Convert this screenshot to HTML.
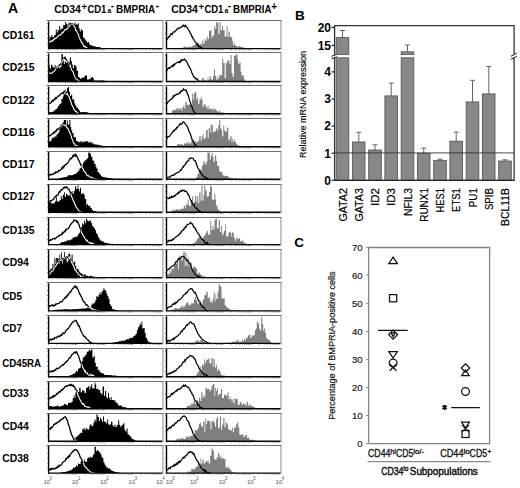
<!DOCTYPE html>
<html><head><meta charset="utf-8"><style>
html,body{margin:0;padding:0;background:#fff;}
body{width:520px;height:488px;overflow:hidden;}
svg{display:block;font-family:"Liberation Sans", sans-serif;}
</style></head><body>
<svg width="520" height="488" viewBox="0 0 520 488">
<rect width="520" height="488" fill="#fff"/>
<text x="8" y="13.4" font-size="14" font-weight="bold">A</text>
<g font-weight="bold"><text x="54.2" y="13.4" font-size="10.8" textLength="26.7" lengthAdjust="spacingAndGlyphs">CD34</text><text x="81.6" y="9.7" font-size="9.6">+</text><text x="87.4" y="13.4" font-size="10.8" textLength="19.0" lengthAdjust="spacingAndGlyphs">CD1</text><text x="107.5" y="13.3" font-size="6.8">a</text><text x="110.8" y="9.0" font-size="10.2">-</text><text x="116.1" y="13.4" font-size="10.8" textLength="39.2" lengthAdjust="spacingAndGlyphs">BMPRIA</text><text x="155.5" y="9.3" font-size="11">-</text></g>
<g font-weight="bold"><text x="171.2" y="13.4" font-size="10.8" textLength="26.7" lengthAdjust="spacingAndGlyphs">CD34</text><text x="198.6" y="9.7" font-size="9.6">+</text><text x="204.4" y="13.4" font-size="10.8" textLength="19.0" lengthAdjust="spacingAndGlyphs">CD1</text><text x="224.5" y="13.3" font-size="6.8">a</text><text x="227.8" y="9.0" font-size="10.2">-</text><text x="233.1" y="13.4" font-size="10.8" textLength="38.5" lengthAdjust="spacingAndGlyphs">BMPRIA</text><text x="271.3" y="9.75" font-size="10">+</text></g>
<text x="2.2" y="38.5" font-size="10.6" font-weight="bold" textLength="32.4" lengthAdjust="spacingAndGlyphs">CD161</text>
<path d="M162.9 20.9V49.6" fill="none" stroke="#bdbdbd" stroke-width="1.8"/>
<path d="M46.6 20.5H163.4" fill="none" stroke="#6e6e6e" stroke-width="1.0"/>
<path d="M48.6 41.9L49.2 42.6L49.9 41.8L50.5 41.1L51.1 41.0L51.7 41.4L52.4 40.4L53.0 40.9L53.6 39.3L54.2 39.3L54.9 38.2L55.5 38.6L56.1 38.4L56.7 37.4L57.4 36.9L58.0 36.2L58.6 35.8L59.2 35.1L59.9 34.7L60.5 35.1L61.1 34.4L61.7 33.6L62.3 32.4L62.9 32.8L63.6 31.7L64.2 30.8L64.8 29.8L65.4 29.6L66.0 29.5L66.6 29.4L67.2 28.3L67.9 28.2L68.5 27.0L69.1 26.7L69.8 25.8L70.5 23.4L71.2 24.0L71.9 24.0L72.5 24.0L73.2 25.0L73.9 25.8L74.5 26.3L75.2 28.2L75.8 30.6L76.5 30.4L77.2 32.4L77.9 33.7L78.6 35.1L79.3 37.9L79.9 39.0L80.6 40.0L81.3 42.2L82.0 42.4L82.7 44.3L83.4 45.0L84.1 46.8L84.9 46.3L85.6 47.2L86.4 47.9L87.2 48.1L88.0 48.6L88.7 48.6" fill="none" stroke="#000" stroke-width="1.3"/>
<clipPath id="k1"><path d="M48.6 48.6L48.6 39.7L49.6 39.7L49.6 36.5L50.4 36.5L50.4 37.4L51.4 37.4L51.4 35.1L52.4 35.1L52.4 36.9L53.2 36.9L53.2 37.2L54.0 37.2L54.0 35.2L55.0 35.2L55.0 34.8L55.8 34.8L55.8 29.4L56.8 29.4L56.8 32.6L57.8 32.6L57.8 30.3L59.2 30.3L59.2 25.9L60.2 25.9L60.2 29.7L61.2 29.7L61.2 28.4L62.0 28.4L62.0 28.6L63.2 28.6L63.2 25.0L64.2 25.0L64.2 25.2L65.2 25.2L65.2 22.1L66.2 22.1L66.2 23.9L67.4 23.9L67.4 27.4L68.4 27.4L68.4 22.9L69.8 22.9L69.8 24.5L70.8 24.5L70.8 22.9L71.6 22.9L71.6 24.2L72.6 24.2L72.6 23.8L73.8 23.8L73.8 24.5L74.6 24.5L74.6 22.1L75.4 22.1L75.4 24.4L76.8 24.4L76.8 24.6L77.8 24.6L77.8 23.2L78.8 23.2L78.8 28.5L79.8 28.5L79.8 31.5L80.8 31.5L80.8 29.3L81.8 29.3L81.8 30.5L83.0 30.5L83.0 37.5L84.4 37.5L84.4 39.3L85.6 39.3L85.6 40.7L86.8 40.7L86.8 42.6L88.0 42.6L88.0 41.9L89.0 41.9L89.0 43.8L89.8 43.8L89.8 45.2L90.8 45.2L90.8 45.3L92.2 45.3L92.2 46.0L93.2 46.0L93.2 46.2L94.6 46.2L94.6 46.5L95.8 46.5L95.8 46.9L97.2 46.9L97.2 47.1L98.0 47.1L98.0 47.1L99.0 47.1L99.0 47.1L100.0 47.1L100.0 47.5L100.8 47.5L100.8 47.7L101.6 47.7L101.6 47.9L102.4 47.9L102.4 48.0L103.4 48.0L103.4 48.2L104.8 48.2L104.8 48.3L106.0 48.3L106.0 48.6L107.2 48.6L107.2 48.6L108.2 48.6L108.2 48.6L108.4 48.6L108.4 48.6Z"/></clipPath>
<path d="M48.6 48.6L48.6 39.7L49.6 39.7L49.6 36.5L50.4 36.5L50.4 37.4L51.4 37.4L51.4 35.1L52.4 35.1L52.4 36.9L53.2 36.9L53.2 37.2L54.0 37.2L54.0 35.2L55.0 35.2L55.0 34.8L55.8 34.8L55.8 29.4L56.8 29.4L56.8 32.6L57.8 32.6L57.8 30.3L59.2 30.3L59.2 25.9L60.2 25.9L60.2 29.7L61.2 29.7L61.2 28.4L62.0 28.4L62.0 28.6L63.2 28.6L63.2 25.0L64.2 25.0L64.2 25.2L65.2 25.2L65.2 22.1L66.2 22.1L66.2 23.9L67.4 23.9L67.4 27.4L68.4 27.4L68.4 22.9L69.8 22.9L69.8 24.5L70.8 24.5L70.8 22.9L71.6 22.9L71.6 24.2L72.6 24.2L72.6 23.8L73.8 23.8L73.8 24.5L74.6 24.5L74.6 22.1L75.4 22.1L75.4 24.4L76.8 24.4L76.8 24.6L77.8 24.6L77.8 23.2L78.8 23.2L78.8 28.5L79.8 28.5L79.8 31.5L80.8 31.5L80.8 29.3L81.8 29.3L81.8 30.5L83.0 30.5L83.0 37.5L84.4 37.5L84.4 39.3L85.6 39.3L85.6 40.7L86.8 40.7L86.8 42.6L88.0 42.6L88.0 41.9L89.0 41.9L89.0 43.8L89.8 43.8L89.8 45.2L90.8 45.2L90.8 45.3L92.2 45.3L92.2 46.0L93.2 46.0L93.2 46.2L94.6 46.2L94.6 46.5L95.8 46.5L95.8 46.9L97.2 46.9L97.2 47.1L98.0 47.1L98.0 47.1L99.0 47.1L99.0 47.1L100.0 47.1L100.0 47.5L100.8 47.5L100.8 47.7L101.6 47.7L101.6 47.9L102.4 47.9L102.4 48.0L103.4 48.0L103.4 48.2L104.8 48.2L104.8 48.3L106.0 48.3L106.0 48.6L107.2 48.6L107.2 48.6L108.2 48.6L108.2 48.6L108.4 48.6L108.4 48.6Z" fill="#000"/>
<path d="M48.6 41.9L49.2 42.6L49.9 41.8L50.5 41.1L51.1 41.0L51.7 41.4L52.4 40.4L53.0 40.9L53.6 39.3L54.2 39.3L54.9 38.2L55.5 38.6L56.1 38.4L56.7 37.4L57.4 36.9L58.0 36.2L58.6 35.8L59.2 35.1L59.9 34.7L60.5 35.1L61.1 34.4L61.7 33.6L62.3 32.4L62.9 32.8L63.6 31.7L64.2 30.8L64.8 29.8L65.4 29.6L66.0 29.5L66.6 29.4L67.2 28.3L67.9 28.2L68.5 27.0L69.1 26.7L69.8 25.8L70.5 23.4L71.2 24.0L71.9 24.0L72.5 24.0L73.2 25.0L73.9 25.8L74.5 26.3L75.2 28.2L75.8 30.6L76.5 30.4L77.2 32.4L77.9 33.7L78.6 35.1L79.3 37.9L79.9 39.0L80.6 40.0L81.3 42.2L82.0 42.4L82.7 44.3L83.4 45.0L84.1 46.8L84.9 46.3L85.6 47.2L86.4 47.9L87.2 48.1L88.0 48.6L88.7 48.6" fill="none" stroke="#fff" stroke-width="1.1" clip-path="url(#k1)"/>
<path d="M48.6 21.5V48.6H162.3" fill="none" stroke="#000" stroke-width="1.4"/>
<path d="M48.6 48.6v1.6M57.1 48.6v1.6M62.0 48.6v1.6M65.5 48.6v1.6M68.2 48.6v1.6M70.4 48.6v1.6M72.3 48.6v1.6M74.0 48.6v1.6M75.4 48.6v1.6M76.7 48.6v1.6M85.1 48.6v1.6M90.1 48.6v1.6M93.6 48.6v1.6M96.3 48.6v1.6M98.5 48.6v1.6M100.4 48.6v1.6M102.0 48.6v1.6M103.5 48.6v1.6M104.8 48.6v1.6M113.2 48.6v1.6M118.1 48.6v1.6M121.7 48.6v1.6M124.4 48.6v1.6M126.6 48.6v1.6M128.5 48.6v1.6M130.1 48.6v1.6M131.5 48.6v1.6M132.8 48.6v1.6M141.3 48.6v1.6M146.2 48.6v1.6M149.7 48.6v1.6M152.4 48.6v1.6M154.7 48.6v1.6M156.6 48.6v1.6M158.2 48.6v1.6M159.6 48.6v1.6M160.9 48.6v1.6M48.6 43.6h-1.6M48.6 38.5h-1.6M48.6 33.5h-1.6M48.6 28.5h-1.6M48.6 23.4h-1.6" stroke="#444" stroke-width="0.6" fill="none"/>
<path d="M281.0 20.9V49.6" fill="none" stroke="#bdbdbd" stroke-width="1.8"/>
<path d="M164.5 20.5H281.5" fill="none" stroke="#6e6e6e" stroke-width="1.0"/>
<path d="M180.2 48.6L180.2 48.2L181.2 48.2L181.2 47.9L182.4 47.9L182.4 47.4L183.8 47.4L183.8 46.8L184.8 46.8L184.8 46.6L185.6 46.6L185.6 46.9L186.4 46.9L186.4 47.6L187.6 47.6L187.6 46.5L188.6 46.5L188.6 46.9L190.0 46.9L190.0 46.5L191.0 46.5L191.0 47.0L191.8 47.0L191.8 46.0L193.0 46.0L193.0 45.4L194.4 45.4L194.4 44.7L195.8 44.7L195.8 43.9L197.2 43.9L197.2 44.3L198.2 44.3L198.2 42.6L199.2 42.6L199.2 45.0L200.0 45.0L200.0 44.1L201.4 44.1L201.4 44.7L202.2 44.7L202.2 40.5L203.2 40.5L203.2 43.5L204.6 43.5L204.6 39.0L205.4 39.0L205.4 40.8L206.8 40.8L206.8 36.7L207.8 36.7L207.8 38.9L209.0 38.9L209.0 30.9L210.4 30.9L210.4 30.0L211.4 30.0L211.4 37.7L212.4 37.7L212.4 35.1L213.2 35.1L213.2 35.9L214.2 35.9L214.2 26.0L215.2 26.0L215.2 28.9L216.2 28.9L216.2 22.1L217.2 22.1L217.2 22.8L218.4 22.8L218.4 34.1L219.6 34.1L219.6 22.1L220.6 22.1L220.6 30.3L222.0 30.3L222.0 26.1L223.0 26.1L223.0 30.2L223.8 30.2L223.8 29.9L224.6 29.9L224.6 36.6L225.6 36.6L225.6 36.5L226.6 36.5L226.6 26.2L227.6 26.2L227.6 37.1L228.6 37.1L228.6 31.8L229.8 31.8L229.8 36.7L230.8 36.7L230.8 37.3L232.2 37.3L232.2 41.0L233.0 41.0L233.0 45.0L234.0 45.0L234.0 43.0L234.8 43.0L234.8 45.5L235.6 45.5L235.6 45.9L236.6 45.9L236.6 46.2L237.6 46.2L237.6 47.2L238.6 47.2L238.6 45.9L239.6 45.9L239.6 46.1L240.6 46.1L240.6 47.0L241.6 47.0L241.6 47.3L242.6 47.3L242.6 47.2L243.6 47.2L243.6 47.5L244.6 47.5L244.6 48.2L246.0 48.2L246.0 48.4L247.2 48.4L247.2 48.5L248.4 48.5L248.4 48.6L249.5 48.6L249.5 48.6Z" fill="#7f7f7f"/>
<path d="M166.5 39.7L167.1 39.2L167.8 38.7L168.4 37.0L169.0 36.5L169.7 36.7L170.3 34.6L170.9 33.8L171.6 33.6L172.2 34.4L172.8 32.8L173.4 31.9L174.1 32.0L174.7 32.1L175.3 30.5L176.0 30.5L176.6 29.8L177.2 28.6L177.9 28.7L178.5 28.0L179.2 28.5L179.8 27.9L180.5 27.3L181.2 27.4L181.8 26.5L182.5 26.4L183.2 25.1L183.9 26.0L184.6 26.5L185.2 25.3L185.9 26.6L186.7 27.2L187.5 27.8L188.2 29.6L188.9 30.4L189.6 31.2L190.3 33.3L191.0 34.0L191.7 36.5L192.4 36.5L193.1 38.8L193.8 39.3L194.5 40.7L195.2 41.9L195.9 42.4L196.6 44.3L197.3 43.9L197.9 44.9L198.6 46.8L199.3 46.1L200.0 46.8L200.7 47.4L201.4 47.7L202.1 48.0L202.9 48.4L203.6 48.6L204.4 48.5" fill="none" stroke="#000" stroke-width="1.25"/>
<path d="M166.5 21.5V48.6H280.4" fill="none" stroke="#000" stroke-width="1.4"/>
<path d="M166.5 48.6v1.6M175.0 48.6v1.6M179.9 48.6v1.6M183.4 48.6v1.6M186.2 48.6v1.6M188.4 48.6v1.6M190.3 48.6v1.6M191.9 48.6v1.6M193.3 48.6v1.6M194.6 48.6v1.6M203.1 48.6v1.6M208.0 48.6v1.6M211.6 48.6v1.6M214.3 48.6v1.6M216.5 48.6v1.6M218.4 48.6v1.6M220.0 48.6v1.6M221.5 48.6v1.6M222.8 48.6v1.6M231.2 48.6v1.6M236.2 48.6v1.6M239.7 48.6v1.6M242.4 48.6v1.6M244.6 48.6v1.6M246.5 48.6v1.6M248.1 48.6v1.6M249.6 48.6v1.6M250.9 48.6v1.6M259.3 48.6v1.6M264.3 48.6v1.6M267.8 48.6v1.6M270.5 48.6v1.6M272.8 48.6v1.6M274.6 48.6v1.6M276.3 48.6v1.6M277.7 48.6v1.6M279.0 48.6v1.6M166.5 43.6h-1.6M166.5 38.5h-1.6M166.5 33.5h-1.6M166.5 28.5h-1.6M166.5 23.4h-1.6" stroke="#444" stroke-width="0.6" fill="none"/>
<text x="2.2" y="71.2" font-size="10.6" font-weight="bold" textLength="32.4" lengthAdjust="spacingAndGlyphs">CD215</text>
<path d="M162.9 52.9V82.5" fill="none" stroke="#bdbdbd" stroke-width="1.8"/>
<path d="M46.6 52.5H163.4" fill="none" stroke="#6e6e6e" stroke-width="1.0"/>
<path d="M48.6 74.4L49.2 73.1L49.9 72.7L50.5 73.3L51.2 73.5L51.8 73.0L52.4 72.7L53.1 71.9L53.7 71.8L54.4 71.0L55.0 70.4L55.7 69.3L56.3 68.1L56.9 67.6L57.6 67.4L58.2 66.5L58.9 65.6L59.5 65.0L60.2 64.3L60.8 64.0L61.5 62.9L62.1 61.3L62.8 61.1L63.5 59.1L64.2 58.0L64.9 57.4L65.6 58.8L66.3 59.5L67.0 60.5L67.7 61.5L68.4 62.6L69.1 63.0L69.8 64.5L70.5 66.0L71.1 68.9L71.8 70.4L72.5 70.9L73.2 72.2L73.9 74.5L74.6 75.9L75.3 78.3L76.0 78.9L76.8 79.2L77.5 79.9L78.3 80.6L79.2 81.1L80.0 81.5" fill="none" stroke="#000" stroke-width="1.3"/>
<clipPath id="k2"><path d="M48.6 81.5L48.6 65.2L49.6 65.2L49.6 68.6L51.0 68.6L51.0 64.8L52.4 64.8L52.4 67.1L53.8 67.1L53.8 68.1L54.6 68.1L54.6 64.9L55.6 64.9L55.6 68.8L56.6 68.8L56.6 66.0L57.8 66.0L57.8 65.7L59.2 65.7L59.2 68.6L60.0 68.6L60.0 67.2L61.4 67.2L61.4 54.1L62.8 54.1L62.8 57.3L63.8 57.3L63.8 63.9L64.8 63.9L64.8 61.6L66.0 61.6L66.0 62.7L67.2 62.7L67.2 60.0L68.0 60.0L68.0 63.9L68.8 63.9L68.8 66.4L69.8 66.4L69.8 57.4L71.0 57.4L71.0 60.9L71.8 60.9L71.8 64.6L72.8 64.6L72.8 68.3L74.0 68.3L74.0 65.0L75.4 65.0L75.4 66.4L76.6 66.4L76.6 70.8L78.0 70.8L78.0 76.9L79.0 76.9L79.0 77.4L80.0 77.4L80.0 78.8L81.4 78.8L81.4 77.8L82.8 77.8L82.8 78.0L83.6 78.0L83.6 77.1L84.8 77.1L84.8 75.6L86.0 75.6L86.0 75.6L87.0 75.6L87.0 79.6L87.8 79.6L87.8 79.8L88.8 79.8L88.8 78.8L89.8 78.8L89.8 79.3L90.8 79.3L90.8 77.6L92.0 77.6L92.0 76.9L93.0 76.9L93.0 78.3L93.8 78.3L93.8 80.5L94.8 80.5L94.8 80.4L95.8 80.4L95.8 80.5L96.8 80.5L96.8 80.4L97.6 80.4L97.6 80.5L99.0 80.5L99.0 80.6L99.8 80.6L99.8 80.5L101.2 80.5L101.2 80.4L102.2 80.4L102.2 80.2L103.6 80.2L103.6 80.7L104.6 80.7L104.6 80.8L105.6 80.8L105.6 81.0L106.8 81.0L106.8 81.3L107.8 81.3L107.8 81.5L108.0 81.5L108.0 81.5Z"/></clipPath>
<path d="M48.6 81.5L48.6 65.2L49.6 65.2L49.6 68.6L51.0 68.6L51.0 64.8L52.4 64.8L52.4 67.1L53.8 67.1L53.8 68.1L54.6 68.1L54.6 64.9L55.6 64.9L55.6 68.8L56.6 68.8L56.6 66.0L57.8 66.0L57.8 65.7L59.2 65.7L59.2 68.6L60.0 68.6L60.0 67.2L61.4 67.2L61.4 54.1L62.8 54.1L62.8 57.3L63.8 57.3L63.8 63.9L64.8 63.9L64.8 61.6L66.0 61.6L66.0 62.7L67.2 62.7L67.2 60.0L68.0 60.0L68.0 63.9L68.8 63.9L68.8 66.4L69.8 66.4L69.8 57.4L71.0 57.4L71.0 60.9L71.8 60.9L71.8 64.6L72.8 64.6L72.8 68.3L74.0 68.3L74.0 65.0L75.4 65.0L75.4 66.4L76.6 66.4L76.6 70.8L78.0 70.8L78.0 76.9L79.0 76.9L79.0 77.4L80.0 77.4L80.0 78.8L81.4 78.8L81.4 77.8L82.8 77.8L82.8 78.0L83.6 78.0L83.6 77.1L84.8 77.1L84.8 75.6L86.0 75.6L86.0 75.6L87.0 75.6L87.0 79.6L87.8 79.6L87.8 79.8L88.8 79.8L88.8 78.8L89.8 78.8L89.8 79.3L90.8 79.3L90.8 77.6L92.0 77.6L92.0 76.9L93.0 76.9L93.0 78.3L93.8 78.3L93.8 80.5L94.8 80.5L94.8 80.4L95.8 80.4L95.8 80.5L96.8 80.5L96.8 80.4L97.6 80.4L97.6 80.5L99.0 80.5L99.0 80.6L99.8 80.6L99.8 80.5L101.2 80.5L101.2 80.4L102.2 80.4L102.2 80.2L103.6 80.2L103.6 80.7L104.6 80.7L104.6 80.8L105.6 80.8L105.6 81.0L106.8 81.0L106.8 81.3L107.8 81.3L107.8 81.5L108.0 81.5L108.0 81.5Z" fill="#000"/>
<path d="M48.6 74.4L49.2 73.1L49.9 72.7L50.5 73.3L51.2 73.5L51.8 73.0L52.4 72.7L53.1 71.9L53.7 71.8L54.4 71.0L55.0 70.4L55.7 69.3L56.3 68.1L56.9 67.6L57.6 67.4L58.2 66.5L58.9 65.6L59.5 65.0L60.2 64.3L60.8 64.0L61.5 62.9L62.1 61.3L62.8 61.1L63.5 59.1L64.2 58.0L64.9 57.4L65.6 58.8L66.3 59.5L67.0 60.5L67.7 61.5L68.4 62.6L69.1 63.0L69.8 64.5L70.5 66.0L71.1 68.9L71.8 70.4L72.5 70.9L73.2 72.2L73.9 74.5L74.6 75.9L75.3 78.3L76.0 78.9L76.8 79.2L77.5 79.9L78.3 80.6L79.2 81.1L80.0 81.5" fill="none" stroke="#fff" stroke-width="1.1" clip-path="url(#k2)"/>
<path d="M48.6 53.5V81.5H162.3" fill="none" stroke="#000" stroke-width="1.4"/>
<path d="M48.6 81.5v1.6M57.1 81.5v1.6M62.0 81.5v1.6M65.5 81.5v1.6M68.2 81.5v1.6M70.4 81.5v1.6M72.3 81.5v1.6M74.0 81.5v1.6M75.4 81.5v1.6M76.7 81.5v1.6M85.1 81.5v1.6M90.1 81.5v1.6M93.6 81.5v1.6M96.3 81.5v1.6M98.5 81.5v1.6M100.4 81.5v1.6M102.0 81.5v1.6M103.5 81.5v1.6M104.8 81.5v1.6M113.2 81.5v1.6M118.1 81.5v1.6M121.7 81.5v1.6M124.4 81.5v1.6M126.6 81.5v1.6M128.5 81.5v1.6M130.1 81.5v1.6M131.5 81.5v1.6M132.8 81.5v1.6M141.3 81.5v1.6M146.2 81.5v1.6M149.7 81.5v1.6M152.4 81.5v1.6M154.7 81.5v1.6M156.6 81.5v1.6M158.2 81.5v1.6M159.6 81.5v1.6M160.9 81.5v1.6M48.6 76.3h-1.6M48.6 71.1h-1.6M48.6 65.9h-1.6M48.6 60.7h-1.6M48.6 55.5h-1.6" stroke="#444" stroke-width="0.6" fill="none"/>
<path d="M281.0 52.9V82.5" fill="none" stroke="#bdbdbd" stroke-width="1.8"/>
<path d="M164.5 52.5H281.5" fill="none" stroke="#6e6e6e" stroke-width="1.0"/>
<path d="M201.0 81.5L201.0 80.7L201.8 80.7L201.8 79.1L202.6 79.1L202.6 77.7L203.8 77.7L203.8 80.3L204.6 80.3L204.6 80.1L205.4 80.1L205.4 79.4L206.4 79.4L206.4 80.6L207.6 80.6L207.6 77.7L208.4 77.7L208.4 80.1L209.4 80.1L209.4 76.3L210.8 76.3L210.8 79.3L212.0 79.3L212.0 79.6L213.0 79.6L213.0 75.7L214.0 75.7L214.0 69.4L215.0 69.4L215.0 75.9L216.2 75.9L216.2 79.7L217.4 79.7L217.4 76.6L218.2 76.6L218.2 78.7L219.2 78.7L219.2 74.4L220.2 74.4L220.2 75.9L221.2 75.9L221.2 75.0L222.2 75.0L222.2 58.8L223.2 58.8L223.2 63.0L224.6 63.0L224.6 78.3L225.8 78.3L225.8 63.2L227.2 63.2L227.2 61.1L228.2 61.1L228.2 60.3L229.4 60.3L229.4 64.0L230.6 64.0L230.6 55.1L231.6 55.1L231.6 73.1L232.6 73.1L232.6 76.7L234.0 76.7L234.0 56.0L235.2 56.0L235.2 55.3L236.4 55.3L236.4 54.1L237.4 54.1L237.4 59.5L238.2 59.5L238.2 64.0L239.4 64.0L239.4 62.6L240.6 62.6L240.6 71.7L241.6 71.7L241.6 75.4L242.6 75.4L242.6 75.4L243.8 75.4L243.8 79.3L245.0 79.3L245.0 81.3L245.8 81.3L245.8 81.1L246.8 81.1L246.8 81.5L247.1 81.5L247.1 81.5Z" fill="#7f7f7f"/>
<path d="M166.5 68.8L167.1 70.0L167.8 68.7L168.4 68.4L169.0 67.7L169.7 68.3L170.3 67.3L170.9 67.0L171.6 66.3L172.2 65.5L172.9 66.4L173.6 64.7L174.2 65.3L174.9 63.8L175.5 63.8L176.2 62.9L176.9 62.5L177.5 62.0L178.2 61.9L178.8 62.7L179.5 61.8L180.2 62.3L180.9 60.3L181.6 60.8L182.2 59.6L182.9 60.1L183.6 59.9L184.3 59.1L185.0 60.2L185.7 60.3L186.4 61.4L187.1 62.5L187.8 63.8L188.5 65.6L189.2 66.7L189.9 67.8L190.6 69.5L191.3 70.9L191.9 73.0L192.6 74.1L193.3 76.0L194.0 77.2L194.7 77.2L195.4 78.7L196.1 79.0L196.8 78.6L197.5 79.1L198.3 81.1L199.0 81.2L199.8 81.3L201.0 81.3" fill="none" stroke="#000" stroke-width="1.25"/>
<path d="M166.5 53.5V81.5H280.4" fill="none" stroke="#000" stroke-width="1.4"/>
<path d="M166.5 81.5v1.6M175.0 81.5v1.6M179.9 81.5v1.6M183.4 81.5v1.6M186.2 81.5v1.6M188.4 81.5v1.6M190.3 81.5v1.6M191.9 81.5v1.6M193.3 81.5v1.6M194.6 81.5v1.6M203.1 81.5v1.6M208.0 81.5v1.6M211.6 81.5v1.6M214.3 81.5v1.6M216.5 81.5v1.6M218.4 81.5v1.6M220.0 81.5v1.6M221.5 81.5v1.6M222.8 81.5v1.6M231.2 81.5v1.6M236.2 81.5v1.6M239.7 81.5v1.6M242.4 81.5v1.6M244.6 81.5v1.6M246.5 81.5v1.6M248.1 81.5v1.6M249.6 81.5v1.6M250.9 81.5v1.6M259.3 81.5v1.6M264.3 81.5v1.6M267.8 81.5v1.6M270.5 81.5v1.6M272.8 81.5v1.6M274.6 81.5v1.6M276.3 81.5v1.6M277.7 81.5v1.6M279.0 81.5v1.6M166.5 76.3h-1.6M166.5 71.1h-1.6M166.5 65.9h-1.6M166.5 60.7h-1.6M166.5 55.5h-1.6" stroke="#444" stroke-width="0.6" fill="none"/>
<text x="2.2" y="103.7" font-size="10.6" font-weight="bold" textLength="32.4" lengthAdjust="spacingAndGlyphs">CD122</text>
<path d="M162.9 85.8V114.8" fill="none" stroke="#bdbdbd" stroke-width="1.8"/>
<path d="M46.6 85.5H163.4" fill="none" stroke="#6e6e6e" stroke-width="1.0"/>
<path d="M48.6 103.8L49.2 103.3L49.9 103.1L50.5 103.1L51.2 102.5L51.8 101.2L52.5 100.4L53.1 101.2L53.8 99.8L54.4 98.9L55.1 99.5L55.7 97.7L56.4 98.4L57.0 97.1L57.7 96.7L58.3 96.0L58.9 96.0L59.5 95.2L60.2 94.5L60.8 94.2L61.4 93.4L62.1 93.3L62.7 92.9L63.3 93.3L64.2 91.2L65.0 91.5L65.7 92.4L66.4 92.2L67.1 93.0L67.7 94.5L68.4 96.0L69.1 96.7L69.8 99.0L70.5 100.8L71.1 102.4L71.8 104.9L72.5 106.0L73.2 107.3L73.9 109.4L74.6 109.6L75.3 111.6L76.0 111.3L76.8 112.0L77.5 112.8L78.3 113.2L79.2 113.5L80.0 113.8" fill="none" stroke="#000" stroke-width="1.3"/>
<clipPath id="k3"><path d="M48.6 113.8L48.6 112.0L49.6 112.0L49.6 112.2L50.4 112.2L50.4 112.2L51.4 112.2L51.4 111.7L52.4 111.7L52.4 112.0L53.4 112.0L53.4 110.8L54.8 110.8L54.8 109.7L55.8 109.7L55.8 109.2L56.8 109.2L56.8 108.1L58.0 108.1L58.0 106.0L59.2 106.0L59.2 104.3L60.4 104.3L60.4 103.4L61.4 103.4L61.4 98.9L62.8 98.9L62.8 96.4L63.6 96.4L63.6 94.2L64.8 94.2L64.8 89.5L65.6 89.5L65.6 94.9L67.0 94.9L67.0 88.3L68.0 88.3L68.0 87.0L69.0 87.0L69.0 91.8L70.0 91.8L70.0 96.0L71.2 96.0L71.2 94.4L72.2 94.4L72.2 99.5L73.4 99.5L73.4 99.3L74.2 99.3L74.2 103.2L75.2 103.2L75.2 105.6L76.2 105.6L76.2 107.4L77.2 107.4L77.2 107.7L78.0 107.7L78.0 109.2L79.0 109.2L79.0 110.4L80.0 110.4L80.0 112.2L81.2 112.2L81.2 112.0L82.2 112.0L82.2 112.3L83.4 112.3L83.4 112.1L84.4 112.1L84.4 112.1L85.4 112.1L85.4 112.2L86.2 112.2L86.2 112.2L87.6 112.2L87.6 112.6L88.6 112.6L88.6 112.9L89.4 112.9L89.4 113.1L90.4 113.1L90.4 113.2L91.2 113.2L91.2 113.4L92.0 113.4L92.0 113.5L92.8 113.5L92.8 113.6L93.8 113.6L93.8 113.7L95.2 113.7L95.2 113.8L96.0 113.8L96.0 113.8Z"/></clipPath>
<path d="M48.6 113.8L48.6 112.0L49.6 112.0L49.6 112.2L50.4 112.2L50.4 112.2L51.4 112.2L51.4 111.7L52.4 111.7L52.4 112.0L53.4 112.0L53.4 110.8L54.8 110.8L54.8 109.7L55.8 109.7L55.8 109.2L56.8 109.2L56.8 108.1L58.0 108.1L58.0 106.0L59.2 106.0L59.2 104.3L60.4 104.3L60.4 103.4L61.4 103.4L61.4 98.9L62.8 98.9L62.8 96.4L63.6 96.4L63.6 94.2L64.8 94.2L64.8 89.5L65.6 89.5L65.6 94.9L67.0 94.9L67.0 88.3L68.0 88.3L68.0 87.0L69.0 87.0L69.0 91.8L70.0 91.8L70.0 96.0L71.2 96.0L71.2 94.4L72.2 94.4L72.2 99.5L73.4 99.5L73.4 99.3L74.2 99.3L74.2 103.2L75.2 103.2L75.2 105.6L76.2 105.6L76.2 107.4L77.2 107.4L77.2 107.7L78.0 107.7L78.0 109.2L79.0 109.2L79.0 110.4L80.0 110.4L80.0 112.2L81.2 112.2L81.2 112.0L82.2 112.0L82.2 112.3L83.4 112.3L83.4 112.1L84.4 112.1L84.4 112.1L85.4 112.1L85.4 112.2L86.2 112.2L86.2 112.2L87.6 112.2L87.6 112.6L88.6 112.6L88.6 112.9L89.4 112.9L89.4 113.1L90.4 113.1L90.4 113.2L91.2 113.2L91.2 113.4L92.0 113.4L92.0 113.5L92.8 113.5L92.8 113.6L93.8 113.6L93.8 113.7L95.2 113.7L95.2 113.8L96.0 113.8L96.0 113.8Z" fill="#000"/>
<path d="M48.6 103.8L49.2 103.3L49.9 103.1L50.5 103.1L51.2 102.5L51.8 101.2L52.5 100.4L53.1 101.2L53.8 99.8L54.4 98.9L55.1 99.5L55.7 97.7L56.4 98.4L57.0 97.1L57.7 96.7L58.3 96.0L58.9 96.0L59.5 95.2L60.2 94.5L60.8 94.2L61.4 93.4L62.1 93.3L62.7 92.9L63.3 93.3L64.2 91.2L65.0 91.5L65.7 92.4L66.4 92.2L67.1 93.0L67.7 94.5L68.4 96.0L69.1 96.7L69.8 99.0L70.5 100.8L71.1 102.4L71.8 104.9L72.5 106.0L73.2 107.3L73.9 109.4L74.6 109.6L75.3 111.6L76.0 111.3L76.8 112.0L77.5 112.8L78.3 113.2L79.2 113.5L80.0 113.8" fill="none" stroke="#fff" stroke-width="1.1" clip-path="url(#k3)"/>
<path d="M48.6 86.4V113.8H162.3" fill="none" stroke="#000" stroke-width="1.4"/>
<path d="M48.6 113.8v1.6M57.1 113.8v1.6M62.0 113.8v1.6M65.5 113.8v1.6M68.2 113.8v1.6M70.4 113.8v1.6M72.3 113.8v1.6M74.0 113.8v1.6M75.4 113.8v1.6M76.7 113.8v1.6M85.1 113.8v1.6M90.1 113.8v1.6M93.6 113.8v1.6M96.3 113.8v1.6M98.5 113.8v1.6M100.4 113.8v1.6M102.0 113.8v1.6M103.5 113.8v1.6M104.8 113.8v1.6M113.2 113.8v1.6M118.1 113.8v1.6M121.7 113.8v1.6M124.4 113.8v1.6M126.6 113.8v1.6M128.5 113.8v1.6M130.1 113.8v1.6M131.5 113.8v1.6M132.8 113.8v1.6M141.3 113.8v1.6M146.2 113.8v1.6M149.7 113.8v1.6M152.4 113.8v1.6M154.7 113.8v1.6M156.6 113.8v1.6M158.2 113.8v1.6M159.6 113.8v1.6M160.9 113.8v1.6M48.6 108.7h-1.6M48.6 103.6h-1.6M48.6 98.5h-1.6M48.6 93.4h-1.6M48.6 88.3h-1.6" stroke="#444" stroke-width="0.6" fill="none"/>
<path d="M281.0 85.8V114.8" fill="none" stroke="#bdbdbd" stroke-width="1.8"/>
<path d="M164.5 85.5H281.5" fill="none" stroke="#6e6e6e" stroke-width="1.0"/>
<path d="M170.9 113.8L170.9 112.9L171.9 112.9L171.9 110.7L173.3 110.7L173.3 109.5L174.3 109.5L174.3 109.9L175.3 109.9L175.3 110.0L176.3 110.0L176.3 108.7L177.3 108.7L177.3 107.7L178.3 107.7L178.3 110.1L179.3 110.1L179.3 108.2L180.3 108.2L180.3 108.6L181.3 108.6L181.3 110.6L182.3 110.6L182.3 107.6L183.3 107.6L183.3 106.0L184.3 106.0L184.3 108.4L185.3 108.4L185.3 101.8L186.7 101.8L186.7 104.9L187.9 104.9L187.9 104.6L188.7 104.6L188.7 104.8L189.9 104.8L189.9 102.7L191.1 102.7L191.1 105.8L192.1 105.8L192.1 93.7L193.1 93.7L193.1 99.6L193.9 99.6L193.9 93.3L194.9 93.3L194.9 91.9L196.3 91.9L196.3 100.1L197.1 100.1L197.1 97.7L198.1 97.7L198.1 103.7L199.5 103.7L199.5 99.7L200.7 99.7L200.7 96.8L201.5 96.8L201.5 99.5L202.5 99.5L202.5 106.7L203.5 106.7L203.5 105.2L204.5 105.2L204.5 104.1L205.7 104.1L205.7 107.5L206.7 107.5L206.7 106.3L207.5 106.3L207.5 109.3L208.5 109.3L208.5 105.5L209.3 105.5L209.3 108.9L210.3 108.9L210.3 109.0L211.7 109.0L211.7 108.5L212.7 108.5L212.7 110.7L213.5 110.7L213.5 108.5L214.5 108.5L214.5 109.0L215.3 109.0L215.3 109.5L216.3 109.5L216.3 110.7L217.7 110.7L217.7 111.9L218.9 111.9L218.9 110.3L219.9 110.3L219.9 112.6L221.1 112.6L221.1 112.4L222.3 112.4L222.3 112.2L223.5 112.2L223.5 113.3L224.5 113.3L224.5 113.0L225.5 113.0L225.5 113.4L226.5 113.4L226.5 113.2L227.9 113.2L227.9 113.4L229.3 113.4L229.3 113.2L230.3 113.2L230.3 113.5L231.3 113.5L231.3 113.7L232.3 113.7L232.3 113.8L233.3 113.8L233.3 113.8Z" fill="#7f7f7f"/>
<path d="M166.5 103.6L167.1 103.6L167.7 102.4L168.3 101.7L169.0 100.9L169.6 100.4L170.2 100.1L170.8 99.5L171.4 98.7L172.0 98.8L172.6 98.1L173.2 96.1L173.9 96.7L174.5 95.2L175.1 94.9L175.8 95.1L176.4 94.4L177.0 94.0L177.6 94.3L178.3 94.1L178.9 93.6L179.5 92.5L180.2 92.8L180.8 90.9L181.5 90.7L182.1 91.1L182.8 90.3L183.5 89.0L184.1 89.8L184.8 89.8L185.5 90.5L186.2 90.3L186.9 92.0L187.6 94.5L188.2 94.9L189.0 98.2L189.8 100.9L190.6 103.2L191.3 105.5L192.1 107.4L192.9 109.6L193.6 111.2L194.4 112.5L195.2 113.6L195.9 113.2L196.7 113.5L197.5 113.7" fill="none" stroke="#000" stroke-width="1.25"/>
<path d="M166.5 86.4V113.8H280.4" fill="none" stroke="#000" stroke-width="1.4"/>
<path d="M166.5 113.8v1.6M175.0 113.8v1.6M179.9 113.8v1.6M183.4 113.8v1.6M186.2 113.8v1.6M188.4 113.8v1.6M190.3 113.8v1.6M191.9 113.8v1.6M193.3 113.8v1.6M194.6 113.8v1.6M203.1 113.8v1.6M208.0 113.8v1.6M211.6 113.8v1.6M214.3 113.8v1.6M216.5 113.8v1.6M218.4 113.8v1.6M220.0 113.8v1.6M221.5 113.8v1.6M222.8 113.8v1.6M231.2 113.8v1.6M236.2 113.8v1.6M239.7 113.8v1.6M242.4 113.8v1.6M244.6 113.8v1.6M246.5 113.8v1.6M248.1 113.8v1.6M249.6 113.8v1.6M250.9 113.8v1.6M259.3 113.8v1.6M264.3 113.8v1.6M267.8 113.8v1.6M270.5 113.8v1.6M272.8 113.8v1.6M274.6 113.8v1.6M276.3 113.8v1.6M277.7 113.8v1.6M279.0 113.8v1.6M166.5 108.7h-1.6M166.5 103.6h-1.6M166.5 98.5h-1.6M166.5 93.4h-1.6M166.5 88.3h-1.6" stroke="#444" stroke-width="0.6" fill="none"/>
<text x="2.2" y="136.1" font-size="10.6" font-weight="bold" textLength="32.4" lengthAdjust="spacingAndGlyphs">CD116</text>
<path d="M162.9 118.7V147.8" fill="none" stroke="#bdbdbd" stroke-width="1.8"/>
<path d="M46.6 118.5H163.4" fill="none" stroke="#6e6e6e" stroke-width="1.0"/>
<path d="M48.6 136.5L49.2 136.3L49.8 135.7L50.4 135.6L51.0 135.0L51.6 134.2L52.2 134.2L52.8 133.9L53.4 132.5L54.0 133.2L54.6 131.9L55.2 132.0L55.9 130.7L56.6 131.0L57.2 129.0L57.9 129.3L58.5 129.2L59.2 128.2L59.9 127.5L60.5 127.3L61.2 126.0L61.9 125.3L62.6 124.4L63.3 124.7L63.9 124.9L64.6 125.4L65.2 125.2L65.9 125.6L66.5 126.9L67.2 128.1L67.8 128.0L68.4 129.7L69.1 131.3L69.8 133.0L70.5 133.9L71.1 135.9L71.8 138.2L72.5 140.1L73.2 141.7L73.9 143.7L74.7 143.7L75.4 145.5L76.3 145.8L77.1 145.9L77.7 146.2L78.4 146.6L79.0 146.8" fill="none" stroke="#000" stroke-width="1.3"/>
<clipPath id="k4"><path d="M48.6 146.8L48.6 141.2L49.4 141.2L49.4 141.5L50.4 141.5L50.4 140.9L51.4 140.9L51.4 138.7L52.4 138.7L52.4 137.3L53.4 137.3L53.4 137.9L54.4 137.9L54.4 136.2L55.6 136.2L55.6 136.9L56.4 136.9L56.4 134.4L57.8 134.4L57.8 133.3L58.6 133.3L58.6 132.2L59.4 132.2L59.4 127.9L60.6 127.9L60.6 124.8L61.4 124.8L61.4 126.6L62.6 126.6L62.6 122.5L63.8 122.5L63.8 120.0L65.2 120.0L65.2 119.9L66.2 119.9L66.2 125.0L67.2 125.0L67.2 120.4L68.0 120.4L68.0 124.5L69.4 124.5L69.4 119.9L70.4 119.9L70.4 127.1L71.2 127.1L71.2 130.2L72.2 130.2L72.2 133.0L73.6 133.0L73.6 137.2L74.6 137.2L74.6 137.3L76.0 137.3L76.0 140.8L76.8 140.8L76.8 141.1L77.8 141.1L77.8 141.9L79.2 141.9L79.2 142.2L80.4 142.2L80.4 141.1L81.4 141.1L81.4 142.4L82.4 142.4L82.4 141.4L83.8 141.4L83.8 142.0L84.8 142.0L84.8 141.2L85.8 141.2L85.8 141.6L86.8 141.6L86.8 141.1L87.6 141.1L87.6 141.9L88.6 141.9L88.6 142.7L89.6 142.7L89.6 141.5L90.6 141.5L90.6 143.2L91.6 143.2L91.6 142.1L92.4 142.1L92.4 143.6L93.6 143.6L93.6 144.2L94.6 144.2L94.6 144.5L96.0 144.5L96.0 144.5L97.0 144.5L97.0 144.8L98.4 144.8L98.4 145.0L99.4 145.0L99.4 145.3L100.8 145.3L100.8 145.6L101.6 145.6L101.6 145.7L102.4 145.7L102.4 145.7L103.6 145.7L103.6 146.0L104.6 146.0L104.6 146.2L105.4 146.2L105.4 146.3L106.4 146.3L106.4 146.4L107.2 146.4L107.2 146.5L108.0 146.5L108.0 146.7L109.0 146.7L109.0 146.8L110.0 146.8L110.0 146.8Z"/></clipPath>
<path d="M48.6 146.8L48.6 141.2L49.4 141.2L49.4 141.5L50.4 141.5L50.4 140.9L51.4 140.9L51.4 138.7L52.4 138.7L52.4 137.3L53.4 137.3L53.4 137.9L54.4 137.9L54.4 136.2L55.6 136.2L55.6 136.9L56.4 136.9L56.4 134.4L57.8 134.4L57.8 133.3L58.6 133.3L58.6 132.2L59.4 132.2L59.4 127.9L60.6 127.9L60.6 124.8L61.4 124.8L61.4 126.6L62.6 126.6L62.6 122.5L63.8 122.5L63.8 120.0L65.2 120.0L65.2 119.9L66.2 119.9L66.2 125.0L67.2 125.0L67.2 120.4L68.0 120.4L68.0 124.5L69.4 124.5L69.4 119.9L70.4 119.9L70.4 127.1L71.2 127.1L71.2 130.2L72.2 130.2L72.2 133.0L73.6 133.0L73.6 137.2L74.6 137.2L74.6 137.3L76.0 137.3L76.0 140.8L76.8 140.8L76.8 141.1L77.8 141.1L77.8 141.9L79.2 141.9L79.2 142.2L80.4 142.2L80.4 141.1L81.4 141.1L81.4 142.4L82.4 142.4L82.4 141.4L83.8 141.4L83.8 142.0L84.8 142.0L84.8 141.2L85.8 141.2L85.8 141.6L86.8 141.6L86.8 141.1L87.6 141.1L87.6 141.9L88.6 141.9L88.6 142.7L89.6 142.7L89.6 141.5L90.6 141.5L90.6 143.2L91.6 143.2L91.6 142.1L92.4 142.1L92.4 143.6L93.6 143.6L93.6 144.2L94.6 144.2L94.6 144.5L96.0 144.5L96.0 144.5L97.0 144.5L97.0 144.8L98.4 144.8L98.4 145.0L99.4 145.0L99.4 145.3L100.8 145.3L100.8 145.6L101.6 145.6L101.6 145.7L102.4 145.7L102.4 145.7L103.6 145.7L103.6 146.0L104.6 146.0L104.6 146.2L105.4 146.2L105.4 146.3L106.4 146.3L106.4 146.4L107.2 146.4L107.2 146.5L108.0 146.5L108.0 146.7L109.0 146.7L109.0 146.8L110.0 146.8L110.0 146.8Z" fill="#000"/>
<path d="M48.6 136.5L49.2 136.3L49.8 135.7L50.4 135.6L51.0 135.0L51.6 134.2L52.2 134.2L52.8 133.9L53.4 132.5L54.0 133.2L54.6 131.9L55.2 132.0L55.9 130.7L56.6 131.0L57.2 129.0L57.9 129.3L58.5 129.2L59.2 128.2L59.9 127.5L60.5 127.3L61.2 126.0L61.9 125.3L62.6 124.4L63.3 124.7L63.9 124.9L64.6 125.4L65.2 125.2L65.9 125.6L66.5 126.9L67.2 128.1L67.8 128.0L68.4 129.7L69.1 131.3L69.8 133.0L70.5 133.9L71.1 135.9L71.8 138.2L72.5 140.1L73.2 141.7L73.9 143.7L74.7 143.7L75.4 145.5L76.3 145.8L77.1 145.9L77.7 146.2L78.4 146.6L79.0 146.8" fill="none" stroke="#fff" stroke-width="1.1" clip-path="url(#k4)"/>
<path d="M48.6 119.3V146.8H162.3" fill="none" stroke="#000" stroke-width="1.4"/>
<path d="M48.6 146.8v1.6M57.1 146.8v1.6M62.0 146.8v1.6M65.5 146.8v1.6M68.2 146.8v1.6M70.4 146.8v1.6M72.3 146.8v1.6M74.0 146.8v1.6M75.4 146.8v1.6M76.7 146.8v1.6M85.1 146.8v1.6M90.1 146.8v1.6M93.6 146.8v1.6M96.3 146.8v1.6M98.5 146.8v1.6M100.4 146.8v1.6M102.0 146.8v1.6M103.5 146.8v1.6M104.8 146.8v1.6M113.2 146.8v1.6M118.1 146.8v1.6M121.7 146.8v1.6M124.4 146.8v1.6M126.6 146.8v1.6M128.5 146.8v1.6M130.1 146.8v1.6M131.5 146.8v1.6M132.8 146.8v1.6M141.3 146.8v1.6M146.2 146.8v1.6M149.7 146.8v1.6M152.4 146.8v1.6M154.7 146.8v1.6M156.6 146.8v1.6M158.2 146.8v1.6M159.6 146.8v1.6M160.9 146.8v1.6M48.6 141.7h-1.6M48.6 136.6h-1.6M48.6 131.5h-1.6M48.6 126.4h-1.6M48.6 121.3h-1.6" stroke="#444" stroke-width="0.6" fill="none"/>
<path d="M281.0 118.7V147.8" fill="none" stroke="#bdbdbd" stroke-width="1.8"/>
<path d="M164.5 118.5H281.5" fill="none" stroke="#6e6e6e" stroke-width="1.0"/>
<path d="M175.5 146.8L175.5 146.1L176.9 146.1L176.9 144.3L178.1 144.3L178.1 144.3L179.1 144.3L179.1 144.5L180.3 144.5L180.3 144.1L181.3 144.1L181.3 144.4L182.3 144.4L182.3 144.4L183.1 144.4L183.1 145.0L184.1 145.0L184.1 143.2L185.5 143.2L185.5 144.1L186.5 144.1L186.5 142.2L187.9 142.2L187.9 143.9L188.7 143.9L188.7 142.1L189.5 142.1L189.5 143.4L190.5 143.4L190.5 143.2L191.5 143.2L191.5 140.1L192.9 140.1L192.9 143.9L194.3 143.9L194.3 141.0L195.7 141.0L195.7 142.8L196.7 142.8L196.7 141.4L197.5 141.4L197.5 141.9L198.3 141.9L198.3 140.6L199.3 140.6L199.3 136.2L200.7 136.2L200.7 140.6L201.7 140.6L201.7 136.5L202.7 136.5L202.7 133.9L203.5 133.9L203.5 139.1L204.9 139.1L204.9 137.5L206.1 137.5L206.1 130.0L206.9 130.0L206.9 130.0L207.7 130.0L207.7 138.0L208.7 138.0L208.7 127.9L209.9 127.9L209.9 132.4L210.7 132.4L210.7 124.6L211.7 124.6L211.7 124.9L212.7 124.9L212.7 132.2L214.1 132.2L214.1 131.5L215.3 131.5L215.3 130.9L216.1 130.9L216.1 128.2L217.3 128.2L217.3 130.7L218.3 130.7L218.3 125.1L219.3 125.1L219.3 119.9L220.3 119.9L220.3 128.4L221.3 128.4L221.3 130.1L222.1 130.1L222.1 136.6L223.3 136.6L223.3 125.8L224.3 125.8L224.3 130.4L225.5 130.4L225.5 132.0L226.9 132.0L226.9 127.7L228.3 127.7L228.3 140.3L229.7 140.3L229.7 138.2L230.5 138.2L230.5 135.9L231.5 135.9L231.5 142.0L232.3 142.0L232.3 138.7L233.1 138.7L233.1 142.3L234.1 142.3L234.1 139.7L235.1 139.7L235.1 141.7L235.9 141.7L235.9 143.5L236.7 143.5L236.7 144.4L237.5 144.4L237.5 145.6L238.7 145.6L238.7 145.6L239.9 145.6L239.9 146.2L240.9 146.2L240.9 146.2L241.7 146.2L241.7 146.8L242.5 146.8L242.5 146.8Z" fill="#7f7f7f"/>
<path d="M166.5 139.3L167.1 137.8L167.8 136.8L168.4 136.4L169.0 136.7L169.7 136.1L170.3 134.8L170.9 134.3L171.6 133.2L172.2 132.8L172.8 131.7L173.4 130.8L174.1 131.0L174.7 129.7L175.3 129.1L176.0 129.3L176.6 127.6L177.2 127.8L177.9 126.8L178.5 126.2L179.1 125.3L179.8 124.2L180.4 123.5L181.1 124.3L181.7 123.8L182.3 123.4L183.0 121.8L183.6 122.0L184.3 122.4L185.0 123.5L185.7 124.7L186.4 125.4L187.1 126.2L187.8 127.8L188.5 129.8L189.2 132.1L189.9 132.8L190.6 134.6L191.3 137.2L192.1 139.6L192.9 140.1L193.6 143.0L194.4 143.1L195.2 145.5L195.9 145.4L196.7 146.4L197.5 146.7" fill="none" stroke="#000" stroke-width="1.25"/>
<path d="M166.5 119.3V146.8H280.4" fill="none" stroke="#000" stroke-width="1.4"/>
<path d="M166.5 146.8v1.6M175.0 146.8v1.6M179.9 146.8v1.6M183.4 146.8v1.6M186.2 146.8v1.6M188.4 146.8v1.6M190.3 146.8v1.6M191.9 146.8v1.6M193.3 146.8v1.6M194.6 146.8v1.6M203.1 146.8v1.6M208.0 146.8v1.6M211.6 146.8v1.6M214.3 146.8v1.6M216.5 146.8v1.6M218.4 146.8v1.6M220.0 146.8v1.6M221.5 146.8v1.6M222.8 146.8v1.6M231.2 146.8v1.6M236.2 146.8v1.6M239.7 146.8v1.6M242.4 146.8v1.6M244.6 146.8v1.6M246.5 146.8v1.6M248.1 146.8v1.6M249.6 146.8v1.6M250.9 146.8v1.6M259.3 146.8v1.6M264.3 146.8v1.6M267.8 146.8v1.6M270.5 146.8v1.6M272.8 146.8v1.6M274.6 146.8v1.6M276.3 146.8v1.6M277.7 146.8v1.6M279.0 146.8v1.6M166.5 141.7h-1.6M166.5 136.6h-1.6M166.5 131.5h-1.6M166.5 126.4h-1.6M166.5 121.3h-1.6" stroke="#444" stroke-width="0.6" fill="none"/>
<text x="2.2" y="168.4" font-size="10.6" font-weight="bold" textLength="32.4" lengthAdjust="spacingAndGlyphs">CD117</text>
<path d="M162.9 151.4V180.3" fill="none" stroke="#bdbdbd" stroke-width="1.8"/>
<path d="M46.6 151.5H163.4" fill="none" stroke="#6e6e6e" stroke-width="1.0"/>
<path d="M48.6 175.3L49.3 175.3L49.9 174.4L50.6 174.7L51.2 174.3L51.9 174.8L52.6 174.4L53.2 174.4L53.9 173.1L54.5 173.0L55.2 173.4L55.8 171.9L56.4 172.5L57.1 172.0L57.7 172.0L58.3 171.5L58.9 170.2L59.5 170.6L60.2 170.5L60.8 169.5L61.4 169.3L62.0 167.8L62.6 168.5L63.2 166.5L63.8 167.3L64.5 165.3L65.1 165.0L65.7 165.1L66.3 164.0L66.9 163.7L67.5 163.2L68.2 162.4L68.8 161.3L69.5 159.5L70.1 158.8L70.8 158.2L71.4 158.8L72.0 157.8L72.6 156.0L73.3 156.7L73.9 155.1L74.5 155.5L75.1 154.4L75.7 156.1L76.3 155.2L76.9 156.4L77.5 157.3L78.3 159.6L79.1 160.8L79.9 162.8L80.6 164.8L81.4 166.0L82.0 166.3L82.6 168.5L83.3 169.1L83.9 170.9L84.5 171.8L85.1 171.8L85.7 172.7L86.3 174.3L86.9 175.2L87.5 175.9L88.2 175.5L88.8 176.2L89.5 176.9L90.1 177.4L90.8 177.0L91.4 177.2L92.2 177.3L92.9 177.9L93.7 178.7L94.4 179.1L95.0 178.6L95.7 179.0L96.4 179.0L97.0 179.3" fill="none" stroke="#000" stroke-width="1.3"/>
<clipPath id="k5"><path d="M55.2 179.3L55.2 179.2L56.4 179.2L56.4 178.9L57.8 178.9L57.8 178.6L59.2 178.6L59.2 178.3L60.6 178.3L60.6 178.0L61.4 178.0L61.4 177.7L62.4 177.7L62.4 177.4L63.4 177.4L63.4 177.3L64.8 177.3L64.8 177.0L66.0 177.0L66.0 176.8L67.0 176.8L67.0 176.5L67.8 176.5L67.8 175.2L69.2 175.2L69.2 175.3L70.6 175.3L70.6 175.2L71.6 175.2L71.6 175.2L72.8 175.2L72.8 175.0L73.8 175.0L73.8 174.1L75.0 174.1L75.0 174.0L76.0 174.0L76.0 173.1L77.2 173.1L77.2 172.0L78.2 172.0L78.2 170.4L79.6 170.4L79.6 168.2L81.0 168.2L81.0 164.3L82.0 164.3L82.0 165.3L83.0 165.3L83.0 162.6L84.4 162.6L84.4 160.4L85.8 160.4L85.8 159.6L87.0 159.6L87.0 158.4L88.2 158.4L88.2 152.6L89.6 152.6L89.6 153.4L91.0 153.4L91.0 156.8L92.4 156.8L92.4 160.6L93.4 160.6L93.4 160.7L94.2 160.7L94.2 164.1L95.6 164.1L95.6 166.4L96.4 166.4L96.4 168.4L97.6 168.4L97.6 172.2L99.0 172.2L99.0 173.4L100.2 173.4L100.2 175.1L101.0 175.1L101.0 176.1L101.8 176.1L101.8 176.7L102.8 176.7L102.8 177.1L104.2 177.1L104.2 177.5L105.2 177.5L105.2 177.2L106.2 177.2L106.2 177.5L107.2 177.5L107.2 178.1L108.0 178.1L108.0 178.1L109.4 178.1L109.4 178.3L110.6 178.3L110.6 178.4L111.4 178.4L111.4 178.6L112.4 178.6L112.4 178.7L113.2 178.7L113.2 178.7L114.4 178.7L114.4 178.9L115.4 178.9L115.4 179.0L116.2 179.0L116.2 179.0L117.0 179.0L117.0 179.2L117.8 179.2L117.8 179.2L118.8 179.2L118.8 179.3L119.9 179.3L119.9 179.3Z"/></clipPath>
<path d="M55.2 179.3L55.2 179.2L56.4 179.2L56.4 178.9L57.8 178.9L57.8 178.6L59.2 178.6L59.2 178.3L60.6 178.3L60.6 178.0L61.4 178.0L61.4 177.7L62.4 177.7L62.4 177.4L63.4 177.4L63.4 177.3L64.8 177.3L64.8 177.0L66.0 177.0L66.0 176.8L67.0 176.8L67.0 176.5L67.8 176.5L67.8 175.2L69.2 175.2L69.2 175.3L70.6 175.3L70.6 175.2L71.6 175.2L71.6 175.2L72.8 175.2L72.8 175.0L73.8 175.0L73.8 174.1L75.0 174.1L75.0 174.0L76.0 174.0L76.0 173.1L77.2 173.1L77.2 172.0L78.2 172.0L78.2 170.4L79.6 170.4L79.6 168.2L81.0 168.2L81.0 164.3L82.0 164.3L82.0 165.3L83.0 165.3L83.0 162.6L84.4 162.6L84.4 160.4L85.8 160.4L85.8 159.6L87.0 159.6L87.0 158.4L88.2 158.4L88.2 152.6L89.6 152.6L89.6 153.4L91.0 153.4L91.0 156.8L92.4 156.8L92.4 160.6L93.4 160.6L93.4 160.7L94.2 160.7L94.2 164.1L95.6 164.1L95.6 166.4L96.4 166.4L96.4 168.4L97.6 168.4L97.6 172.2L99.0 172.2L99.0 173.4L100.2 173.4L100.2 175.1L101.0 175.1L101.0 176.1L101.8 176.1L101.8 176.7L102.8 176.7L102.8 177.1L104.2 177.1L104.2 177.5L105.2 177.5L105.2 177.2L106.2 177.2L106.2 177.5L107.2 177.5L107.2 178.1L108.0 178.1L108.0 178.1L109.4 178.1L109.4 178.3L110.6 178.3L110.6 178.4L111.4 178.4L111.4 178.6L112.4 178.6L112.4 178.7L113.2 178.7L113.2 178.7L114.4 178.7L114.4 178.9L115.4 178.9L115.4 179.0L116.2 179.0L116.2 179.0L117.0 179.0L117.0 179.2L117.8 179.2L117.8 179.2L118.8 179.2L118.8 179.3L119.9 179.3L119.9 179.3Z" fill="#000"/>
<path d="M48.6 175.3L49.3 175.3L49.9 174.4L50.6 174.7L51.2 174.3L51.9 174.8L52.6 174.4L53.2 174.4L53.9 173.1L54.5 173.0L55.2 173.4L55.8 171.9L56.4 172.5L57.1 172.0L57.7 172.0L58.3 171.5L58.9 170.2L59.5 170.6L60.2 170.5L60.8 169.5L61.4 169.3L62.0 167.8L62.6 168.5L63.2 166.5L63.8 167.3L64.5 165.3L65.1 165.0L65.7 165.1L66.3 164.0L66.9 163.7L67.5 163.2L68.2 162.4L68.8 161.3L69.5 159.5L70.1 158.8L70.8 158.2L71.4 158.8L72.0 157.8L72.6 156.0L73.3 156.7L73.9 155.1L74.5 155.5L75.1 154.4L75.7 156.1L76.3 155.2L76.9 156.4L77.5 157.3L78.3 159.6L79.1 160.8L79.9 162.8L80.6 164.8L81.4 166.0L82.0 166.3L82.6 168.5L83.3 169.1L83.9 170.9L84.5 171.8L85.1 171.8L85.7 172.7L86.3 174.3L86.9 175.2L87.5 175.9L88.2 175.5L88.8 176.2L89.5 176.9L90.1 177.4L90.8 177.0L91.4 177.2L92.2 177.3L92.9 177.9L93.7 178.7L94.4 179.1L95.0 178.6L95.7 179.0L96.4 179.0L97.0 179.3" fill="none" stroke="#fff" stroke-width="1.1" clip-path="url(#k5)"/>
<path d="M48.6 152.0V179.3H162.3" fill="none" stroke="#000" stroke-width="1.4"/>
<path d="M48.6 179.3v1.6M57.1 179.3v1.6M62.0 179.3v1.6M65.5 179.3v1.6M68.2 179.3v1.6M70.4 179.3v1.6M72.3 179.3v1.6M74.0 179.3v1.6M75.4 179.3v1.6M76.7 179.3v1.6M85.1 179.3v1.6M90.1 179.3v1.6M93.6 179.3v1.6M96.3 179.3v1.6M98.5 179.3v1.6M100.4 179.3v1.6M102.0 179.3v1.6M103.5 179.3v1.6M104.8 179.3v1.6M113.2 179.3v1.6M118.1 179.3v1.6M121.7 179.3v1.6M124.4 179.3v1.6M126.6 179.3v1.6M128.5 179.3v1.6M130.1 179.3v1.6M131.5 179.3v1.6M132.8 179.3v1.6M141.3 179.3v1.6M146.2 179.3v1.6M149.7 179.3v1.6M152.4 179.3v1.6M154.7 179.3v1.6M156.6 179.3v1.6M158.2 179.3v1.6M159.6 179.3v1.6M160.9 179.3v1.6M48.6 174.2h-1.6M48.6 169.2h-1.6M48.6 164.1h-1.6M48.6 159.0h-1.6M48.6 153.9h-1.6" stroke="#444" stroke-width="0.6" fill="none"/>
<path d="M281.0 151.4V180.3" fill="none" stroke="#bdbdbd" stroke-width="1.8"/>
<path d="M164.5 151.5H281.5" fill="none" stroke="#6e6e6e" stroke-width="1.0"/>
<path d="M195.2 179.3L195.2 178.9L196.2 178.9L196.2 177.1L197.4 177.1L197.4 174.2L198.6 174.2L198.6 170.1L199.6 170.1L199.6 168.4L200.6 168.4L200.6 170.3L202.0 170.3L202.0 165.3L203.4 165.3L203.4 161.1L204.2 161.1L204.2 162.0L205.2 162.0L205.2 164.3L206.6 164.3L206.6 161.2L207.4 161.2L207.4 152.8L208.8 152.8L208.8 152.6L209.8 152.6L209.8 159.7L210.8 159.7L210.8 155.6L211.8 155.6L211.8 152.6L212.6 152.6L212.6 157.0L213.6 157.0L213.6 161.7L215.0 161.7L215.0 155.4L216.2 155.4L216.2 161.0L217.2 161.0L217.2 165.9L218.4 165.9L218.4 165.7L219.2 165.7L219.2 171.6L220.2 171.6L220.2 171.4L221.2 171.4L221.2 172.2L222.4 172.2L222.4 175.0L223.6 175.0L223.6 175.7L225.0 175.7L225.0 176.0L225.8 176.0L225.8 175.7L226.8 175.7L226.8 176.1L228.2 176.1L228.2 177.6L229.4 177.6L229.4 177.7L230.8 177.7L230.8 178.5L231.8 178.5L231.8 178.6L232.6 178.6L232.6 178.7L233.4 178.7L233.4 178.7L234.2 178.7L234.2 178.7L235.4 178.7L235.4 178.7L236.2 178.7L236.2 178.7L237.0 178.7L237.0 178.8L238.0 178.8L238.0 178.9L239.4 178.9L239.4 178.9L240.2 178.9L240.2 179.1L241.4 179.1L241.4 179.1L242.2 179.1L242.2 179.2L243.0 179.2L243.0 179.3L244.4 179.3L244.4 179.3L244.8 179.3L244.8 179.3Z" fill="#7f7f7f"/>
<path d="M166.5 178.1L167.1 178.0L167.7 177.6L168.3 177.2L169.0 177.2L169.6 177.1L170.2 177.1L170.8 176.2L171.4 175.4L172.0 175.5L172.6 175.3L173.2 174.9L173.9 175.3L174.5 174.1L175.1 174.1L175.8 173.6L176.4 173.1L177.0 172.9L177.6 172.7L178.3 172.4L178.9 172.0L179.5 171.0L180.2 170.7L180.8 169.7L181.4 169.9L182.1 168.5L182.7 166.9L183.4 167.1L184.0 165.7L184.7 165.0L185.3 164.6L185.9 162.8L186.6 162.8L187.3 161.0L188.0 161.0L188.7 160.4L189.4 158.4L190.2 158.3L190.9 158.4L191.7 158.0L192.4 158.2L193.1 158.3L193.8 160.0L194.5 160.7L195.2 160.6L195.9 162.3L196.6 164.8L197.3 166.3L197.9 168.0L198.6 169.0L199.3 170.5L200.0 171.4L200.7 172.6L201.4 174.1L202.1 174.7L202.8 175.5L203.5 176.1L204.2 177.1L204.9 177.0L205.6 177.6L206.3 177.6L207.0 178.8L207.6 178.7L208.3 179.3L209.0 179.2" fill="none" stroke="#000" stroke-width="1.25"/>
<path d="M166.5 152.0V179.3H280.4" fill="none" stroke="#000" stroke-width="1.4"/>
<path d="M166.5 179.3v1.6M175.0 179.3v1.6M179.9 179.3v1.6M183.4 179.3v1.6M186.2 179.3v1.6M188.4 179.3v1.6M190.3 179.3v1.6M191.9 179.3v1.6M193.3 179.3v1.6M194.6 179.3v1.6M203.1 179.3v1.6M208.0 179.3v1.6M211.6 179.3v1.6M214.3 179.3v1.6M216.5 179.3v1.6M218.4 179.3v1.6M220.0 179.3v1.6M221.5 179.3v1.6M222.8 179.3v1.6M231.2 179.3v1.6M236.2 179.3v1.6M239.7 179.3v1.6M242.4 179.3v1.6M244.6 179.3v1.6M246.5 179.3v1.6M248.1 179.3v1.6M249.6 179.3v1.6M250.9 179.3v1.6M259.3 179.3v1.6M264.3 179.3v1.6M267.8 179.3v1.6M270.5 179.3v1.6M272.8 179.3v1.6M274.6 179.3v1.6M276.3 179.3v1.6M277.7 179.3v1.6M279.0 179.3v1.6M166.5 174.2h-1.6M166.5 169.2h-1.6M166.5 164.1h-1.6M166.5 159.0h-1.6M166.5 153.9h-1.6" stroke="#444" stroke-width="0.6" fill="none"/>
<text x="2.2" y="200.4" font-size="10.6" font-weight="bold" textLength="32.4" lengthAdjust="spacingAndGlyphs">CD127</text>
<path d="M162.9 184.0V213.3" fill="none" stroke="#bdbdbd" stroke-width="1.8"/>
<path d="M46.6 184.5H163.4" fill="none" stroke="#6e6e6e" stroke-width="1.0"/>
<path d="M48.6 202.7L49.2 202.3L49.8 202.3L50.4 200.6L51.1 200.7L51.7 200.6L52.3 199.9L52.9 199.5L53.6 199.4L54.2 197.5L54.9 197.3L55.5 196.1L56.2 196.2L56.8 195.2L57.5 195.1L58.2 194.7L58.8 192.5L59.5 191.8L60.1 191.9L60.8 190.2L61.4 189.6L62.1 189.8L62.8 188.8L63.4 187.7L64.1 188.0L64.8 187.0L65.5 187.8L66.1 187.4L66.8 186.9L67.6 188.1L68.3 188.9L69.1 189.5L69.8 191.6L70.5 192.8L71.3 195.6L72.0 197.5L72.7 199.0L73.4 201.1L74.1 201.5L74.8 204.2L75.5 205.3L76.3 207.4L77.0 208.0L77.7 209.3L78.6 210.3L79.4 211.5L80.0 211.8L80.7 211.5L81.4 212.1L82.0 212.3" fill="none" stroke="#000" stroke-width="1.3"/>
<clipPath id="k6"><path d="M48.6 212.3L48.6 203.1L50.0 203.1L50.0 201.8L51.4 201.8L51.4 203.9L52.4 203.9L52.4 202.9L53.6 202.9L53.6 203.8L54.6 203.8L54.6 201.8L55.8 201.8L55.8 197.3L56.8 197.3L56.8 201.6L58.0 201.6L58.0 201.5L59.4 201.5L59.4 200.3L60.8 200.3L60.8 196.3L61.8 196.3L61.8 199.1L62.8 199.1L62.8 194.8L64.0 194.8L64.0 192.3L64.8 192.3L64.8 196.8L66.0 196.8L66.0 193.8L67.0 193.8L67.0 194.7L68.4 194.7L68.4 196.1L69.6 196.1L69.6 193.7L71.0 193.7L71.0 192.2L71.8 192.2L71.8 191.1L72.6 191.1L72.6 193.7L74.0 193.7L74.0 190.7L75.0 190.7L75.0 186.6L76.2 186.6L76.2 189.0L77.6 189.0L77.6 185.2L78.4 185.2L78.4 188.9L79.2 188.9L79.2 191.6L80.0 191.6L80.0 187.8L81.0 187.8L81.0 194.0L82.2 194.0L82.2 193.2L83.6 193.2L83.6 194.8L84.8 194.8L84.8 198.9L86.2 198.9L86.2 204.9L87.0 204.9L87.0 203.8L87.8 203.8L87.8 205.5L88.6 205.5L88.6 205.7L89.4 205.7L89.4 205.9L90.4 205.9L90.4 208.1L91.8 208.1L91.8 210.0L93.2 210.0L93.2 211.2L94.2 211.2L94.2 211.2L95.2 211.2L95.2 211.1L96.0 211.1L96.0 211.7L97.4 211.7L97.4 211.9L98.6 211.9L98.6 212.2L99.4 212.2L99.4 212.3L100.0 212.3L100.0 212.3Z"/></clipPath>
<path d="M48.6 212.3L48.6 203.1L50.0 203.1L50.0 201.8L51.4 201.8L51.4 203.9L52.4 203.9L52.4 202.9L53.6 202.9L53.6 203.8L54.6 203.8L54.6 201.8L55.8 201.8L55.8 197.3L56.8 197.3L56.8 201.6L58.0 201.6L58.0 201.5L59.4 201.5L59.4 200.3L60.8 200.3L60.8 196.3L61.8 196.3L61.8 199.1L62.8 199.1L62.8 194.8L64.0 194.8L64.0 192.3L64.8 192.3L64.8 196.8L66.0 196.8L66.0 193.8L67.0 193.8L67.0 194.7L68.4 194.7L68.4 196.1L69.6 196.1L69.6 193.7L71.0 193.7L71.0 192.2L71.8 192.2L71.8 191.1L72.6 191.1L72.6 193.7L74.0 193.7L74.0 190.7L75.0 190.7L75.0 186.6L76.2 186.6L76.2 189.0L77.6 189.0L77.6 185.2L78.4 185.2L78.4 188.9L79.2 188.9L79.2 191.6L80.0 191.6L80.0 187.8L81.0 187.8L81.0 194.0L82.2 194.0L82.2 193.2L83.6 193.2L83.6 194.8L84.8 194.8L84.8 198.9L86.2 198.9L86.2 204.9L87.0 204.9L87.0 203.8L87.8 203.8L87.8 205.5L88.6 205.5L88.6 205.7L89.4 205.7L89.4 205.9L90.4 205.9L90.4 208.1L91.8 208.1L91.8 210.0L93.2 210.0L93.2 211.2L94.2 211.2L94.2 211.2L95.2 211.2L95.2 211.1L96.0 211.1L96.0 211.7L97.4 211.7L97.4 211.9L98.6 211.9L98.6 212.2L99.4 212.2L99.4 212.3L100.0 212.3L100.0 212.3Z" fill="#000"/>
<path d="M48.6 202.7L49.2 202.3L49.8 202.3L50.4 200.6L51.1 200.7L51.7 200.6L52.3 199.9L52.9 199.5L53.6 199.4L54.2 197.5L54.9 197.3L55.5 196.1L56.2 196.2L56.8 195.2L57.5 195.1L58.2 194.7L58.8 192.5L59.5 191.8L60.1 191.9L60.8 190.2L61.4 189.6L62.1 189.8L62.8 188.8L63.4 187.7L64.1 188.0L64.8 187.0L65.5 187.8L66.1 187.4L66.8 186.9L67.6 188.1L68.3 188.9L69.1 189.5L69.8 191.6L70.5 192.8L71.3 195.6L72.0 197.5L72.7 199.0L73.4 201.1L74.1 201.5L74.8 204.2L75.5 205.3L76.3 207.4L77.0 208.0L77.7 209.3L78.6 210.3L79.4 211.5L80.0 211.8L80.7 211.5L81.4 212.1L82.0 212.3" fill="none" stroke="#fff" stroke-width="1.1" clip-path="url(#k6)"/>
<path d="M48.6 184.6V212.3H162.3" fill="none" stroke="#000" stroke-width="1.4"/>
<path d="M48.6 212.3v1.6M57.1 212.3v1.6M62.0 212.3v1.6M65.5 212.3v1.6M68.2 212.3v1.6M70.4 212.3v1.6M72.3 212.3v1.6M74.0 212.3v1.6M75.4 212.3v1.6M76.7 212.3v1.6M85.1 212.3v1.6M90.1 212.3v1.6M93.6 212.3v1.6M96.3 212.3v1.6M98.5 212.3v1.6M100.4 212.3v1.6M102.0 212.3v1.6M103.5 212.3v1.6M104.8 212.3v1.6M113.2 212.3v1.6M118.1 212.3v1.6M121.7 212.3v1.6M124.4 212.3v1.6M126.6 212.3v1.6M128.5 212.3v1.6M130.1 212.3v1.6M131.5 212.3v1.6M132.8 212.3v1.6M141.3 212.3v1.6M146.2 212.3v1.6M149.7 212.3v1.6M152.4 212.3v1.6M154.7 212.3v1.6M156.6 212.3v1.6M158.2 212.3v1.6M159.6 212.3v1.6M160.9 212.3v1.6M48.6 207.2h-1.6M48.6 202.0h-1.6M48.6 196.9h-1.6M48.6 191.7h-1.6M48.6 186.6h-1.6" stroke="#444" stroke-width="0.6" fill="none"/>
<path d="M281.0 184.0V213.3" fill="none" stroke="#bdbdbd" stroke-width="1.8"/>
<path d="M164.5 184.5H281.5" fill="none" stroke="#6e6e6e" stroke-width="1.0"/>
<path d="M170.9 212.3L170.9 211.9L171.9 211.9L171.9 209.9L173.1 209.9L173.1 210.9L174.1 210.9L174.1 209.6L175.1 209.6L175.1 210.5L176.1 210.5L176.1 209.2L177.1 209.2L177.1 209.2L178.3 209.2L178.3 209.9L179.3 209.9L179.3 209.8L180.3 209.8L180.3 208.4L181.3 208.4L181.3 208.9L182.7 208.9L182.7 208.6L183.7 208.6L183.7 205.8L185.1 205.8L185.1 208.2L185.9 208.2L185.9 204.4L186.9 204.4L186.9 204.8L187.7 204.8L187.7 199.7L188.7 199.7L188.7 205.6L189.7 205.6L189.7 206.3L190.7 206.3L190.7 201.0L192.1 201.0L192.1 196.5L193.1 196.5L193.1 204.9L193.9 204.9L193.9 201.7L195.1 201.7L195.1 196.1L196.3 196.1L196.3 202.3L197.3 202.3L197.3 196.1L198.3 196.1L198.3 202.9L199.3 202.9L199.3 192.2L200.5 192.2L200.5 200.8L201.5 200.8L201.5 185.2L202.5 185.2L202.5 200.6L203.5 200.6L203.5 194.7L204.3 194.7L204.3 185.2L205.3 185.2L205.3 190.5L206.7 190.5L206.7 196.7L207.7 196.7L207.7 196.4L208.9 196.4L208.9 191.9L210.1 191.9L210.1 185.2L210.9 185.2L210.9 186.5L211.9 186.5L211.9 199.4L213.3 199.4L213.3 200.5L214.3 200.5L214.3 193.9L215.3 193.9L215.3 199.4L216.1 199.4L216.1 205.7L217.5 205.7L217.5 208.8L218.3 208.8L218.3 210.3L219.5 210.3L219.5 211.3L220.7 211.3L220.7 211.9L221.7 211.9L221.7 212.3L222.0 212.3L222.0 212.3Z" fill="#7f7f7f"/>
<path d="M166.5 197.7L167.1 197.8L167.8 198.1L168.4 198.6L169.0 198.5L169.7 197.3L170.3 198.0L170.9 197.7L171.6 196.3L172.2 197.3L172.9 196.7L173.6 196.8L174.2 195.6L174.9 196.0L175.5 194.7L176.2 194.6L176.9 194.0L177.5 193.1L178.2 193.7L178.8 192.1L179.5 192.5L180.2 191.3L180.9 190.8L181.6 191.3L182.2 190.1L182.9 190.2L183.6 190.8L184.3 190.4L185.0 191.5L185.7 191.4L186.4 191.2L187.1 192.4L187.8 194.4L188.5 194.4L189.2 196.2L189.9 198.4L190.6 200.1L191.3 200.6L191.9 202.9L192.6 203.3L193.3 205.1L194.0 204.8L194.7 206.7L195.4 207.9L196.1 208.4L196.8 208.1L197.5 210.0L198.2 210.2L198.9 210.5L199.6 211.4L200.3 211.4L201.0 212.0L202.1 212.3" fill="none" stroke="#000" stroke-width="1.25"/>
<path d="M166.5 184.6V212.3H280.4" fill="none" stroke="#000" stroke-width="1.4"/>
<path d="M166.5 212.3v1.6M175.0 212.3v1.6M179.9 212.3v1.6M183.4 212.3v1.6M186.2 212.3v1.6M188.4 212.3v1.6M190.3 212.3v1.6M191.9 212.3v1.6M193.3 212.3v1.6M194.6 212.3v1.6M203.1 212.3v1.6M208.0 212.3v1.6M211.6 212.3v1.6M214.3 212.3v1.6M216.5 212.3v1.6M218.4 212.3v1.6M220.0 212.3v1.6M221.5 212.3v1.6M222.8 212.3v1.6M231.2 212.3v1.6M236.2 212.3v1.6M239.7 212.3v1.6M242.4 212.3v1.6M244.6 212.3v1.6M246.5 212.3v1.6M248.1 212.3v1.6M249.6 212.3v1.6M250.9 212.3v1.6M259.3 212.3v1.6M264.3 212.3v1.6M267.8 212.3v1.6M270.5 212.3v1.6M272.8 212.3v1.6M274.6 212.3v1.6M276.3 212.3v1.6M277.7 212.3v1.6M279.0 212.3v1.6M166.5 207.2h-1.6M166.5 202.0h-1.6M166.5 196.9h-1.6M166.5 191.7h-1.6M166.5 186.6h-1.6" stroke="#444" stroke-width="0.6" fill="none"/>
<text x="2.2" y="233.6" font-size="10.6" font-weight="bold" textLength="32.4" lengthAdjust="spacingAndGlyphs">CD135</text>
<path d="M162.9 217.2V245.6" fill="none" stroke="#bdbdbd" stroke-width="1.8"/>
<path d="M46.6 217.5H163.4" fill="none" stroke="#6e6e6e" stroke-width="1.0"/>
<path d="M48.6 239.6L49.3 240.7L49.9 240.7L50.6 239.6L51.2 240.0L51.9 239.7L52.6 238.7L53.2 238.5L53.9 238.3L54.5 239.2L55.2 238.5L55.8 238.2L56.4 237.4L57.1 237.1L57.7 237.0L58.3 236.4L58.9 235.4L59.5 235.8L60.2 235.3L60.8 234.9L61.4 234.0L62.0 234.5L62.6 232.5L63.2 233.1L63.8 232.3L64.5 231.2L65.1 231.7L65.7 229.6L66.3 229.9L66.9 228.8L67.5 228.8L68.2 228.7L68.8 227.6L69.5 227.0L70.1 225.0L70.8 224.3L71.4 223.9L72.0 222.8L72.6 222.3L73.3 221.9L73.9 220.1L74.5 220.0L75.3 220.6L76.0 220.6L76.8 222.0L77.6 221.3L78.3 223.4L79.1 225.0L79.9 227.8L80.6 229.0L81.4 232.6L82.0 233.0L82.6 234.3L83.3 235.7L83.9 236.5L84.5 237.4L85.1 238.6L85.8 239.7L86.4 240.7L87.0 240.2L87.7 241.4L88.3 242.1L89.0 242.3L89.6 242.9L90.2 243.5L90.9 242.9L91.5 243.7L92.2 243.0L92.8 243.4L93.5 244.0L94.1 244.2L94.7 244.1L95.4 244.6L96.0 244.6" fill="none" stroke="#000" stroke-width="1.3"/>
<clipPath id="k7"><path d="M57.5 244.6L57.5 244.4L58.7 244.4L58.7 243.8L60.1 243.8L60.1 243.0L61.3 243.0L61.3 242.0L62.3 242.0L62.3 242.1L63.3 242.1L63.3 242.3L64.3 242.3L64.3 241.2L65.1 241.2L65.1 241.7L66.1 241.7L66.1 240.8L67.5 240.8L67.5 239.8L68.5 239.8L68.5 240.7L69.5 240.7L69.5 240.1L70.5 240.1L70.5 239.6L71.5 239.6L71.5 239.3L72.5 239.3L72.5 237.4L73.3 237.4L73.3 237.4L74.5 237.4L74.5 237.0L75.7 237.0L75.7 236.7L76.7 236.7L76.7 236.5L77.7 236.5L77.7 234.5L78.9 234.5L78.9 233.2L79.7 233.2L79.7 231.9L80.7 231.9L80.7 227.3L82.1 227.3L82.1 223.6L83.3 223.6L83.3 224.8L84.1 224.8L84.1 220.6L85.1 220.6L85.1 223.3L86.1 223.3L86.1 218.4L87.1 218.4L87.1 220.6L88.1 220.6L88.1 221.2L89.5 221.2L89.5 220.6L90.9 220.6L90.9 223.1L92.1 223.1L92.1 226.1L92.9 226.1L92.9 226.8L93.9 226.8L93.9 228.3L94.9 228.3L94.9 229.9L95.9 229.9L95.9 233.0L96.7 233.0L96.7 234.3L97.9 234.3L97.9 237.2L99.3 237.2L99.3 239.4L100.5 239.4L100.5 240.7L101.7 240.7L101.7 241.2L102.7 241.2L102.7 241.8L103.5 241.8L103.5 241.7L104.3 241.7L104.3 242.7L105.5 242.7L105.5 243.1L106.9 243.1L106.9 243.3L108.3 243.3L108.3 243.5L109.5 243.5L109.5 243.7L110.5 243.7L110.5 243.9L111.3 243.9L111.3 243.8L112.7 243.8L112.7 244.1L113.9 244.1L113.9 244.2L114.9 244.2L114.9 244.4L115.9 244.4L115.9 244.5L117.1 244.5L117.1 244.5L117.9 244.5L117.9 244.6L119.1 244.6L119.1 244.6L119.9 244.6L119.9 244.6Z"/></clipPath>
<path d="M57.5 244.6L57.5 244.4L58.7 244.4L58.7 243.8L60.1 243.8L60.1 243.0L61.3 243.0L61.3 242.0L62.3 242.0L62.3 242.1L63.3 242.1L63.3 242.3L64.3 242.3L64.3 241.2L65.1 241.2L65.1 241.7L66.1 241.7L66.1 240.8L67.5 240.8L67.5 239.8L68.5 239.8L68.5 240.7L69.5 240.7L69.5 240.1L70.5 240.1L70.5 239.6L71.5 239.6L71.5 239.3L72.5 239.3L72.5 237.4L73.3 237.4L73.3 237.4L74.5 237.4L74.5 237.0L75.7 237.0L75.7 236.7L76.7 236.7L76.7 236.5L77.7 236.5L77.7 234.5L78.9 234.5L78.9 233.2L79.7 233.2L79.7 231.9L80.7 231.9L80.7 227.3L82.1 227.3L82.1 223.6L83.3 223.6L83.3 224.8L84.1 224.8L84.1 220.6L85.1 220.6L85.1 223.3L86.1 223.3L86.1 218.4L87.1 218.4L87.1 220.6L88.1 220.6L88.1 221.2L89.5 221.2L89.5 220.6L90.9 220.6L90.9 223.1L92.1 223.1L92.1 226.1L92.9 226.1L92.9 226.8L93.9 226.8L93.9 228.3L94.9 228.3L94.9 229.9L95.9 229.9L95.9 233.0L96.7 233.0L96.7 234.3L97.9 234.3L97.9 237.2L99.3 237.2L99.3 239.4L100.5 239.4L100.5 240.7L101.7 240.7L101.7 241.2L102.7 241.2L102.7 241.8L103.5 241.8L103.5 241.7L104.3 241.7L104.3 242.7L105.5 242.7L105.5 243.1L106.9 243.1L106.9 243.3L108.3 243.3L108.3 243.5L109.5 243.5L109.5 243.7L110.5 243.7L110.5 243.9L111.3 243.9L111.3 243.8L112.7 243.8L112.7 244.1L113.9 244.1L113.9 244.2L114.9 244.2L114.9 244.4L115.9 244.4L115.9 244.5L117.1 244.5L117.1 244.5L117.9 244.5L117.9 244.6L119.1 244.6L119.1 244.6L119.9 244.6L119.9 244.6Z" fill="#000"/>
<path d="M48.6 239.6L49.3 240.7L49.9 240.7L50.6 239.6L51.2 240.0L51.9 239.7L52.6 238.7L53.2 238.5L53.9 238.3L54.5 239.2L55.2 238.5L55.8 238.2L56.4 237.4L57.1 237.1L57.7 237.0L58.3 236.4L58.9 235.4L59.5 235.8L60.2 235.3L60.8 234.9L61.4 234.0L62.0 234.5L62.6 232.5L63.2 233.1L63.8 232.3L64.5 231.2L65.1 231.7L65.7 229.6L66.3 229.9L66.9 228.8L67.5 228.8L68.2 228.7L68.8 227.6L69.5 227.0L70.1 225.0L70.8 224.3L71.4 223.9L72.0 222.8L72.6 222.3L73.3 221.9L73.9 220.1L74.5 220.0L75.3 220.6L76.0 220.6L76.8 222.0L77.6 221.3L78.3 223.4L79.1 225.0L79.9 227.8L80.6 229.0L81.4 232.6L82.0 233.0L82.6 234.3L83.3 235.7L83.9 236.5L84.5 237.4L85.1 238.6L85.8 239.7L86.4 240.7L87.0 240.2L87.7 241.4L88.3 242.1L89.0 242.3L89.6 242.9L90.2 243.5L90.9 242.9L91.5 243.7L92.2 243.0L92.8 243.4L93.5 244.0L94.1 244.2L94.7 244.1L95.4 244.6L96.0 244.6" fill="none" stroke="#fff" stroke-width="1.1" clip-path="url(#k7)"/>
<path d="M48.6 217.8V244.6H162.3" fill="none" stroke="#000" stroke-width="1.4"/>
<path d="M48.6 244.6v1.6M57.1 244.6v1.6M62.0 244.6v1.6M65.5 244.6v1.6M68.2 244.6v1.6M70.4 244.6v1.6M72.3 244.6v1.6M74.0 244.6v1.6M75.4 244.6v1.6M76.7 244.6v1.6M85.1 244.6v1.6M90.1 244.6v1.6M93.6 244.6v1.6M96.3 244.6v1.6M98.5 244.6v1.6M100.4 244.6v1.6M102.0 244.6v1.6M103.5 244.6v1.6M104.8 244.6v1.6M113.2 244.6v1.6M118.1 244.6v1.6M121.7 244.6v1.6M124.4 244.6v1.6M126.6 244.6v1.6M128.5 244.6v1.6M130.1 244.6v1.6M131.5 244.6v1.6M132.8 244.6v1.6M141.3 244.6v1.6M146.2 244.6v1.6M149.7 244.6v1.6M152.4 244.6v1.6M154.7 244.6v1.6M156.6 244.6v1.6M158.2 244.6v1.6M159.6 244.6v1.6M160.9 244.6v1.6M48.6 239.6h-1.6M48.6 234.6h-1.6M48.6 229.7h-1.6M48.6 224.7h-1.6M48.6 219.7h-1.6" stroke="#444" stroke-width="0.6" fill="none"/>
<path d="M281.0 217.2V245.6" fill="none" stroke="#bdbdbd" stroke-width="1.8"/>
<path d="M164.5 217.5H281.5" fill="none" stroke="#6e6e6e" stroke-width="1.0"/>
<path d="M191.7 244.6L191.7 244.4L192.9 244.4L192.9 243.1L194.1 243.1L194.1 243.3L195.1 243.3L195.1 241.6L196.3 241.6L196.3 240.3L197.3 240.3L197.3 238.2L198.7 238.2L198.7 237.2L199.5 237.2L199.5 237.1L200.3 237.1L200.3 238.3L201.7 238.3L201.7 238.7L202.7 238.7L202.7 237.7L203.7 237.7L203.7 236.0L204.7 236.0L204.7 234.8L205.7 234.8L205.7 232.4L206.9 232.4L206.9 230.9L207.9 230.9L207.9 234.5L209.3 234.5L209.3 234.5L210.3 234.5L210.3 220.9L211.3 220.9L211.3 229.9L212.5 229.9L212.5 226.1L213.5 226.1L213.5 229.4L214.5 229.4L214.5 219.7L215.9 219.7L215.9 218.4L216.9 218.4L216.9 228.6L217.7 228.6L217.7 228.0L218.7 228.0L218.7 220.0L219.9 220.0L219.9 232.1L221.1 232.1L221.1 225.8L222.1 225.8L222.1 235.2L223.1 235.2L223.1 233.4L223.9 233.4L223.9 230.8L225.3 230.8L225.3 223.9L226.1 223.9L226.1 236.2L227.1 236.2L227.1 236.4L228.5 236.4L228.5 232.6L229.5 232.6L229.5 231.7L230.3 231.7L230.3 232.8L231.3 232.8L231.3 236.5L232.1 236.5L232.1 232.2L233.1 232.2L233.1 233.3L233.9 233.3L233.9 238.3L235.1 238.3L235.1 240.8L236.3 240.8L236.3 237.3L237.3 237.3L237.3 238.9L238.1 238.9L238.1 238.7L239.1 238.7L239.1 238.3L240.1 238.3L240.1 241.3L240.9 241.3L240.9 241.3L241.9 241.3L241.9 240.5L243.3 240.5L243.3 242.3L244.7 242.3L244.7 243.2L245.7 243.2L245.7 243.6L246.5 243.6L246.5 243.9L247.9 243.9L247.9 244.1L248.9 244.1L248.9 244.4L249.9 244.4L249.9 244.6L250.6 244.6L250.6 244.6Z" fill="#7f7f7f"/>
<path d="M166.5 240.8L167.1 242.0L167.7 241.2L168.3 241.4L169.0 240.3L169.6 240.2L170.2 240.5L170.8 241.1L171.4 240.2L172.0 240.4L172.6 239.2L173.2 239.7L173.9 238.7L174.5 238.1L175.1 237.4L175.8 236.9L176.4 236.4L177.0 236.0L177.6 235.9L178.3 235.6L178.9 234.4L179.5 234.3L180.2 233.0L180.8 233.3L181.4 231.4L182.1 230.6L182.7 230.6L183.4 230.0L184.0 228.3L184.7 228.7L185.3 227.0L185.9 227.4L186.6 225.4L187.3 224.5L187.9 224.3L188.6 224.2L189.2 224.0L189.9 223.5L190.6 222.5L191.3 223.6L191.9 223.7L192.6 224.2L193.3 226.4L194.0 227.4L194.7 227.3L195.4 229.2L196.1 230.2L196.8 231.5L197.5 232.5L198.2 234.0L198.9 234.2L199.6 236.1L200.3 236.4L201.0 237.7L201.6 239.1L202.3 239.1L203.0 240.0L203.7 240.3L204.4 242.2L205.1 242.4L205.8 243.2L206.5 243.7L207.2 242.7L207.9 244.0L208.6 244.1L209.4 244.3L210.2 244.4" fill="none" stroke="#000" stroke-width="1.25"/>
<path d="M166.5 217.8V244.6H280.4" fill="none" stroke="#000" stroke-width="1.4"/>
<path d="M166.5 244.6v1.6M175.0 244.6v1.6M179.9 244.6v1.6M183.4 244.6v1.6M186.2 244.6v1.6M188.4 244.6v1.6M190.3 244.6v1.6M191.9 244.6v1.6M193.3 244.6v1.6M194.6 244.6v1.6M203.1 244.6v1.6M208.0 244.6v1.6M211.6 244.6v1.6M214.3 244.6v1.6M216.5 244.6v1.6M218.4 244.6v1.6M220.0 244.6v1.6M221.5 244.6v1.6M222.8 244.6v1.6M231.2 244.6v1.6M236.2 244.6v1.6M239.7 244.6v1.6M242.4 244.6v1.6M244.6 244.6v1.6M246.5 244.6v1.6M248.1 244.6v1.6M249.6 244.6v1.6M250.9 244.6v1.6M259.3 244.6v1.6M264.3 244.6v1.6M267.8 244.6v1.6M270.5 244.6v1.6M272.8 244.6v1.6M274.6 244.6v1.6M276.3 244.6v1.6M277.7 244.6v1.6M279.0 244.6v1.6M166.5 239.6h-1.6M166.5 234.6h-1.6M166.5 229.7h-1.6M166.5 224.7h-1.6M166.5 219.7h-1.6" stroke="#444" stroke-width="0.6" fill="none"/>
<text x="2.2" y="266.0" font-size="10.6" font-weight="bold" textLength="26.6" lengthAdjust="spacingAndGlyphs">CD94</text>
<path d="M162.9 249.3V278.6" fill="none" stroke="#bdbdbd" stroke-width="1.8"/>
<path d="M46.6 249.5H163.4" fill="none" stroke="#6e6e6e" stroke-width="1.0"/>
<path d="M48.6 275.0L49.7 274.1L50.3 273.2L51.0 271.9L51.7 271.6L52.3 270.9L53.0 270.7L53.6 269.4L54.3 267.5L54.9 267.0L55.6 266.4L56.2 265.3L56.9 263.8L57.5 263.0L58.2 263.2L58.8 261.6L59.5 261.4L60.1 260.5L60.8 260.4L61.4 259.7L62.0 259.3L62.7 258.9L63.3 259.1L63.9 258.5L64.6 257.7L65.2 258.3L65.9 257.9L66.6 256.8L67.2 257.3L67.9 257.2L68.6 257.5L69.2 257.1L69.8 259.0L70.4 259.1L71.0 259.9L71.7 262.5L72.5 263.9L73.2 265.1L73.9 267.0L74.6 268.8L75.3 270.5L76.1 271.0L76.8 272.2L77.5 272.6L78.2 274.2L79.0 274.8L79.7 275.2L80.3 275.4L81.0 276.5L81.6 276.8L82.3 276.8L83.0 276.9L83.7 277.5L84.5 277.3L85.3 277.5" fill="none" stroke="#000" stroke-width="1.3"/>
<clipPath id="k8"><path d="M48.6 277.6L48.6 271.1L49.6 271.1L49.6 270.3L50.6 270.3L50.6 268.2L51.4 268.2L51.4 268.9L52.4 268.9L52.4 263.9L53.4 263.9L53.4 267.8L54.4 267.8L54.4 258.2L55.4 258.2L55.4 264.0L56.2 264.0L56.2 257.9L57.4 257.9L57.4 258.2L58.6 258.2L58.6 264.1L59.4 264.1L59.4 254.5L60.2 254.5L60.2 258.9L61.2 258.9L61.2 252.2L62.0 252.2L62.0 263.5L62.8 263.5L62.8 259.6L64.0 259.6L64.0 252.0L64.8 252.0L64.8 259.2L65.8 259.2L65.8 256.3L66.6 256.3L66.6 262.2L67.4 262.2L67.4 261.5L68.4 261.5L68.4 253.4L69.4 253.4L69.4 254.1L70.2 254.1L70.2 260.7L71.6 260.7L71.6 254.8L72.6 254.8L72.6 263.1L74.0 263.1L74.0 261.5L75.2 261.5L75.2 266.1L76.2 266.1L76.2 269.4L77.4 269.4L77.4 268.8L78.6 268.8L78.6 271.1L79.4 271.1L79.4 272.4L80.4 272.4L80.4 273.2L81.4 273.2L81.4 273.4L82.2 273.4L82.2 274.2L83.0 274.2L83.0 275.2L84.2 275.2L84.2 274.2L85.6 274.2L85.6 275.7L86.8 275.7L86.8 275.8L88.0 275.8L88.0 276.4L89.2 276.4L89.2 276.1L90.6 276.1L90.6 275.8L91.6 275.8L91.6 276.2L92.6 276.2L92.6 276.6L93.6 276.6L93.6 276.7L94.6 276.7L94.6 277.0L95.6 277.0L95.6 277.1L97.0 277.1L97.0 277.2L98.0 277.2L98.0 277.1L99.0 277.1L99.0 277.4L100.0 277.4L100.0 277.5L100.8 277.5L100.8 277.6L101.4 277.6L101.4 277.6Z"/></clipPath>
<path d="M48.6 277.6L48.6 271.1L49.6 271.1L49.6 270.3L50.6 270.3L50.6 268.2L51.4 268.2L51.4 268.9L52.4 268.9L52.4 263.9L53.4 263.9L53.4 267.8L54.4 267.8L54.4 258.2L55.4 258.2L55.4 264.0L56.2 264.0L56.2 257.9L57.4 257.9L57.4 258.2L58.6 258.2L58.6 264.1L59.4 264.1L59.4 254.5L60.2 254.5L60.2 258.9L61.2 258.9L61.2 252.2L62.0 252.2L62.0 263.5L62.8 263.5L62.8 259.6L64.0 259.6L64.0 252.0L64.8 252.0L64.8 259.2L65.8 259.2L65.8 256.3L66.6 256.3L66.6 262.2L67.4 262.2L67.4 261.5L68.4 261.5L68.4 253.4L69.4 253.4L69.4 254.1L70.2 254.1L70.2 260.7L71.6 260.7L71.6 254.8L72.6 254.8L72.6 263.1L74.0 263.1L74.0 261.5L75.2 261.5L75.2 266.1L76.2 266.1L76.2 269.4L77.4 269.4L77.4 268.8L78.6 268.8L78.6 271.1L79.4 271.1L79.4 272.4L80.4 272.4L80.4 273.2L81.4 273.2L81.4 273.4L82.2 273.4L82.2 274.2L83.0 274.2L83.0 275.2L84.2 275.2L84.2 274.2L85.6 274.2L85.6 275.7L86.8 275.7L86.8 275.8L88.0 275.8L88.0 276.4L89.2 276.4L89.2 276.1L90.6 276.1L90.6 275.8L91.6 275.8L91.6 276.2L92.6 276.2L92.6 276.6L93.6 276.6L93.6 276.7L94.6 276.7L94.6 277.0L95.6 277.0L95.6 277.1L97.0 277.1L97.0 277.2L98.0 277.2L98.0 277.1L99.0 277.1L99.0 277.4L100.0 277.4L100.0 277.5L100.8 277.5L100.8 277.6L101.4 277.6L101.4 277.6Z" fill="#000"/>
<path d="M48.6 275.0L49.7 274.1L50.3 273.2L51.0 271.9L51.7 271.6L52.3 270.9L53.0 270.7L53.6 269.4L54.3 267.5L54.9 267.0L55.6 266.4L56.2 265.3L56.9 263.8L57.5 263.0L58.2 263.2L58.8 261.6L59.5 261.4L60.1 260.5L60.8 260.4L61.4 259.7L62.0 259.3L62.7 258.9L63.3 259.1L63.9 258.5L64.6 257.7L65.2 258.3L65.9 257.9L66.6 256.8L67.2 257.3L67.9 257.2L68.6 257.5L69.2 257.1L69.8 259.0L70.4 259.1L71.0 259.9L71.7 262.5L72.5 263.9L73.2 265.1L73.9 267.0L74.6 268.8L75.3 270.5L76.1 271.0L76.8 272.2L77.5 272.6L78.2 274.2L79.0 274.8L79.7 275.2L80.3 275.4L81.0 276.5L81.6 276.8L82.3 276.8L83.0 276.9L83.7 277.5L84.5 277.3L85.3 277.5" fill="none" stroke="#fff" stroke-width="1.1" clip-path="url(#k8)"/>
<path d="M48.6 249.9V277.6H162.3" fill="none" stroke="#000" stroke-width="1.4"/>
<path d="M48.6 277.6v1.6M57.1 277.6v1.6M62.0 277.6v1.6M65.5 277.6v1.6M68.2 277.6v1.6M70.4 277.6v1.6M72.3 277.6v1.6M74.0 277.6v1.6M75.4 277.6v1.6M76.7 277.6v1.6M85.1 277.6v1.6M90.1 277.6v1.6M93.6 277.6v1.6M96.3 277.6v1.6M98.5 277.6v1.6M100.4 277.6v1.6M102.0 277.6v1.6M103.5 277.6v1.6M104.8 277.6v1.6M113.2 277.6v1.6M118.1 277.6v1.6M121.7 277.6v1.6M124.4 277.6v1.6M126.6 277.6v1.6M128.5 277.6v1.6M130.1 277.6v1.6M131.5 277.6v1.6M132.8 277.6v1.6M141.3 277.6v1.6M146.2 277.6v1.6M149.7 277.6v1.6M152.4 277.6v1.6M154.7 277.6v1.6M156.6 277.6v1.6M158.2 277.6v1.6M159.6 277.6v1.6M160.9 277.6v1.6M48.6 272.5h-1.6M48.6 267.3h-1.6M48.6 262.2h-1.6M48.6 257.0h-1.6M48.6 251.9h-1.6" stroke="#444" stroke-width="0.6" fill="none"/>
<path d="M281.0 249.3V278.6" fill="none" stroke="#bdbdbd" stroke-width="1.8"/>
<path d="M164.5 249.5H281.5" fill="none" stroke="#6e6e6e" stroke-width="1.0"/>
<path d="M166.5 277.6L166.5 274.7L167.5 274.7L167.5 273.3L168.3 273.3L168.3 274.2L169.5 274.2L169.5 270.5L170.3 270.5L170.3 272.6L171.5 272.6L171.5 268.2L172.7 268.2L172.7 269.2L173.9 269.2L173.9 265.9L174.7 265.9L174.7 263.5L175.9 263.5L175.9 263.4L176.9 263.4L176.9 259.9L178.1 259.9L178.1 269.3L178.9 269.3L178.9 255.8L180.1 255.8L180.1 258.8L181.5 258.8L181.5 261.0L182.5 261.0L182.5 256.7L183.3 256.7L183.3 251.4L184.7 251.4L184.7 266.1L185.5 266.1L185.5 252.9L186.5 252.9L186.5 265.9L187.5 265.9L187.5 257.6L188.5 257.6L188.5 264.4L189.5 264.4L189.5 267.0L190.7 267.0L190.7 262.9L191.7 262.9L191.7 269.3L193.1 269.3L193.1 266.7L193.9 266.7L193.9 266.9L195.1 266.9L195.1 267.5L196.1 267.5L196.1 268.8L197.1 268.8L197.1 274.0L197.9 274.0L197.9 272.8L198.7 272.8L198.7 272.6L199.7 272.6L199.7 274.1L200.9 274.1L200.9 275.5L202.3 275.5L202.3 276.3L203.5 276.3L203.5 276.2L204.5 276.2L204.5 276.6L205.3 276.6L205.3 277.4L206.7 277.4L206.7 277.6L207.9 277.6L207.9 277.6Z" fill="#7f7f7f"/>
<path d="M166.5 271.2L167.1 270.1L167.8 269.7L168.4 269.1L169.0 269.0L169.7 269.0L170.3 267.4L170.9 267.0L171.6 266.7L172.2 266.1L172.9 265.9L173.6 265.4L174.2 264.8L174.9 263.8L175.5 262.2L176.2 261.7L176.9 261.4L177.5 260.7L178.2 259.2L178.8 258.5L179.5 259.2L180.2 258.6L180.9 257.7L181.6 256.7L182.2 256.3L182.9 256.3L183.6 256.6L184.3 256.9L185.0 258.2L185.7 259.1L186.4 259.5L187.1 260.9L187.8 260.5L188.5 261.8L189.2 263.5L189.9 263.2L190.6 265.3L191.3 267.5L192.1 269.3L192.9 270.6L193.6 271.5L194.3 273.2L194.9 274.1L195.6 274.8L196.3 275.2L197.0 275.6L197.7 276.6L198.4 276.5L199.1 276.3L199.8 276.9L200.6 277.1L201.3 277.4L202.1 277.6" fill="none" stroke="#000" stroke-width="1.25"/>
<path d="M166.5 249.9V277.6H280.4" fill="none" stroke="#000" stroke-width="1.4"/>
<path d="M166.5 277.6v1.6M175.0 277.6v1.6M179.9 277.6v1.6M183.4 277.6v1.6M186.2 277.6v1.6M188.4 277.6v1.6M190.3 277.6v1.6M191.9 277.6v1.6M193.3 277.6v1.6M194.6 277.6v1.6M203.1 277.6v1.6M208.0 277.6v1.6M211.6 277.6v1.6M214.3 277.6v1.6M216.5 277.6v1.6M218.4 277.6v1.6M220.0 277.6v1.6M221.5 277.6v1.6M222.8 277.6v1.6M231.2 277.6v1.6M236.2 277.6v1.6M239.7 277.6v1.6M242.4 277.6v1.6M244.6 277.6v1.6M246.5 277.6v1.6M248.1 277.6v1.6M249.6 277.6v1.6M250.9 277.6v1.6M259.3 277.6v1.6M264.3 277.6v1.6M267.8 277.6v1.6M270.5 277.6v1.6M272.8 277.6v1.6M274.6 277.6v1.6M276.3 277.6v1.6M277.7 277.6v1.6M279.0 277.6v1.6M166.5 272.5h-1.6M166.5 267.3h-1.6M166.5 262.2h-1.6M166.5 257.0h-1.6M166.5 251.9h-1.6" stroke="#444" stroke-width="0.6" fill="none"/>
<text x="2.2" y="300.2" font-size="10.6" font-weight="bold" textLength="19.9" lengthAdjust="spacingAndGlyphs">CD5</text>
<path d="M162.9 282.6V311.9" fill="none" stroke="#bdbdbd" stroke-width="1.8"/>
<path d="M46.6 282.5H163.4" fill="none" stroke="#6e6e6e" stroke-width="1.0"/>
<path d="M48.6 306.9L49.3 305.9L49.9 305.5L50.6 306.1L51.2 305.6L51.9 305.1L52.6 305.0L53.2 306.0L53.9 305.1L54.5 305.6L55.2 305.2L55.8 303.9L56.4 304.3L57.1 303.7L57.7 303.7L58.3 303.6L58.9 303.5L59.5 302.9L60.2 301.8L60.8 301.7L61.4 301.8L62.0 301.7L62.6 300.8L63.2 299.5L63.8 299.3L64.5 298.3L65.1 297.4L65.7 297.8L66.3 296.3L66.9 296.7L67.5 294.9L68.2 295.0L68.8 294.1L69.5 292.2L70.1 292.4L70.8 292.0L71.4 290.2L72.0 289.7L72.6 288.3L73.3 288.2L73.9 287.3L74.5 286.2L75.1 286.8L75.7 286.2L76.3 287.8L76.9 287.3L77.5 289.0L78.3 289.9L79.0 292.6L79.8 294.3L80.4 294.3L81.0 296.4L81.7 297.1L82.3 299.2L82.9 300.2L83.5 301.7L84.1 301.9L84.8 302.4L85.4 303.8L86.0 304.8L86.6 304.5L87.3 305.2L87.9 306.1L88.5 307.5L89.2 307.1L89.8 307.8L90.6 307.5L91.4 308.8L92.2 308.6L92.8 308.9L93.5 309.6L94.1 309.7L94.7 309.7L95.4 310.0L96.0 310.4L96.7 310.6L97.3 310.4L98.0 310.9L98.7 310.6L99.3 310.8L100.0 310.9" fill="none" stroke="#000" stroke-width="1.3"/>
<clipPath id="k9"><path d="M52.9 310.9L52.9 310.6L54.1 310.6L54.1 309.9L55.3 309.9L55.3 309.8L56.3 309.8L56.3 309.8L57.7 309.8L57.7 309.6L58.7 309.6L58.7 309.8L59.7 309.8L59.7 309.6L61.1 309.6L61.1 309.5L62.1 309.5L62.1 309.4L63.1 309.4L63.1 309.6L64.3 309.6L64.3 309.1L65.3 309.1L65.3 309.4L66.3 309.4L66.3 309.1L67.5 309.1L67.5 309.4L68.5 309.4L68.5 309.0L69.3 309.0L69.3 309.4L70.5 309.4L70.5 309.4L71.9 309.4L71.9 309.2L72.9 309.2L72.9 309.1L73.7 309.1L73.7 309.3L74.9 309.3L74.9 309.3L75.7 309.3L75.7 309.1L76.9 309.1L76.9 309.2L77.9 309.2L77.9 308.8L79.3 308.8L79.3 309.0L80.3 309.0L80.3 308.8L81.3 308.8L81.3 308.6L82.7 308.6L82.7 308.4L83.5 308.4L83.5 308.4L84.9 308.4L84.9 308.6L85.7 308.6L85.7 308.3L86.7 308.3L86.7 308.1L88.1 308.1L88.1 307.2L88.9 307.2L88.9 307.3L89.9 307.3L89.9 307.0L91.3 307.0L91.3 304.7L92.3 304.7L92.3 303.6L93.1 303.6L93.1 303.7L94.1 303.7L94.1 302.4L95.3 302.4L95.3 300.3L96.3 300.3L96.3 296.2L97.5 296.2L97.5 297.0L98.5 297.0L98.5 294.9L99.5 294.9L99.5 292.6L100.5 292.6L100.5 294.4L101.5 294.4L101.5 292.1L102.3 292.1L102.3 290.4L103.5 290.4L103.5 288.1L104.3 288.1L104.3 289.7L105.3 289.7L105.3 290.7L106.3 290.7L106.3 293.5L107.3 293.5L107.3 296.2L108.5 296.2L108.5 299.0L109.5 299.0L109.5 304.1L110.5 304.1L110.5 306.1L111.9 306.1L111.9 309.0L113.3 309.0L113.3 309.5L114.7 309.5L114.7 309.7L115.5 309.7L115.5 309.9L116.5 309.9L116.5 310.2L117.5 310.2L117.5 310.5L118.5 310.5L118.5 310.8L119.3 310.8L119.3 310.9L119.9 310.9L119.9 310.9Z"/></clipPath>
<path d="M52.9 310.9L52.9 310.6L54.1 310.6L54.1 309.9L55.3 309.9L55.3 309.8L56.3 309.8L56.3 309.8L57.7 309.8L57.7 309.6L58.7 309.6L58.7 309.8L59.7 309.8L59.7 309.6L61.1 309.6L61.1 309.5L62.1 309.5L62.1 309.4L63.1 309.4L63.1 309.6L64.3 309.6L64.3 309.1L65.3 309.1L65.3 309.4L66.3 309.4L66.3 309.1L67.5 309.1L67.5 309.4L68.5 309.4L68.5 309.0L69.3 309.0L69.3 309.4L70.5 309.4L70.5 309.4L71.9 309.4L71.9 309.2L72.9 309.2L72.9 309.1L73.7 309.1L73.7 309.3L74.9 309.3L74.9 309.3L75.7 309.3L75.7 309.1L76.9 309.1L76.9 309.2L77.9 309.2L77.9 308.8L79.3 308.8L79.3 309.0L80.3 309.0L80.3 308.8L81.3 308.8L81.3 308.6L82.7 308.6L82.7 308.4L83.5 308.4L83.5 308.4L84.9 308.4L84.9 308.6L85.7 308.6L85.7 308.3L86.7 308.3L86.7 308.1L88.1 308.1L88.1 307.2L88.9 307.2L88.9 307.3L89.9 307.3L89.9 307.0L91.3 307.0L91.3 304.7L92.3 304.7L92.3 303.6L93.1 303.6L93.1 303.7L94.1 303.7L94.1 302.4L95.3 302.4L95.3 300.3L96.3 300.3L96.3 296.2L97.5 296.2L97.5 297.0L98.5 297.0L98.5 294.9L99.5 294.9L99.5 292.6L100.5 292.6L100.5 294.4L101.5 294.4L101.5 292.1L102.3 292.1L102.3 290.4L103.5 290.4L103.5 288.1L104.3 288.1L104.3 289.7L105.3 289.7L105.3 290.7L106.3 290.7L106.3 293.5L107.3 293.5L107.3 296.2L108.5 296.2L108.5 299.0L109.5 299.0L109.5 304.1L110.5 304.1L110.5 306.1L111.9 306.1L111.9 309.0L113.3 309.0L113.3 309.5L114.7 309.5L114.7 309.7L115.5 309.7L115.5 309.9L116.5 309.9L116.5 310.2L117.5 310.2L117.5 310.5L118.5 310.5L118.5 310.8L119.3 310.8L119.3 310.9L119.9 310.9L119.9 310.9Z" fill="#000"/>
<path d="M48.6 306.9L49.3 305.9L49.9 305.5L50.6 306.1L51.2 305.6L51.9 305.1L52.6 305.0L53.2 306.0L53.9 305.1L54.5 305.6L55.2 305.2L55.8 303.9L56.4 304.3L57.1 303.7L57.7 303.7L58.3 303.6L58.9 303.5L59.5 302.9L60.2 301.8L60.8 301.7L61.4 301.8L62.0 301.7L62.6 300.8L63.2 299.5L63.8 299.3L64.5 298.3L65.1 297.4L65.7 297.8L66.3 296.3L66.9 296.7L67.5 294.9L68.2 295.0L68.8 294.1L69.5 292.2L70.1 292.4L70.8 292.0L71.4 290.2L72.0 289.7L72.6 288.3L73.3 288.2L73.9 287.3L74.5 286.2L75.1 286.8L75.7 286.2L76.3 287.8L76.9 287.3L77.5 289.0L78.3 289.9L79.0 292.6L79.8 294.3L80.4 294.3L81.0 296.4L81.7 297.1L82.3 299.2L82.9 300.2L83.5 301.7L84.1 301.9L84.8 302.4L85.4 303.8L86.0 304.8L86.6 304.5L87.3 305.2L87.9 306.1L88.5 307.5L89.2 307.1L89.8 307.8L90.6 307.5L91.4 308.8L92.2 308.6L92.8 308.9L93.5 309.6L94.1 309.7L94.7 309.7L95.4 310.0L96.0 310.4L96.7 310.6L97.3 310.4L98.0 310.9L98.7 310.6L99.3 310.8L100.0 310.9" fill="none" stroke="#fff" stroke-width="1.1" clip-path="url(#k9)"/>
<path d="M48.6 283.2V310.9H162.3" fill="none" stroke="#000" stroke-width="1.4"/>
<path d="M48.6 310.9v1.6M57.1 310.9v1.6M62.0 310.9v1.6M65.5 310.9v1.6M68.2 310.9v1.6M70.4 310.9v1.6M72.3 310.9v1.6M74.0 310.9v1.6M75.4 310.9v1.6M76.7 310.9v1.6M85.1 310.9v1.6M90.1 310.9v1.6M93.6 310.9v1.6M96.3 310.9v1.6M98.5 310.9v1.6M100.4 310.9v1.6M102.0 310.9v1.6M103.5 310.9v1.6M104.8 310.9v1.6M113.2 310.9v1.6M118.1 310.9v1.6M121.7 310.9v1.6M124.4 310.9v1.6M126.6 310.9v1.6M128.5 310.9v1.6M130.1 310.9v1.6M131.5 310.9v1.6M132.8 310.9v1.6M141.3 310.9v1.6M146.2 310.9v1.6M149.7 310.9v1.6M152.4 310.9v1.6M154.7 310.9v1.6M156.6 310.9v1.6M158.2 310.9v1.6M159.6 310.9v1.6M160.9 310.9v1.6M48.6 305.8h-1.6M48.6 300.6h-1.6M48.6 295.5h-1.6M48.6 290.3h-1.6M48.6 285.2h-1.6" stroke="#444" stroke-width="0.6" fill="none"/>
<path d="M281.0 282.6V311.9" fill="none" stroke="#bdbdbd" stroke-width="1.8"/>
<path d="M164.5 282.5H281.5" fill="none" stroke="#6e6e6e" stroke-width="1.0"/>
<path d="M170.9 310.9L170.9 310.6L172.1 310.6L172.1 309.5L173.1 309.5L173.1 309.6L173.9 309.6L173.9 309.0L174.7 309.0L174.7 308.1L175.7 308.1L175.7 307.9L177.1 307.9L177.1 308.9L178.5 308.9L178.5 308.1L179.5 308.1L179.5 308.2L180.7 308.2L180.7 307.1L181.5 307.1L181.5 305.6L182.7 305.6L182.7 307.5L183.7 307.5L183.7 306.3L184.7 306.3L184.7 306.6L185.5 306.6L185.5 304.2L186.5 304.2L186.5 301.9L187.3 301.9L187.3 302.8L188.3 302.8L188.3 304.8L189.7 304.8L189.7 305.6L190.7 305.6L190.7 303.5L191.7 303.5L191.7 303.3L193.1 303.3L193.1 303.5L193.9 303.5L193.9 299.5L194.9 299.5L194.9 297.1L195.9 297.1L195.9 300.4L197.3 300.4L197.3 303.8L198.3 303.8L198.3 302.4L199.3 302.4L199.3 303.1L200.7 303.1L200.7 303.4L201.5 303.4L201.5 303.5L202.7 303.5L202.7 299.8L203.5 299.8L203.5 299.6L204.3 299.6L204.3 295.2L205.3 295.2L205.3 294.7L206.3 294.7L206.3 291.7L207.7 291.7L207.7 298.6L208.9 298.6L208.9 297.0L209.9 297.0L209.9 302.3L210.7 302.3L210.7 301.1L211.7 301.1L211.7 303.0L212.7 303.0L212.7 298.8L213.7 298.8L213.7 292.3L214.7 292.3L214.7 301.6L215.5 301.6L215.5 294.3L216.3 294.3L216.3 298.9L217.7 298.9L217.7 291.4L218.7 291.4L218.7 283.8L219.7 283.8L219.7 286.1L220.7 286.1L220.7 287.1L221.5 287.1L221.5 298.6L222.7 298.6L222.7 298.6L223.9 298.6L223.9 298.0L224.7 298.0L224.7 305.6L226.1 305.6L226.1 306.8L227.1 306.8L227.1 308.1L228.5 308.1L228.5 308.5L229.5 308.5L229.5 309.7L230.3 309.7L230.3 309.5L231.1 309.5L231.1 310.3L232.3 310.3L232.3 310.0L233.5 310.0L233.5 309.6L234.3 309.6L234.3 310.3L235.1 310.3L235.1 310.2L236.1 310.2L236.1 310.1L237.1 310.1L237.1 310.2L238.1 310.2L238.1 310.8L239.5 310.8L239.5 310.9L240.2 310.9L240.2 310.9Z" fill="#7f7f7f"/>
<path d="M166.5 308.3L167.1 308.7L167.7 307.6L168.3 307.2L169.0 307.2L169.6 307.2L170.2 306.7L170.8 306.2L171.4 306.4L172.0 305.0L172.6 304.4L173.2 304.3L173.9 303.6L174.5 304.2L175.1 302.6L175.8 303.6L176.4 302.4L177.0 302.4L177.6 301.4L178.3 300.4L178.9 299.8L179.5 299.7L180.2 299.3L180.8 298.9L181.4 297.9L182.1 297.4L182.7 296.9L183.3 295.3L183.9 295.0L184.6 294.5L185.2 294.2L185.8 292.8L186.5 293.1L187.1 292.5L187.8 291.3L188.4 290.5L189.1 289.5L189.7 289.4L190.4 288.8L191.1 288.6L191.7 288.9L192.4 289.3L193.1 290.9L193.8 291.6L194.5 292.9L195.2 292.6L195.9 294.1L196.6 295.6L197.3 297.7L197.9 299.1L198.6 300.7L199.3 301.3L200.0 301.9L200.7 304.2L201.4 305.7L202.1 306.5L202.8 307.1L203.5 307.0L204.2 307.8L204.9 309.0L205.6 310.0L206.3 310.7L207.1 310.7L207.9 310.8" fill="none" stroke="#000" stroke-width="1.25"/>
<path d="M166.5 283.2V310.9H280.4" fill="none" stroke="#000" stroke-width="1.4"/>
<path d="M166.5 310.9v1.6M175.0 310.9v1.6M179.9 310.9v1.6M183.4 310.9v1.6M186.2 310.9v1.6M188.4 310.9v1.6M190.3 310.9v1.6M191.9 310.9v1.6M193.3 310.9v1.6M194.6 310.9v1.6M203.1 310.9v1.6M208.0 310.9v1.6M211.6 310.9v1.6M214.3 310.9v1.6M216.5 310.9v1.6M218.4 310.9v1.6M220.0 310.9v1.6M221.5 310.9v1.6M222.8 310.9v1.6M231.2 310.9v1.6M236.2 310.9v1.6M239.7 310.9v1.6M242.4 310.9v1.6M244.6 310.9v1.6M246.5 310.9v1.6M248.1 310.9v1.6M249.6 310.9v1.6M250.9 310.9v1.6M259.3 310.9v1.6M264.3 310.9v1.6M267.8 310.9v1.6M270.5 310.9v1.6M272.8 310.9v1.6M274.6 310.9v1.6M276.3 310.9v1.6M277.7 310.9v1.6M279.0 310.9v1.6M166.5 305.8h-1.6M166.5 300.6h-1.6M166.5 295.5h-1.6M166.5 290.3h-1.6M166.5 285.2h-1.6" stroke="#444" stroke-width="0.6" fill="none"/>
<text x="2.2" y="332.1" font-size="10.6" font-weight="bold" textLength="19.9" lengthAdjust="spacingAndGlyphs">CD7</text>
<path d="M162.9 315.6V344.4" fill="none" stroke="#bdbdbd" stroke-width="1.8"/>
<path d="M46.6 315.5H163.4" fill="none" stroke="#6e6e6e" stroke-width="1.0"/>
<path d="M48.6 339.8L49.2 340.8L49.8 339.4L50.4 339.3L51.0 339.7L51.6 340.0L52.2 338.9L52.8 339.4L53.4 338.8L54.0 339.0L54.6 337.4L55.2 337.8L55.9 337.9L56.5 338.0L57.1 336.8L57.8 336.3L58.4 336.0L59.0 336.9L59.6 336.2L60.3 335.9L60.9 334.8L61.5 335.4L62.2 334.2L62.8 333.1L63.4 332.9L64.1 333.5L64.7 332.8L65.3 332.0L65.9 330.4L66.6 329.9L67.2 329.4L67.8 328.8L68.5 328.2L69.1 327.3L69.8 326.3L70.4 325.0L71.1 324.4L71.7 323.4L72.4 322.4L73.1 321.8L73.7 321.4L74.9 320.7L75.6 320.2L76.3 320.8L76.9 322.6L77.6 323.2L78.3 325.7L79.0 325.6L79.7 327.7L80.3 328.7L81.0 330.9L81.6 332.2L82.3 333.5L83.0 334.7L83.6 336.1L84.3 336.5L84.9 336.5L85.6 337.9L86.3 338.2L86.9 339.2L87.6 339.7L88.3 340.1L89.0 341.0L89.6 342.1L90.3 342.5L91.0 342.5L91.8 343.1L92.6 343.3L93.3 343.2" fill="none" stroke="#000" stroke-width="1.3"/>
<clipPath id="k10"><path d="M110.7 343.4L110.7 342.9L111.9 342.9L111.9 342.8L112.9 342.8L112.9 342.6L113.9 342.6L113.9 342.6L114.9 342.6L114.9 342.3L115.9 342.3L115.9 342.1L116.9 342.1L116.9 342.0L118.3 342.0L118.3 341.2L119.5 341.2L119.5 341.3L120.7 341.3L120.7 341.2L121.7 341.2L121.7 340.2L122.5 340.2L122.5 341.0L123.3 341.0L123.3 340.7L124.7 340.7L124.7 340.0L125.7 340.0L125.7 339.8L126.9 339.8L126.9 338.9L127.9 338.9L127.9 339.6L128.9 339.6L128.9 338.3L130.3 338.3L130.3 338.1L131.5 338.1L131.5 337.7L132.7 337.7L132.7 337.2L133.5 337.2L133.5 336.0L134.5 336.0L134.5 335.4L135.7 335.4L135.7 333.8L136.9 333.8L136.9 330.2L137.9 330.2L137.9 327.6L138.7 327.6L138.7 326.4L139.7 326.4L139.7 323.2L140.5 323.2L140.5 325.1L141.5 325.1L141.5 321.4L142.3 321.4L142.3 328.4L143.3 328.4L143.3 328.1L144.7 328.1L144.7 332.9L145.7 332.9L145.7 337.7L146.9 337.7L146.9 339.5L147.7 339.5L147.7 341.6L148.7 341.6L148.7 341.9L150.1 341.9L150.1 342.5L150.9 342.5L150.9 342.7L151.7 342.7L151.7 343.2L153.1 343.2L153.1 343.3L153.9 343.3L153.9 343.4L154.5 343.4L154.5 343.4Z"/></clipPath>
<path d="M110.7 343.4L110.7 342.9L111.9 342.9L111.9 342.8L112.9 342.8L112.9 342.6L113.9 342.6L113.9 342.6L114.9 342.6L114.9 342.3L115.9 342.3L115.9 342.1L116.9 342.1L116.9 342.0L118.3 342.0L118.3 341.2L119.5 341.2L119.5 341.3L120.7 341.3L120.7 341.2L121.7 341.2L121.7 340.2L122.5 340.2L122.5 341.0L123.3 341.0L123.3 340.7L124.7 340.7L124.7 340.0L125.7 340.0L125.7 339.8L126.9 339.8L126.9 338.9L127.9 338.9L127.9 339.6L128.9 339.6L128.9 338.3L130.3 338.3L130.3 338.1L131.5 338.1L131.5 337.7L132.7 337.7L132.7 337.2L133.5 337.2L133.5 336.0L134.5 336.0L134.5 335.4L135.7 335.4L135.7 333.8L136.9 333.8L136.9 330.2L137.9 330.2L137.9 327.6L138.7 327.6L138.7 326.4L139.7 326.4L139.7 323.2L140.5 323.2L140.5 325.1L141.5 325.1L141.5 321.4L142.3 321.4L142.3 328.4L143.3 328.4L143.3 328.1L144.7 328.1L144.7 332.9L145.7 332.9L145.7 337.7L146.9 337.7L146.9 339.5L147.7 339.5L147.7 341.6L148.7 341.6L148.7 341.9L150.1 341.9L150.1 342.5L150.9 342.5L150.9 342.7L151.7 342.7L151.7 343.2L153.1 343.2L153.1 343.3L153.9 343.3L153.9 343.4L154.5 343.4L154.5 343.4Z" fill="#000"/>
<path d="M48.6 339.8L49.2 340.8L49.8 339.4L50.4 339.3L51.0 339.7L51.6 340.0L52.2 338.9L52.8 339.4L53.4 338.8L54.0 339.0L54.6 337.4L55.2 337.8L55.9 337.9L56.5 338.0L57.1 336.8L57.8 336.3L58.4 336.0L59.0 336.9L59.6 336.2L60.3 335.9L60.9 334.8L61.5 335.4L62.2 334.2L62.8 333.1L63.4 332.9L64.1 333.5L64.7 332.8L65.3 332.0L65.9 330.4L66.6 329.9L67.2 329.4L67.8 328.8L68.5 328.2L69.1 327.3L69.8 326.3L70.4 325.0L71.1 324.4L71.7 323.4L72.4 322.4L73.1 321.8L73.7 321.4L74.9 320.7L75.6 320.2L76.3 320.8L76.9 322.6L77.6 323.2L78.3 325.7L79.0 325.6L79.7 327.7L80.3 328.7L81.0 330.9L81.6 332.2L82.3 333.5L83.0 334.7L83.6 336.1L84.3 336.5L84.9 336.5L85.6 337.9L86.3 338.2L86.9 339.2L87.6 339.7L88.3 340.1L89.0 341.0L89.6 342.1L90.3 342.5L91.0 342.5L91.8 343.1L92.6 343.3L93.3 343.2" fill="none" stroke="#fff" stroke-width="1.1" clip-path="url(#k10)"/>
<path d="M48.6 316.2V343.4H162.3" fill="none" stroke="#000" stroke-width="1.4"/>
<path d="M48.6 343.4v1.6M57.1 343.4v1.6M62.0 343.4v1.6M65.5 343.4v1.6M68.2 343.4v1.6M70.4 343.4v1.6M72.3 343.4v1.6M74.0 343.4v1.6M75.4 343.4v1.6M76.7 343.4v1.6M85.1 343.4v1.6M90.1 343.4v1.6M93.6 343.4v1.6M96.3 343.4v1.6M98.5 343.4v1.6M100.4 343.4v1.6M102.0 343.4v1.6M103.5 343.4v1.6M104.8 343.4v1.6M113.2 343.4v1.6M118.1 343.4v1.6M121.7 343.4v1.6M124.4 343.4v1.6M126.6 343.4v1.6M128.5 343.4v1.6M130.1 343.4v1.6M131.5 343.4v1.6M132.8 343.4v1.6M141.3 343.4v1.6M146.2 343.4v1.6M149.7 343.4v1.6M152.4 343.4v1.6M154.7 343.4v1.6M156.6 343.4v1.6M158.2 343.4v1.6M159.6 343.4v1.6M160.9 343.4v1.6M48.6 338.3h-1.6M48.6 333.3h-1.6M48.6 328.2h-1.6M48.6 323.2h-1.6M48.6 318.1h-1.6" stroke="#444" stroke-width="0.6" fill="none"/>
<path d="M281.0 315.6V344.4" fill="none" stroke="#bdbdbd" stroke-width="1.8"/>
<path d="M164.5 315.5H281.5" fill="none" stroke="#6e6e6e" stroke-width="1.0"/>
<path d="M194.0 343.4L194.0 342.5L195.0 342.5L195.0 341.8L196.0 341.8L196.0 340.3L197.4 340.3L197.4 341.4L198.4 341.4L198.4 340.2L199.2 340.2L199.2 341.8L200.2 341.8L200.2 340.3L201.6 340.3L201.6 340.5L203.0 340.5L203.0 341.9L203.8 341.9L203.8 341.9L204.6 341.9L204.6 342.6L205.4 342.6L205.4 343.2L206.6 343.2L206.6 343.2L207.6 343.2L207.6 343.3L208.6 343.3L208.6 343.2L209.6 343.2L209.6 343.2L211.0 343.2L211.0 343.3L211.8 343.3L211.8 343.3L212.6 343.3L212.6 343.3L213.4 343.3L213.4 343.3L214.2 343.3L214.2 343.3L215.6 343.3L215.6 343.3L216.8 343.3L216.8 343.3L217.8 343.3L217.8 343.3L218.8 343.3L218.8 343.3L219.6 343.3L219.6 343.3L220.6 343.3L220.6 343.2L221.6 343.2L221.6 343.3L222.6 343.3L222.6 343.3L223.4 343.3L223.4 343.2L224.2 343.2L224.2 343.3L225.6 343.3L225.6 343.1L226.4 343.1L226.4 343.2L227.2 343.2L227.2 343.3L228.6 343.3L228.6 342.7L229.6 342.7L229.6 342.7L230.6 342.7L230.6 342.5L232.0 342.5L232.0 342.3L233.0 342.3L233.0 341.3L233.8 341.3L233.8 341.7L234.8 341.7L234.8 341.9L235.6 341.9L235.6 340.6L236.6 340.6L236.6 341.2L237.6 341.2L237.6 339.5L238.4 339.5L238.4 341.8L239.4 341.8L239.4 341.5L240.6 341.5L240.6 341.4L242.0 341.4L242.0 339.4L242.8 339.4L242.8 341.4L243.8 341.4L243.8 338.5L244.8 338.5L244.8 340.3L246.0 340.3L246.0 337.7L246.8 337.7L246.8 338.0L247.8 338.0L247.8 335.6L249.0 335.6L249.0 334.7L250.4 334.7L250.4 338.0L251.8 338.0L251.8 335.0L252.6 335.0L252.6 335.9L253.8 335.9L253.8 334.8L255.0 334.8L255.0 330.1L256.0 330.1L256.0 328.4L256.8 328.4L256.8 321.4L257.8 321.4L257.8 323.5L259.2 323.5L259.2 328.7L260.0 328.7L260.0 330.6L261.2 330.6L261.2 316.8L262.2 316.8L262.2 324.1L263.2 324.1L263.2 330.7L264.2 330.7L264.2 328.6L265.2 328.6L265.2 332.9L266.0 332.9L266.0 338.4L267.0 338.4L267.0 338.6L268.0 338.6L268.0 340.3L269.0 340.3L269.0 339.7L270.0 339.7L270.0 341.4L271.0 341.4L271.0 343.4L272.2 343.4L272.2 343.4L272.5 343.4L272.5 343.4Z" fill="#7f7f7f"/>
<path d="M166.5 341.7L167.1 340.8L167.7 341.5L168.3 340.3L169.0 340.5L169.6 341.5L170.2 341.0L170.8 340.4L171.4 339.7L172.0 339.6L172.6 339.0L173.2 339.5L173.9 338.2L174.5 338.8L175.1 337.3L175.8 337.2L176.4 336.9L177.0 336.2L177.6 335.9L178.3 335.5L178.9 334.5L179.5 334.3L180.2 333.5L180.8 332.0L181.4 331.1L182.1 331.6L182.7 330.5L183.4 329.0L184.0 329.1L184.7 327.9L185.3 327.7L185.9 325.9L186.6 325.2L187.3 325.3L187.9 324.1L188.6 324.0L189.2 323.6L189.9 322.3L190.6 321.8L191.3 322.2L191.9 323.5L192.6 323.6L193.3 323.8L194.0 324.5L194.7 325.7L195.4 328.4L196.1 328.9L196.8 331.3L197.5 332.8L198.2 334.2L198.9 334.9L199.6 336.3L200.3 336.8L201.0 337.7L201.6 338.7L202.3 339.6L203.0 340.0L203.7 340.5L204.4 340.7L205.1 341.6L205.8 341.7L206.5 342.0L207.2 342.5L207.9 342.6L208.6 343.1L209.4 343.3L210.2 343.2" fill="none" stroke="#000" stroke-width="1.25"/>
<path d="M166.5 316.2V343.4H280.4" fill="none" stroke="#000" stroke-width="1.4"/>
<path d="M166.5 343.4v1.6M175.0 343.4v1.6M179.9 343.4v1.6M183.4 343.4v1.6M186.2 343.4v1.6M188.4 343.4v1.6M190.3 343.4v1.6M191.9 343.4v1.6M193.3 343.4v1.6M194.6 343.4v1.6M203.1 343.4v1.6M208.0 343.4v1.6M211.6 343.4v1.6M214.3 343.4v1.6M216.5 343.4v1.6M218.4 343.4v1.6M220.0 343.4v1.6M221.5 343.4v1.6M222.8 343.4v1.6M231.2 343.4v1.6M236.2 343.4v1.6M239.7 343.4v1.6M242.4 343.4v1.6M244.6 343.4v1.6M246.5 343.4v1.6M248.1 343.4v1.6M249.6 343.4v1.6M250.9 343.4v1.6M259.3 343.4v1.6M264.3 343.4v1.6M267.8 343.4v1.6M270.5 343.4v1.6M272.8 343.4v1.6M274.6 343.4v1.6M276.3 343.4v1.6M277.7 343.4v1.6M279.0 343.4v1.6M166.5 338.3h-1.6M166.5 333.3h-1.6M166.5 328.2h-1.6M166.5 323.2h-1.6M166.5 318.1h-1.6" stroke="#444" stroke-width="0.6" fill="none"/>
<text x="2.2" y="366.5" font-size="10.6" font-weight="bold" textLength="38.9" lengthAdjust="spacingAndGlyphs">CD45RA</text>
<path d="M162.9 348.3V377.8" fill="none" stroke="#bdbdbd" stroke-width="1.8"/>
<path d="M46.6 348.5H163.4" fill="none" stroke="#6e6e6e" stroke-width="1.0"/>
<path d="M48.6 371.9L49.3 371.3L49.9 371.4L50.6 372.0L51.2 371.8L51.9 370.9L52.6 371.7L53.2 370.5L53.9 371.1L54.5 370.8L55.2 369.8L55.8 370.0L56.4 368.5L57.1 368.2L57.7 368.5L58.3 368.6L58.9 368.3L59.5 367.3L60.2 366.9L60.8 366.7L61.4 365.7L62.0 365.5L62.6 364.6L63.2 365.1L63.8 364.6L64.5 363.5L65.1 362.8L65.7 362.6L66.3 361.4L66.9 361.6L67.5 360.9L68.2 359.8L68.8 358.6L69.5 357.8L70.1 357.6L70.8 356.8L71.4 355.3L72.0 354.4L72.6 354.0L73.3 353.9L73.9 352.7L74.5 352.0L75.1 352.4L75.7 352.9L76.3 351.7L76.9 352.4L77.5 354.3L78.3 355.4L79.0 357.4L79.8 360.1L80.6 362.6L81.4 363.6L82.2 365.6L82.8 367.3L83.4 369.0L84.0 369.6L84.6 371.1L85.2 370.7L85.8 372.8L86.5 373.0L87.1 372.8L87.8 374.3L88.4 374.8L89.1 375.2L89.7 375.3L90.3 374.9L91.0 374.4L91.6 375.6L92.2 375.7L92.8 375.0L93.5 375.8L94.1 376.1L94.7 376.5L95.4 376.7L96.0 376.6" fill="none" stroke="#000" stroke-width="1.3"/>
<clipPath id="k11"><path d="M65.6 376.8L65.6 376.7L66.6 376.7L66.6 376.4L68.0 376.4L68.0 375.9L68.8 375.9L68.8 375.8L69.8 375.8L69.8 375.2L71.0 375.2L71.0 375.0L72.0 375.0L72.0 374.5L73.0 374.5L73.0 373.8L74.0 373.8L74.0 373.5L75.0 373.5L75.0 372.6L76.0 372.6L76.0 371.0L77.0 371.0L77.0 371.6L78.0 371.6L78.0 368.8L79.4 368.8L79.4 368.1L80.6 368.1L80.6 364.8L81.8 364.8L81.8 361.3L82.8 361.3L82.8 357.5L83.8 357.5L83.8 357.2L84.6 357.2L84.6 355.4L85.8 355.4L85.8 354.6L86.8 354.6L86.8 351.7L87.8 351.7L87.8 351.5L88.8 351.5L88.8 349.8L89.8 349.8L89.8 350.8L91.0 350.8L91.0 349.5L92.4 349.5L92.4 357.6L93.8 357.6L93.8 356.1L94.8 356.1L94.8 362.7L95.8 362.7L95.8 366.8L96.8 366.8L96.8 366.5L97.8 366.5L97.8 370.2L98.6 370.2L98.6 369.7L99.6 369.7L99.6 372.2L100.6 372.2L100.6 372.4L101.6 372.4L101.6 373.2L102.6 373.2L102.6 373.6L104.0 373.6L104.0 374.7L105.0 374.7L105.0 375.0L106.0 375.0L106.0 375.0L107.4 375.0L107.4 375.0L108.2 375.0L108.2 375.1L109.4 375.1L109.4 375.3L110.4 375.3L110.4 375.0L111.6 375.0L111.6 375.4L112.6 375.4L112.6 375.6L113.8 375.6L113.8 375.6L114.6 375.6L114.6 375.6L115.8 375.6L115.8 375.8L117.2 375.8L117.2 376.0L118.4 376.0L118.4 376.2L119.6 376.2L119.6 376.2L120.4 376.2L120.4 376.4L121.4 376.4L121.4 376.5L122.6 376.5L122.6 376.7L123.6 376.7L123.6 376.8L124.6 376.8L124.6 376.8L125.0 376.8L125.0 376.8Z"/></clipPath>
<path d="M65.6 376.8L65.6 376.7L66.6 376.7L66.6 376.4L68.0 376.4L68.0 375.9L68.8 375.9L68.8 375.8L69.8 375.8L69.8 375.2L71.0 375.2L71.0 375.0L72.0 375.0L72.0 374.5L73.0 374.5L73.0 373.8L74.0 373.8L74.0 373.5L75.0 373.5L75.0 372.6L76.0 372.6L76.0 371.0L77.0 371.0L77.0 371.6L78.0 371.6L78.0 368.8L79.4 368.8L79.4 368.1L80.6 368.1L80.6 364.8L81.8 364.8L81.8 361.3L82.8 361.3L82.8 357.5L83.8 357.5L83.8 357.2L84.6 357.2L84.6 355.4L85.8 355.4L85.8 354.6L86.8 354.6L86.8 351.7L87.8 351.7L87.8 351.5L88.8 351.5L88.8 349.8L89.8 349.8L89.8 350.8L91.0 350.8L91.0 349.5L92.4 349.5L92.4 357.6L93.8 357.6L93.8 356.1L94.8 356.1L94.8 362.7L95.8 362.7L95.8 366.8L96.8 366.8L96.8 366.5L97.8 366.5L97.8 370.2L98.6 370.2L98.6 369.7L99.6 369.7L99.6 372.2L100.6 372.2L100.6 372.4L101.6 372.4L101.6 373.2L102.6 373.2L102.6 373.6L104.0 373.6L104.0 374.7L105.0 374.7L105.0 375.0L106.0 375.0L106.0 375.0L107.4 375.0L107.4 375.0L108.2 375.0L108.2 375.1L109.4 375.1L109.4 375.3L110.4 375.3L110.4 375.0L111.6 375.0L111.6 375.4L112.6 375.4L112.6 375.6L113.8 375.6L113.8 375.6L114.6 375.6L114.6 375.6L115.8 375.6L115.8 375.8L117.2 375.8L117.2 376.0L118.4 376.0L118.4 376.2L119.6 376.2L119.6 376.2L120.4 376.2L120.4 376.4L121.4 376.4L121.4 376.5L122.6 376.5L122.6 376.7L123.6 376.7L123.6 376.8L124.6 376.8L124.6 376.8L125.0 376.8L125.0 376.8Z" fill="#000"/>
<path d="M48.6 371.9L49.3 371.3L49.9 371.4L50.6 372.0L51.2 371.8L51.9 370.9L52.6 371.7L53.2 370.5L53.9 371.1L54.5 370.8L55.2 369.8L55.8 370.0L56.4 368.5L57.1 368.2L57.7 368.5L58.3 368.6L58.9 368.3L59.5 367.3L60.2 366.9L60.8 366.7L61.4 365.7L62.0 365.5L62.6 364.6L63.2 365.1L63.8 364.6L64.5 363.5L65.1 362.8L65.7 362.6L66.3 361.4L66.9 361.6L67.5 360.9L68.2 359.8L68.8 358.6L69.5 357.8L70.1 357.6L70.8 356.8L71.4 355.3L72.0 354.4L72.6 354.0L73.3 353.9L73.9 352.7L74.5 352.0L75.1 352.4L75.7 352.9L76.3 351.7L76.9 352.4L77.5 354.3L78.3 355.4L79.0 357.4L79.8 360.1L80.6 362.6L81.4 363.6L82.2 365.6L82.8 367.3L83.4 369.0L84.0 369.6L84.6 371.1L85.2 370.7L85.8 372.8L86.5 373.0L87.1 372.8L87.8 374.3L88.4 374.8L89.1 375.2L89.7 375.3L90.3 374.9L91.0 374.4L91.6 375.6L92.2 375.7L92.8 375.0L93.5 375.8L94.1 376.1L94.7 376.5L95.4 376.7L96.0 376.6" fill="none" stroke="#fff" stroke-width="1.1" clip-path="url(#k11)"/>
<path d="M48.6 348.9V376.8H162.3" fill="none" stroke="#000" stroke-width="1.4"/>
<path d="M48.6 376.8v1.6M57.1 376.8v1.6M62.0 376.8v1.6M65.5 376.8v1.6M68.2 376.8v1.6M70.4 376.8v1.6M72.3 376.8v1.6M74.0 376.8v1.6M75.4 376.8v1.6M76.7 376.8v1.6M85.1 376.8v1.6M90.1 376.8v1.6M93.6 376.8v1.6M96.3 376.8v1.6M98.5 376.8v1.6M100.4 376.8v1.6M102.0 376.8v1.6M103.5 376.8v1.6M104.8 376.8v1.6M113.2 376.8v1.6M118.1 376.8v1.6M121.7 376.8v1.6M124.4 376.8v1.6M126.6 376.8v1.6M128.5 376.8v1.6M130.1 376.8v1.6M131.5 376.8v1.6M132.8 376.8v1.6M141.3 376.8v1.6M146.2 376.8v1.6M149.7 376.8v1.6M152.4 376.8v1.6M154.7 376.8v1.6M156.6 376.8v1.6M158.2 376.8v1.6M159.6 376.8v1.6M160.9 376.8v1.6M48.6 371.6h-1.6M48.6 366.4h-1.6M48.6 361.3h-1.6M48.6 356.1h-1.6M48.6 350.9h-1.6" stroke="#444" stroke-width="0.6" fill="none"/>
<path d="M281.0 348.3V377.8" fill="none" stroke="#bdbdbd" stroke-width="1.8"/>
<path d="M164.5 348.5H281.5" fill="none" stroke="#6e6e6e" stroke-width="1.0"/>
<path d="M194.0 376.8L194.0 376.5L194.8 376.5L194.8 376.1L196.0 376.1L196.0 374.8L197.4 374.8L197.4 372.5L198.6 372.5L198.6 371.0L199.6 371.0L199.6 366.7L200.8 366.7L200.8 372.2L201.8 372.2L201.8 364.5L203.2 364.5L203.2 365.5L204.2 365.5L204.2 359.3L205.2 359.3L205.2 363.0L206.2 363.0L206.2 360.3L207.0 360.3L207.0 359.8L208.4 359.8L208.4 358.0L209.4 358.0L209.4 363.6L210.4 363.6L210.4 363.2L211.4 363.2L211.4 358.1L212.8 358.1L212.8 366.8L213.6 366.8L213.6 359.1L214.8 359.1L214.8 367.5L216.2 367.5L216.2 364.8L217.0 364.8L217.0 370.9L218.0 370.9L218.0 368.8L219.0 368.8L219.0 370.5L220.0 370.5L220.0 372.3L220.8 372.3L220.8 374.8L221.8 374.8L221.8 375.6L223.2 375.6L223.2 375.2L224.6 375.2L224.6 376.0L225.8 376.0L225.8 376.4L226.8 376.4L226.8 376.7L227.6 376.7L227.6 376.8L228.4 376.8L228.4 376.8L228.7 376.8L228.7 376.8Z" fill="#7f7f7f"/>
<path d="M166.5 374.0L167.1 374.8L167.7 374.2L168.3 374.2L169.0 373.4L169.6 373.0L170.2 373.8L170.8 373.1L171.4 372.4L172.0 372.8L172.6 371.8L173.2 371.7L173.9 372.0L174.5 370.7L175.1 370.7L175.8 370.9L176.4 369.6L177.0 368.7L177.6 368.6L178.3 368.1L178.9 367.6L179.5 366.3L180.2 366.0L180.8 366.0L181.4 365.0L182.1 364.2L182.7 362.4L183.4 362.0L184.0 362.1L184.7 360.1L185.3 360.8L185.9 359.3L186.6 358.8L187.3 357.6L187.9 357.5L188.6 357.5L189.2 356.3L189.9 355.6L190.6 355.4L191.3 356.1L191.9 356.6L192.6 356.3L193.3 356.9L194.0 358.6L194.7 358.7L195.4 359.9L196.1 362.3L196.8 363.9L197.5 364.8L198.2 365.7L198.9 368.1L199.6 369.1L200.3 370.2L201.0 370.5L201.6 372.3L202.3 372.5L203.0 373.2L203.7 373.6L204.4 375.0L205.1 374.2L205.8 374.5L206.5 375.6L207.2 375.5L207.9 376.4L208.6 376.3L209.4 376.7L210.2 376.7" fill="none" stroke="#000" stroke-width="1.25"/>
<path d="M166.5 348.9V376.8H280.4" fill="none" stroke="#000" stroke-width="1.4"/>
<path d="M166.5 376.8v1.6M175.0 376.8v1.6M179.9 376.8v1.6M183.4 376.8v1.6M186.2 376.8v1.6M188.4 376.8v1.6M190.3 376.8v1.6M191.9 376.8v1.6M193.3 376.8v1.6M194.6 376.8v1.6M203.1 376.8v1.6M208.0 376.8v1.6M211.6 376.8v1.6M214.3 376.8v1.6M216.5 376.8v1.6M218.4 376.8v1.6M220.0 376.8v1.6M221.5 376.8v1.6M222.8 376.8v1.6M231.2 376.8v1.6M236.2 376.8v1.6M239.7 376.8v1.6M242.4 376.8v1.6M244.6 376.8v1.6M246.5 376.8v1.6M248.1 376.8v1.6M249.6 376.8v1.6M250.9 376.8v1.6M259.3 376.8v1.6M264.3 376.8v1.6M267.8 376.8v1.6M270.5 376.8v1.6M272.8 376.8v1.6M274.6 376.8v1.6M276.3 376.8v1.6M277.7 376.8v1.6M279.0 376.8v1.6M166.5 371.6h-1.6M166.5 366.4h-1.6M166.5 361.3h-1.6M166.5 356.1h-1.6M166.5 350.9h-1.6" stroke="#444" stroke-width="0.6" fill="none"/>
<text x="2.2" y="397.3" font-size="10.6" font-weight="bold" textLength="26.6" lengthAdjust="spacingAndGlyphs">CD33</text>
<path d="M162.9 381.2V409.8" fill="none" stroke="#bdbdbd" stroke-width="1.8"/>
<path d="M46.6 381.5H163.4" fill="none" stroke="#6e6e6e" stroke-width="1.0"/>
<path d="M48.6 399.6L49.3 398.4L49.9 398.4L50.6 397.5L51.2 397.7L51.9 397.5L52.6 396.3L53.2 397.2L53.9 395.6L54.5 396.3L55.2 395.6L55.8 395.4L56.4 393.7L57.1 393.9L57.7 393.0L58.3 393.2L58.9 392.0L59.5 391.6L60.2 392.0L60.8 390.9L61.4 390.1L62.1 390.3L62.7 389.0L63.4 389.0L64.0 388.3L64.7 386.9L65.3 386.4L66.0 385.9L66.7 386.5L67.3 385.9L68.0 385.3L68.6 385.2L69.3 385.5L69.9 384.7L70.6 385.4L71.2 384.4L71.8 385.2L72.5 385.9L73.1 385.1L73.7 386.5L74.5 386.6L75.2 388.9L76.0 389.0L76.8 391.6L77.5 393.4L78.3 396.5L78.9 396.9L79.5 398.6L80.2 400.1L80.8 400.5L81.4 402.8L82.1 402.9L82.7 404.3L83.4 403.8L84.0 404.4L84.7 406.4L85.3 406.3L86.0 406.7L86.6 406.8L87.3 407.0L87.9 407.8L88.5 407.0L89.2 408.3L89.8 408.5L90.4 408.0L91.1 408.5L91.7 408.7L92.4 408.7L93.0 408.8" fill="none" stroke="#000" stroke-width="1.3"/>
<clipPath id="k12"><path d="M48.6 408.8L48.6 406.2L50.0 406.2L50.0 406.2L51.0 406.2L51.0 406.1L52.0 406.1L52.0 406.7L53.4 406.7L53.4 406.4L54.6 406.4L54.6 406.2L56.0 406.2L56.0 406.3L57.0 406.3L57.0 405.4L58.2 405.4L58.2 406.6L59.2 406.6L59.2 406.5L60.2 406.5L60.2 406.5L61.2 406.5L61.2 405.8L62.2 405.8L62.2 405.7L63.0 405.7L63.0 405.3L64.0 405.3L64.0 404.0L65.4 404.0L65.4 404.6L66.6 404.6L66.6 405.2L68.0 405.2L68.0 403.1L69.2 403.1L69.2 402.7L70.6 402.7L70.6 402.7L71.6 402.7L71.6 401.6L72.8 401.6L72.8 398.1L73.8 398.1L73.8 395.2L74.6 395.2L74.6 398.3L75.4 398.3L75.4 392.5L76.6 392.5L76.6 390.2L78.0 390.2L78.0 391.9L79.2 391.9L79.2 387.7L80.6 387.7L80.6 392.3L81.4 392.3L81.4 392.4L82.2 392.4L82.2 389.9L83.4 389.9L83.4 390.9L84.6 390.9L84.6 393.0L86.0 393.0L86.0 388.0L87.2 388.0L87.2 387.2L88.4 387.2L88.4 385.8L89.4 385.8L89.4 389.6L90.2 389.6L90.2 387.1L91.2 387.1L91.2 384.3L92.2 384.3L92.2 388.6L93.2 388.6L93.2 388.5L94.6 388.5L94.6 382.4L95.4 382.4L95.4 384.4L96.2 384.4L96.2 389.1L97.4 389.1L97.4 388.5L98.2 388.5L98.2 390.2L99.2 390.2L99.2 389.8L100.2 389.8L100.2 392.9L101.6 392.9L101.6 394.8L102.6 394.8L102.6 386.6L104.0 386.6L104.0 395.7L105.0 395.7L105.0 391.0L106.2 391.0L106.2 397.3L107.0 397.3L107.0 398.2L108.0 398.2L108.0 392.7L109.0 392.7L109.0 397.8L109.8 397.8L109.8 399.9L110.6 399.9L110.6 397.0L111.6 397.0L111.6 399.9L112.8 399.9L112.8 400.1L113.8 400.1L113.8 400.5L114.6 400.5L114.6 400.3L115.4 400.3L115.4 402.4L116.4 402.4L116.4 402.8L117.4 402.8L117.4 404.2L118.4 404.2L118.4 405.7L119.6 405.7L119.6 405.4L120.8 405.4L120.8 405.6L121.8 405.6L121.8 406.8L122.8 406.8L122.8 407.1L124.0 407.1L124.0 407.4L124.8 407.4L124.8 407.3L126.2 407.3L126.2 407.8L127.0 407.8L127.0 407.9L128.2 407.9L128.2 407.9L129.0 407.9L129.0 407.9L130.0 407.9L130.0 408.2L131.0 408.2L131.0 408.1L132.4 408.1L132.4 408.2L133.4 408.2L133.4 408.3L134.8 408.3L134.8 408.3L135.8 408.3L135.8 408.3L137.2 408.3L137.2 408.5L138.2 408.5L138.2 408.6L139.6 408.6L139.6 408.6L140.6 408.6L140.6 408.7L141.6 408.7L141.6 408.7L143.0 408.7L143.0 408.8L144.0 408.8L144.0 408.8L145.0 408.8L145.0 408.8Z"/></clipPath>
<path d="M48.6 408.8L48.6 406.2L50.0 406.2L50.0 406.2L51.0 406.2L51.0 406.1L52.0 406.1L52.0 406.7L53.4 406.7L53.4 406.4L54.6 406.4L54.6 406.2L56.0 406.2L56.0 406.3L57.0 406.3L57.0 405.4L58.2 405.4L58.2 406.6L59.2 406.6L59.2 406.5L60.2 406.5L60.2 406.5L61.2 406.5L61.2 405.8L62.2 405.8L62.2 405.7L63.0 405.7L63.0 405.3L64.0 405.3L64.0 404.0L65.4 404.0L65.4 404.6L66.6 404.6L66.6 405.2L68.0 405.2L68.0 403.1L69.2 403.1L69.2 402.7L70.6 402.7L70.6 402.7L71.6 402.7L71.6 401.6L72.8 401.6L72.8 398.1L73.8 398.1L73.8 395.2L74.6 395.2L74.6 398.3L75.4 398.3L75.4 392.5L76.6 392.5L76.6 390.2L78.0 390.2L78.0 391.9L79.2 391.9L79.2 387.7L80.6 387.7L80.6 392.3L81.4 392.3L81.4 392.4L82.2 392.4L82.2 389.9L83.4 389.9L83.4 390.9L84.6 390.9L84.6 393.0L86.0 393.0L86.0 388.0L87.2 388.0L87.2 387.2L88.4 387.2L88.4 385.8L89.4 385.8L89.4 389.6L90.2 389.6L90.2 387.1L91.2 387.1L91.2 384.3L92.2 384.3L92.2 388.6L93.2 388.6L93.2 388.5L94.6 388.5L94.6 382.4L95.4 382.4L95.4 384.4L96.2 384.4L96.2 389.1L97.4 389.1L97.4 388.5L98.2 388.5L98.2 390.2L99.2 390.2L99.2 389.8L100.2 389.8L100.2 392.9L101.6 392.9L101.6 394.8L102.6 394.8L102.6 386.6L104.0 386.6L104.0 395.7L105.0 395.7L105.0 391.0L106.2 391.0L106.2 397.3L107.0 397.3L107.0 398.2L108.0 398.2L108.0 392.7L109.0 392.7L109.0 397.8L109.8 397.8L109.8 399.9L110.6 399.9L110.6 397.0L111.6 397.0L111.6 399.9L112.8 399.9L112.8 400.1L113.8 400.1L113.8 400.5L114.6 400.5L114.6 400.3L115.4 400.3L115.4 402.4L116.4 402.4L116.4 402.8L117.4 402.8L117.4 404.2L118.4 404.2L118.4 405.7L119.6 405.7L119.6 405.4L120.8 405.4L120.8 405.6L121.8 405.6L121.8 406.8L122.8 406.8L122.8 407.1L124.0 407.1L124.0 407.4L124.8 407.4L124.8 407.3L126.2 407.3L126.2 407.8L127.0 407.8L127.0 407.9L128.2 407.9L128.2 407.9L129.0 407.9L129.0 407.9L130.0 407.9L130.0 408.2L131.0 408.2L131.0 408.1L132.4 408.1L132.4 408.2L133.4 408.2L133.4 408.3L134.8 408.3L134.8 408.3L135.8 408.3L135.8 408.3L137.2 408.3L137.2 408.5L138.2 408.5L138.2 408.6L139.6 408.6L139.6 408.6L140.6 408.6L140.6 408.7L141.6 408.7L141.6 408.7L143.0 408.7L143.0 408.8L144.0 408.8L144.0 408.8L145.0 408.8L145.0 408.8Z" fill="#000"/>
<path d="M48.6 399.6L49.3 398.4L49.9 398.4L50.6 397.5L51.2 397.7L51.9 397.5L52.6 396.3L53.2 397.2L53.9 395.6L54.5 396.3L55.2 395.6L55.8 395.4L56.4 393.7L57.1 393.9L57.7 393.0L58.3 393.2L58.9 392.0L59.5 391.6L60.2 392.0L60.8 390.9L61.4 390.1L62.1 390.3L62.7 389.0L63.4 389.0L64.0 388.3L64.7 386.9L65.3 386.4L66.0 385.9L66.7 386.5L67.3 385.9L68.0 385.3L68.6 385.2L69.3 385.5L69.9 384.7L70.6 385.4L71.2 384.4L71.8 385.2L72.5 385.9L73.1 385.1L73.7 386.5L74.5 386.6L75.2 388.9L76.0 389.0L76.8 391.6L77.5 393.4L78.3 396.5L78.9 396.9L79.5 398.6L80.2 400.1L80.8 400.5L81.4 402.8L82.1 402.9L82.7 404.3L83.4 403.8L84.0 404.4L84.7 406.4L85.3 406.3L86.0 406.7L86.6 406.8L87.3 407.0L87.9 407.8L88.5 407.0L89.2 408.3L89.8 408.5L90.4 408.0L91.1 408.5L91.7 408.7L92.4 408.7L93.0 408.8" fill="none" stroke="#fff" stroke-width="1.1" clip-path="url(#k12)"/>
<path d="M48.6 381.8V408.8H162.3" fill="none" stroke="#000" stroke-width="1.4"/>
<path d="M48.6 408.8v1.6M57.1 408.8v1.6M62.0 408.8v1.6M65.5 408.8v1.6M68.2 408.8v1.6M70.4 408.8v1.6M72.3 408.8v1.6M74.0 408.8v1.6M75.4 408.8v1.6M76.7 408.8v1.6M85.1 408.8v1.6M90.1 408.8v1.6M93.6 408.8v1.6M96.3 408.8v1.6M98.5 408.8v1.6M100.4 408.8v1.6M102.0 408.8v1.6M103.5 408.8v1.6M104.8 408.8v1.6M113.2 408.8v1.6M118.1 408.8v1.6M121.7 408.8v1.6M124.4 408.8v1.6M126.6 408.8v1.6M128.5 408.8v1.6M130.1 408.8v1.6M131.5 408.8v1.6M132.8 408.8v1.6M141.3 408.8v1.6M146.2 408.8v1.6M149.7 408.8v1.6M152.4 408.8v1.6M154.7 408.8v1.6M156.6 408.8v1.6M158.2 408.8v1.6M159.6 408.8v1.6M160.9 408.8v1.6M48.6 403.8h-1.6M48.6 398.8h-1.6M48.6 393.7h-1.6M48.6 388.7h-1.6M48.6 383.7h-1.6" stroke="#444" stroke-width="0.6" fill="none"/>
<path d="M281.0 381.2V409.8" fill="none" stroke="#bdbdbd" stroke-width="1.8"/>
<path d="M164.5 381.5H281.5" fill="none" stroke="#6e6e6e" stroke-width="1.0"/>
<path d="M184.8 408.8L184.8 408.6L185.8 408.6L185.8 407.8L186.8 407.8L186.8 406.0L187.8 406.0L187.8 406.3L188.8 406.3L188.8 405.2L190.0 405.2L190.0 405.4L191.2 405.4L191.2 403.6L192.4 403.6L192.4 403.9L193.6 403.9L193.6 400.7L195.0 400.7L195.0 403.7L196.0 403.7L196.0 402.7L197.0 402.7L197.0 400.2L198.0 400.2L198.0 402.0L199.0 402.0L199.0 397.7L200.2 397.7L200.2 400.9L201.2 400.9L201.2 392.3L202.4 392.3L202.4 398.0L203.4 398.0L203.4 395.0L204.4 395.0L204.4 396.9L205.4 396.9L205.4 387.8L206.6 387.8L206.6 389.2L207.6 389.2L207.6 388.7L208.6 388.7L208.6 389.0L209.6 389.0L209.6 391.4L210.6 391.4L210.6 389.8L211.6 389.8L211.6 385.7L213.0 385.7L213.0 383.7L214.4 383.7L214.4 396.0L215.2 396.0L215.2 387.8L216.0 387.8L216.0 391.0L217.0 391.0L217.0 388.2L217.8 388.2L217.8 396.1L218.6 396.1L218.6 394.2L220.0 394.2L220.0 393.7L221.0 393.7L221.0 388.9L222.0 388.9L222.0 398.1L223.0 398.1L223.0 398.1L224.0 398.1L224.0 394.4L225.4 394.4L225.4 395.5L226.6 395.5L226.6 396.0L227.4 396.0L227.4 392.6L228.6 392.6L228.6 399.6L229.6 399.6L229.6 396.2L230.4 396.2L230.4 399.0L231.6 399.0L231.6 401.5L232.6 401.5L232.6 398.9L233.6 398.9L233.6 403.4L234.6 403.4L234.6 398.3L235.6 398.3L235.6 398.7L236.4 398.7L236.4 399.3L237.8 399.3L237.8 405.1L239.0 405.1L239.0 404.8L239.8 404.8L239.8 402.0L240.6 402.0L240.6 402.2L241.6 402.2L241.6 404.4L243.0 404.4L243.0 403.4L243.8 403.4L243.8 404.1L244.6 404.1L244.6 405.3L245.4 405.3L245.4 403.3L246.2 403.3L246.2 405.8L247.0 405.8L247.0 401.7L248.0 401.7L248.0 405.7L249.2 405.7L249.2 403.7L250.2 403.7L250.2 405.5L251.0 405.5L251.0 405.9L252.0 405.9L252.0 405.7L253.0 405.7L253.0 407.1L254.0 407.1L254.0 406.9L254.8 406.9L254.8 407.9L255.8 407.9L255.8 408.1L256.8 408.1L256.8 408.4L257.6 408.4L257.6 408.7L258.6 408.7L258.6 408.8L259.8 408.8L259.8 408.8L259.8 408.8L259.8 408.8Z" fill="#7f7f7f"/>
<path d="M166.5 397.5L167.1 398.0L167.7 397.4L168.3 396.6L169.0 396.5L169.6 396.5L170.2 396.2L170.8 394.9L171.4 393.7L172.0 393.3L172.6 394.2L173.2 393.1L173.9 392.7L174.5 392.7L175.1 391.5L175.8 391.4L176.4 390.4L177.0 390.8L177.6 389.4L178.3 389.1L178.9 389.3L179.5 389.4L180.2 388.5L180.8 388.5L181.5 387.1L182.1 386.5L182.8 386.2L183.5 385.2L184.1 386.4L184.8 385.2L185.5 385.0L186.2 386.3L186.9 386.3L187.6 387.3L188.2 387.2L188.9 387.8L189.6 389.5L190.3 390.2L191.0 392.0L191.7 392.8L192.4 394.8L193.1 395.1L193.8 397.4L194.5 399.5L195.2 400.7L195.9 400.8L196.6 401.8L197.3 403.2L197.9 405.0L198.6 404.7L199.3 405.7L200.0 407.4L200.7 407.5L201.4 407.5L202.1 408.4L202.9 408.8L203.6 408.8L204.4 408.6" fill="none" stroke="#000" stroke-width="1.25"/>
<path d="M166.5 381.8V408.8H280.4" fill="none" stroke="#000" stroke-width="1.4"/>
<path d="M166.5 408.8v1.6M175.0 408.8v1.6M179.9 408.8v1.6M183.4 408.8v1.6M186.2 408.8v1.6M188.4 408.8v1.6M190.3 408.8v1.6M191.9 408.8v1.6M193.3 408.8v1.6M194.6 408.8v1.6M203.1 408.8v1.6M208.0 408.8v1.6M211.6 408.8v1.6M214.3 408.8v1.6M216.5 408.8v1.6M218.4 408.8v1.6M220.0 408.8v1.6M221.5 408.8v1.6M222.8 408.8v1.6M231.2 408.8v1.6M236.2 408.8v1.6M239.7 408.8v1.6M242.4 408.8v1.6M244.6 408.8v1.6M246.5 408.8v1.6M248.1 408.8v1.6M249.6 408.8v1.6M250.9 408.8v1.6M259.3 408.8v1.6M264.3 408.8v1.6M267.8 408.8v1.6M270.5 408.8v1.6M272.8 408.8v1.6M274.6 408.8v1.6M276.3 408.8v1.6M277.7 408.8v1.6M279.0 408.8v1.6M166.5 403.8h-1.6M166.5 398.8h-1.6M166.5 393.7h-1.6M166.5 388.7h-1.6M166.5 383.7h-1.6" stroke="#444" stroke-width="0.6" fill="none"/>
<text x="2.2" y="430.4" font-size="10.6" font-weight="bold" textLength="26.6" lengthAdjust="spacingAndGlyphs">CD44</text>
<path d="M162.9 413.2V442.2" fill="none" stroke="#bdbdbd" stroke-width="1.8"/>
<path d="M46.6 413.5H163.4" fill="none" stroke="#6e6e6e" stroke-width="1.0"/>
<path d="M48.6 430.0L49.2 428.8L49.8 428.7L50.4 429.2L51.0 427.3L51.6 427.9L52.2 427.6L52.8 426.3L53.4 425.6L54.0 424.3L54.6 424.6L55.2 424.1L55.9 423.1L56.5 423.6L57.1 422.4L57.8 422.6L58.4 421.9L59.0 421.1L59.6 421.2L60.3 420.5L60.9 419.4L61.5 419.4L62.2 419.2L62.9 419.0L63.6 417.6L64.2 417.3L64.9 416.9L65.6 416.9L66.4 418.8L67.2 419.8L67.9 422.5L68.7 425.5L69.5 427.0L70.2 430.3L71.0 432.7L71.8 435.3L72.6 436.0L73.3 438.5L74.1 440.0L74.9 439.2L75.6 440.8L76.4 441.0L77.2 441.2" fill="none" stroke="#000" stroke-width="1.3"/>
<clipPath id="k13"><path d="M74.0 441.2L74.0 439.7L75.4 439.7L75.4 437.0L76.8 437.0L76.8 436.0L78.2 436.0L78.2 435.1L79.2 435.1L79.2 433.8L80.2 433.8L80.2 432.7L81.2 432.7L81.2 432.9L82.2 432.9L82.2 429.3L83.6 429.3L83.6 428.0L84.6 428.0L84.6 430.1L85.8 430.1L85.8 427.9L86.8 427.9L86.8 429.2L88.2 429.2L88.2 429.5L89.4 429.5L89.4 425.4L90.4 425.4L90.4 424.1L91.4 424.1L91.4 426.6L92.4 426.6L92.4 425.4L93.4 425.4L93.4 422.7L94.4 422.7L94.4 419.6L95.4 419.6L95.4 421.2L96.4 421.2L96.4 414.4L97.6 414.4L97.6 417.1L99.0 417.1L99.0 421.1L100.0 421.1L100.0 417.7L101.0 417.7L101.0 419.6L102.0 419.6L102.0 421.7L103.0 421.7L103.0 416.4L104.0 416.4L104.0 421.6L105.2 421.6L105.2 422.2L106.2 422.2L106.2 423.4L107.2 423.4L107.2 419.6L108.2 419.6L108.2 424.3L109.0 424.3L109.0 425.1L110.0 425.1L110.0 424.2L111.0 424.2L111.0 421.8L112.4 421.8L112.4 425.5L113.6 425.5L113.6 427.1L114.4 427.1L114.4 424.7L115.4 424.7L115.4 427.1L116.8 427.1L116.8 425.1L118.2 425.1L118.2 420.3L119.2 420.3L119.2 424.7L120.2 424.7L120.2 426.8L121.6 426.8L121.6 424.9L123.0 424.9L123.0 423.5L124.4 423.5L124.4 429.8L125.4 429.8L125.4 431.6L126.6 431.6L126.6 428.4L127.6 428.4L127.6 434.0L128.6 434.0L128.6 435.0L129.6 435.0L129.6 436.3L130.4 436.3L130.4 436.7L131.4 436.7L131.4 438.7L132.6 438.7L132.6 439.3L133.8 439.3L133.8 439.7L134.8 439.7L134.8 440.7L136.2 440.7L136.2 440.9L137.0 440.9L137.0 441.2L138.0 441.2L138.0 441.2Z"/></clipPath>
<path d="M74.0 441.2L74.0 439.7L75.4 439.7L75.4 437.0L76.8 437.0L76.8 436.0L78.2 436.0L78.2 435.1L79.2 435.1L79.2 433.8L80.2 433.8L80.2 432.7L81.2 432.7L81.2 432.9L82.2 432.9L82.2 429.3L83.6 429.3L83.6 428.0L84.6 428.0L84.6 430.1L85.8 430.1L85.8 427.9L86.8 427.9L86.8 429.2L88.2 429.2L88.2 429.5L89.4 429.5L89.4 425.4L90.4 425.4L90.4 424.1L91.4 424.1L91.4 426.6L92.4 426.6L92.4 425.4L93.4 425.4L93.4 422.7L94.4 422.7L94.4 419.6L95.4 419.6L95.4 421.2L96.4 421.2L96.4 414.4L97.6 414.4L97.6 417.1L99.0 417.1L99.0 421.1L100.0 421.1L100.0 417.7L101.0 417.7L101.0 419.6L102.0 419.6L102.0 421.7L103.0 421.7L103.0 416.4L104.0 416.4L104.0 421.6L105.2 421.6L105.2 422.2L106.2 422.2L106.2 423.4L107.2 423.4L107.2 419.6L108.2 419.6L108.2 424.3L109.0 424.3L109.0 425.1L110.0 425.1L110.0 424.2L111.0 424.2L111.0 421.8L112.4 421.8L112.4 425.5L113.6 425.5L113.6 427.1L114.4 427.1L114.4 424.7L115.4 424.7L115.4 427.1L116.8 427.1L116.8 425.1L118.2 425.1L118.2 420.3L119.2 420.3L119.2 424.7L120.2 424.7L120.2 426.8L121.6 426.8L121.6 424.9L123.0 424.9L123.0 423.5L124.4 423.5L124.4 429.8L125.4 429.8L125.4 431.6L126.6 431.6L126.6 428.4L127.6 428.4L127.6 434.0L128.6 434.0L128.6 435.0L129.6 435.0L129.6 436.3L130.4 436.3L130.4 436.7L131.4 436.7L131.4 438.7L132.6 438.7L132.6 439.3L133.8 439.3L133.8 439.7L134.8 439.7L134.8 440.7L136.2 440.7L136.2 440.9L137.0 440.9L137.0 441.2L138.0 441.2L138.0 441.2Z" fill="#000"/>
<path d="M48.6 430.0L49.2 428.8L49.8 428.7L50.4 429.2L51.0 427.3L51.6 427.9L52.2 427.6L52.8 426.3L53.4 425.6L54.0 424.3L54.6 424.6L55.2 424.1L55.9 423.1L56.5 423.6L57.1 422.4L57.8 422.6L58.4 421.9L59.0 421.1L59.6 421.2L60.3 420.5L60.9 419.4L61.5 419.4L62.2 419.2L62.9 419.0L63.6 417.6L64.2 417.3L64.9 416.9L65.6 416.9L66.4 418.8L67.2 419.8L67.9 422.5L68.7 425.5L69.5 427.0L70.2 430.3L71.0 432.7L71.8 435.3L72.6 436.0L73.3 438.5L74.1 440.0L74.9 439.2L75.6 440.8L76.4 441.0L77.2 441.2" fill="none" stroke="#fff" stroke-width="1.1" clip-path="url(#k13)"/>
<path d="M48.6 413.8V441.2H162.3" fill="none" stroke="#000" stroke-width="1.4"/>
<path d="M48.6 441.2v1.6M57.1 441.2v1.6M62.0 441.2v1.6M65.5 441.2v1.6M68.2 441.2v1.6M70.4 441.2v1.6M72.3 441.2v1.6M74.0 441.2v1.6M75.4 441.2v1.6M76.7 441.2v1.6M85.1 441.2v1.6M90.1 441.2v1.6M93.6 441.2v1.6M96.3 441.2v1.6M98.5 441.2v1.6M100.4 441.2v1.6M102.0 441.2v1.6M103.5 441.2v1.6M104.8 441.2v1.6M113.2 441.2v1.6M118.1 441.2v1.6M121.7 441.2v1.6M124.4 441.2v1.6M126.6 441.2v1.6M128.5 441.2v1.6M130.1 441.2v1.6M131.5 441.2v1.6M132.8 441.2v1.6M141.3 441.2v1.6M146.2 441.2v1.6M149.7 441.2v1.6M152.4 441.2v1.6M154.7 441.2v1.6M156.6 441.2v1.6M158.2 441.2v1.6M159.6 441.2v1.6M160.9 441.2v1.6M48.6 436.1h-1.6M48.6 431.0h-1.6M48.6 425.9h-1.6M48.6 420.8h-1.6M48.6 415.7h-1.6" stroke="#444" stroke-width="0.6" fill="none"/>
<path d="M281.0 413.2V442.2" fill="none" stroke="#bdbdbd" stroke-width="1.8"/>
<path d="M164.5 413.5H281.5" fill="none" stroke="#6e6e6e" stroke-width="1.0"/>
<path d="M175.5 441.2L175.5 440.7L176.5 440.7L176.5 438.7L177.7 438.7L177.7 438.8L178.5 438.8L178.5 439.2L179.5 439.2L179.5 438.9L180.7 438.9L180.7 438.0L182.1 438.0L182.1 438.8L183.1 438.8L183.1 438.4L184.1 438.4L184.1 439.0L185.5 439.0L185.5 436.9L186.9 436.9L186.9 436.6L188.3 436.6L188.3 437.7L189.3 437.7L189.3 436.1L190.7 436.1L190.7 436.2L191.7 436.2L191.7 435.6L192.7 435.6L192.7 435.3L193.7 435.3L193.7 434.2L194.7 434.2L194.7 429.8L195.5 429.8L195.5 430.4L196.9 430.4L196.9 429.9L197.9 429.9L197.9 427.8L198.9 427.8L198.9 424.1L199.7 424.1L199.7 422.8L200.9 422.8L200.9 426.0L202.1 426.0L202.1 427.2L203.1 427.2L203.1 421.4L204.5 421.4L204.5 432.4L205.3 432.4L205.3 418.6L206.1 418.6L206.1 424.0L207.1 424.0L207.1 420.8L207.9 420.8L207.9 420.4L209.1 420.4L209.1 421.5L210.5 421.5L210.5 429.2L211.5 429.2L211.5 421.3L212.9 421.3L212.9 421.1L213.9 421.1L213.9 422.7L215.1 422.7L215.1 426.9L216.1 426.9L216.1 418.9L217.1 418.9L217.1 416.6L218.1 416.6L218.1 428.5L218.9 428.5L218.9 427.4L219.9 427.4L219.9 416.6L221.1 416.6L221.1 430.1L222.1 430.1L222.1 424.6L223.3 424.6L223.3 418.1L224.5 418.1L224.5 427.3L225.7 427.3L225.7 422.5L227.1 422.5L227.1 424.4L228.1 424.4L228.1 429.4L228.9 429.4L228.9 429.3L229.7 429.3L229.7 430.2L231.1 430.2L231.1 430.6L231.9 430.6L231.9 427.8L232.9 427.8L232.9 432.2L233.9 432.2L233.9 427.5L234.7 427.5L234.7 427.7L235.9 427.7L235.9 424.5L237.1 424.5L237.1 422.6L238.3 422.6L238.3 427.5L239.3 427.5L239.3 434.6L240.5 434.6L240.5 435.0L241.9 435.0L241.9 434.3L243.3 434.3L243.3 437.1L244.7 437.1L244.7 435.3L245.7 435.3L245.7 435.3L247.1 435.3L247.1 438.0L248.1 438.0L248.1 437.7L249.5 437.7L249.5 439.9L250.3 439.9L250.3 439.9L251.3 439.9L251.3 439.6L252.7 439.6L252.7 440.0L253.5 440.0L253.5 440.1L254.3 440.1L254.3 440.8L255.3 440.8L255.3 440.8L256.5 440.8L256.5 441.1L257.7 441.1L257.7 441.2L258.7 441.2L258.7 441.2Z" fill="#7f7f7f"/>
<path d="M166.5 430.7L167.1 429.9L167.7 430.0L168.3 428.7L169.0 428.2L169.6 427.4L170.2 428.2L170.8 428.0L171.4 426.4L172.0 426.4L172.6 425.1L173.2 425.5L173.9 425.1L174.5 425.0L175.1 423.0L175.8 423.2L176.4 422.7L177.0 422.1L177.6 421.1L178.3 420.4L178.9 420.5L179.5 420.5L180.2 419.6L180.9 418.0L181.6 418.0L182.2 416.8L182.9 416.3L183.6 416.1L184.3 415.9L185.0 416.8L185.6 417.1L186.3 417.6L186.9 420.0L187.6 420.8L188.2 421.2L188.9 422.5L189.6 425.7L190.3 426.4L191.0 428.1L191.7 429.4L192.4 431.5L193.1 433.5L193.8 434.7L194.5 435.3L195.2 436.4L195.9 438.2L196.6 438.4L197.3 439.1L197.9 439.7L198.6 440.6L199.4 440.9L200.2 441.2L201.0 441.2" fill="none" stroke="#000" stroke-width="1.25"/>
<path d="M166.5 413.8V441.2H280.4" fill="none" stroke="#000" stroke-width="1.4"/>
<path d="M166.5 441.2v1.6M175.0 441.2v1.6M179.9 441.2v1.6M183.4 441.2v1.6M186.2 441.2v1.6M188.4 441.2v1.6M190.3 441.2v1.6M191.9 441.2v1.6M193.3 441.2v1.6M194.6 441.2v1.6M203.1 441.2v1.6M208.0 441.2v1.6M211.6 441.2v1.6M214.3 441.2v1.6M216.5 441.2v1.6M218.4 441.2v1.6M220.0 441.2v1.6M221.5 441.2v1.6M222.8 441.2v1.6M231.2 441.2v1.6M236.2 441.2v1.6M239.7 441.2v1.6M242.4 441.2v1.6M244.6 441.2v1.6M246.5 441.2v1.6M248.1 441.2v1.6M249.6 441.2v1.6M250.9 441.2v1.6M259.3 441.2v1.6M264.3 441.2v1.6M267.8 441.2v1.6M270.5 441.2v1.6M272.8 441.2v1.6M274.6 441.2v1.6M276.3 441.2v1.6M277.7 441.2v1.6M279.0 441.2v1.6M166.5 436.1h-1.6M166.5 431.0h-1.6M166.5 425.9h-1.6M166.5 420.8h-1.6M166.5 415.7h-1.6" stroke="#444" stroke-width="0.6" fill="none"/>
<text x="2.2" y="462.4" font-size="10.6" font-weight="bold" textLength="26.6" lengthAdjust="spacingAndGlyphs">CD38</text>
<path d="M162.9 445.5V474.1" fill="none" stroke="#bdbdbd" stroke-width="1.8"/>
<path d="M46.6 445.5H163.4" fill="none" stroke="#6e6e6e" stroke-width="1.0"/>
<path d="M48.6 470.0L49.2 469.9L49.9 469.0L50.5 469.7L51.1 468.6L51.8 469.4L52.4 468.4L53.1 469.1L53.7 469.0L54.3 468.6L54.9 468.9L55.5 468.0L56.1 467.8L56.8 468.1L57.4 466.4L58.0 466.8L58.6 467.1L59.2 465.1L59.8 465.9L60.5 465.3L61.2 465.1L61.8 464.3L62.5 462.6L63.2 462.1L63.8 461.6L64.5 461.3L65.2 460.6L65.8 458.8L66.5 459.1L67.1 457.5L67.8 457.0L68.4 457.6L69.1 455.7L69.7 456.3L70.4 454.3L71.0 453.4L71.6 452.8L72.3 452.3L72.9 451.2L73.7 451.2L74.4 449.7L75.2 449.8L76.0 449.6L76.7 450.5L77.5 450.6L78.3 452.3L79.0 453.8L79.8 456.1L80.4 457.3L81.0 458.1L81.7 459.5L82.3 461.2L82.9 462.8L83.5 463.0L84.1 465.0L84.8 466.5L85.4 467.1L86.0 467.5L86.6 467.9L87.3 469.1L87.9 469.8L88.5 470.0L89.2 470.8L89.8 471.8L90.6 472.3L91.4 472.2L92.2 472.6L92.9 472.9L93.6 472.8L94.3 472.8L95.0 473.1" fill="none" stroke="#000" stroke-width="1.3"/>
<clipPath id="k14"><path d="M57.5 473.1L57.5 473.0L58.5 473.0L58.5 472.9L59.3 472.9L59.3 472.8L60.3 472.8L60.3 472.4L61.3 472.4L61.3 472.5L62.1 472.5L62.1 472.3L63.1 472.3L63.1 472.1L64.5 472.1L64.5 472.0L65.3 472.0L65.3 471.7L66.5 471.7L66.5 471.6L67.5 471.6L67.5 471.1L68.7 471.1L68.7 470.8L69.9 470.8L69.9 470.2L70.7 470.2L70.7 470.2L71.7 470.2L71.7 469.3L72.9 469.3L72.9 467.8L73.9 467.8L73.9 467.6L75.1 467.6L75.1 467.0L76.1 467.0L76.1 465.2L76.9 465.2L76.9 466.2L77.9 466.2L77.9 463.3L78.7 463.3L78.7 464.1L79.9 464.1L79.9 463.7L80.7 463.7L80.7 460.9L81.9 460.9L81.9 463.1L83.3 463.1L83.3 462.9L84.1 462.9L84.1 459.6L84.9 459.6L84.9 461.8L86.1 461.8L86.1 461.7L87.1 461.7L87.1 458.5L87.9 458.5L87.9 457.4L88.9 457.4L88.9 458.0L89.7 458.0L89.7 456.6L90.7 456.6L90.7 457.9L91.7 457.9L91.7 456.8L93.1 456.8L93.1 454.2L94.5 454.2L94.5 446.7L95.9 446.7L95.9 451.3L97.1 451.3L97.1 450.0L98.1 450.0L98.1 451.2L99.1 451.2L99.1 452.3L100.5 452.3L100.5 454.5L101.5 454.5L101.5 457.0L102.5 457.0L102.5 458.6L103.5 458.6L103.5 462.5L104.5 462.5L104.5 464.6L105.3 464.6L105.3 465.8L106.3 465.8L106.3 467.7L107.3 467.7L107.3 467.4L108.1 467.4L108.1 468.6L109.1 468.6L109.1 468.6L110.3 468.6L110.3 470.1L111.5 470.1L111.5 470.7L112.5 470.7L112.5 471.0L113.5 471.0L113.5 471.6L114.9 471.6L114.9 471.9L115.9 471.9L115.9 472.1L117.3 472.1L117.3 472.5L118.3 472.5L118.3 472.4L119.7 472.4L119.7 472.7L120.7 472.7L120.7 472.9L121.7 472.9L121.7 473.0L122.7 473.0L122.7 473.0L123.7 473.0L123.7 473.1L124.0 473.1L124.0 473.1Z"/></clipPath>
<path d="M57.5 473.1L57.5 473.0L58.5 473.0L58.5 472.9L59.3 472.9L59.3 472.8L60.3 472.8L60.3 472.4L61.3 472.4L61.3 472.5L62.1 472.5L62.1 472.3L63.1 472.3L63.1 472.1L64.5 472.1L64.5 472.0L65.3 472.0L65.3 471.7L66.5 471.7L66.5 471.6L67.5 471.6L67.5 471.1L68.7 471.1L68.7 470.8L69.9 470.8L69.9 470.2L70.7 470.2L70.7 470.2L71.7 470.2L71.7 469.3L72.9 469.3L72.9 467.8L73.9 467.8L73.9 467.6L75.1 467.6L75.1 467.0L76.1 467.0L76.1 465.2L76.9 465.2L76.9 466.2L77.9 466.2L77.9 463.3L78.7 463.3L78.7 464.1L79.9 464.1L79.9 463.7L80.7 463.7L80.7 460.9L81.9 460.9L81.9 463.1L83.3 463.1L83.3 462.9L84.1 462.9L84.1 459.6L84.9 459.6L84.9 461.8L86.1 461.8L86.1 461.7L87.1 461.7L87.1 458.5L87.9 458.5L87.9 457.4L88.9 457.4L88.9 458.0L89.7 458.0L89.7 456.6L90.7 456.6L90.7 457.9L91.7 457.9L91.7 456.8L93.1 456.8L93.1 454.2L94.5 454.2L94.5 446.7L95.9 446.7L95.9 451.3L97.1 451.3L97.1 450.0L98.1 450.0L98.1 451.2L99.1 451.2L99.1 452.3L100.5 452.3L100.5 454.5L101.5 454.5L101.5 457.0L102.5 457.0L102.5 458.6L103.5 458.6L103.5 462.5L104.5 462.5L104.5 464.6L105.3 464.6L105.3 465.8L106.3 465.8L106.3 467.7L107.3 467.7L107.3 467.4L108.1 467.4L108.1 468.6L109.1 468.6L109.1 468.6L110.3 468.6L110.3 470.1L111.5 470.1L111.5 470.7L112.5 470.7L112.5 471.0L113.5 471.0L113.5 471.6L114.9 471.6L114.9 471.9L115.9 471.9L115.9 472.1L117.3 472.1L117.3 472.5L118.3 472.5L118.3 472.4L119.7 472.4L119.7 472.7L120.7 472.7L120.7 472.9L121.7 472.9L121.7 473.0L122.7 473.0L122.7 473.0L123.7 473.0L123.7 473.1L124.0 473.1L124.0 473.1Z" fill="#000"/>
<path d="M48.6 470.0L49.2 469.9L49.9 469.0L50.5 469.7L51.1 468.6L51.8 469.4L52.4 468.4L53.1 469.1L53.7 469.0L54.3 468.6L54.9 468.9L55.5 468.0L56.1 467.8L56.8 468.1L57.4 466.4L58.0 466.8L58.6 467.1L59.2 465.1L59.8 465.9L60.5 465.3L61.2 465.1L61.8 464.3L62.5 462.6L63.2 462.1L63.8 461.6L64.5 461.3L65.2 460.6L65.8 458.8L66.5 459.1L67.1 457.5L67.8 457.0L68.4 457.6L69.1 455.7L69.7 456.3L70.4 454.3L71.0 453.4L71.6 452.8L72.3 452.3L72.9 451.2L73.7 451.2L74.4 449.7L75.2 449.8L76.0 449.6L76.7 450.5L77.5 450.6L78.3 452.3L79.0 453.8L79.8 456.1L80.4 457.3L81.0 458.1L81.7 459.5L82.3 461.2L82.9 462.8L83.5 463.0L84.1 465.0L84.8 466.5L85.4 467.1L86.0 467.5L86.6 467.9L87.3 469.1L87.9 469.8L88.5 470.0L89.2 470.8L89.8 471.8L90.6 472.3L91.4 472.2L92.2 472.6L92.9 472.9L93.6 472.8L94.3 472.8L95.0 473.1" fill="none" stroke="#fff" stroke-width="1.1" clip-path="url(#k14)"/>
<path d="M48.6 446.1V473.1H162.3" fill="none" stroke="#000" stroke-width="1.4"/>
<path d="M48.6 473.1v1.6M57.1 473.1v1.6M62.0 473.1v1.6M65.5 473.1v1.6M68.2 473.1v1.6M70.4 473.1v1.6M72.3 473.1v1.6M74.0 473.1v1.6M75.4 473.1v1.6M76.7 473.1v1.6M85.1 473.1v1.6M90.1 473.1v1.6M93.6 473.1v1.6M96.3 473.1v1.6M98.5 473.1v1.6M100.4 473.1v1.6M102.0 473.1v1.6M103.5 473.1v1.6M104.8 473.1v1.6M113.2 473.1v1.6M118.1 473.1v1.6M121.7 473.1v1.6M124.4 473.1v1.6M126.6 473.1v1.6M128.5 473.1v1.6M130.1 473.1v1.6M131.5 473.1v1.6M132.8 473.1v1.6M141.3 473.1v1.6M146.2 473.1v1.6M149.7 473.1v1.6M152.4 473.1v1.6M154.7 473.1v1.6M156.6 473.1v1.6M158.2 473.1v1.6M159.6 473.1v1.6M160.9 473.1v1.6M48.6 468.1h-1.6M48.6 463.1h-1.6M48.6 458.0h-1.6M48.6 453.0h-1.6M48.6 448.0h-1.6" stroke="#444" stroke-width="0.6" fill="none"/>
<path d="M281.0 445.5V474.1" fill="none" stroke="#bdbdbd" stroke-width="1.8"/>
<path d="M164.5 445.5H281.5" fill="none" stroke="#6e6e6e" stroke-width="1.0"/>
<path d="M187.1 473.1L187.1 472.7L188.1 472.7L188.1 471.3L189.1 471.3L189.1 471.7L190.3 471.7L190.3 471.4L191.3 471.4L191.3 468.8L192.5 468.8L192.5 469.1L193.3 469.1L193.3 469.6L194.7 469.6L194.7 468.2L195.7 468.2L195.7 466.9L196.7 466.9L196.7 466.2L197.9 466.2L197.9 463.0L199.3 463.0L199.3 465.9L200.5 465.9L200.5 458.3L201.3 458.3L201.3 463.6L202.5 463.6L202.5 460.0L203.7 460.0L203.7 463.6L205.1 463.6L205.1 462.3L206.3 462.3L206.3 460.6L207.1 460.6L207.1 461.5L207.9 461.5L207.9 460.8L208.7 460.8L208.7 463.5L210.1 463.5L210.1 455.7L211.5 455.7L211.5 448.2L212.5 448.2L212.5 450.6L213.9 450.6L213.9 458.7L215.1 458.7L215.1 460.1L216.5 460.1L216.5 457.6L217.9 457.6L217.9 453.0L219.3 453.0L219.3 457.6L220.5 457.6L220.5 455.4L221.3 455.4L221.3 458.7L222.7 458.7L222.7 458.0L223.9 458.0L223.9 459.2L224.7 459.2L224.7 458.8L225.5 458.8L225.5 467.3L226.3 467.3L226.3 468.1L227.3 468.1L227.3 466.7L228.5 466.7L228.5 468.5L229.9 468.5L229.9 469.7L231.3 469.7L231.3 471.5L232.1 471.5L232.1 472.2L233.3 472.2L233.3 472.0L234.5 472.0L234.5 472.9L235.5 472.9L235.5 473.0L236.5 473.0L236.5 473.0L237.3 473.0L237.3 473.1L237.9 473.1L237.9 473.1Z" fill="#7f7f7f"/>
<path d="M166.5 469.1L167.1 469.6L167.7 469.8L168.3 469.0L169.0 467.8L169.6 468.1L170.2 468.6L170.8 466.9L171.4 466.6L172.0 466.8L172.6 466.0L173.2 466.0L173.9 465.1L174.5 465.9L175.1 464.2L175.8 465.0L176.4 464.4L177.0 463.0L177.6 463.9L178.3 462.1L178.9 462.7L179.5 461.2L180.2 461.9L180.8 460.9L181.4 460.1L182.1 459.0L182.7 458.0L183.4 457.3L184.0 458.0L184.7 457.3L185.3 455.8L185.9 455.8L186.6 455.5L187.3 453.9L187.9 453.5L188.6 452.3L189.2 452.1L189.9 452.4L190.6 451.5L191.3 452.0L191.9 452.7L192.6 452.4L193.3 454.2L194.0 453.8L194.7 456.0L195.4 457.3L196.1 459.3L196.8 460.3L197.5 461.0L198.2 462.0L198.9 463.6L199.6 464.6L200.3 466.1L201.0 467.3L201.6 468.7L202.3 469.0L203.0 470.0L203.7 470.5L204.4 469.9L205.1 471.9L205.8 470.9L206.5 472.1L207.2 472.8L207.9 472.5L208.6 473.0L209.4 472.8L210.2 473.0" fill="none" stroke="#000" stroke-width="1.25"/>
<path d="M166.5 446.1V473.1H280.4" fill="none" stroke="#000" stroke-width="1.4"/>
<path d="M166.5 473.1v1.6M175.0 473.1v1.6M179.9 473.1v1.6M183.4 473.1v1.6M186.2 473.1v1.6M188.4 473.1v1.6M190.3 473.1v1.6M191.9 473.1v1.6M193.3 473.1v1.6M194.6 473.1v1.6M203.1 473.1v1.6M208.0 473.1v1.6M211.6 473.1v1.6M214.3 473.1v1.6M216.5 473.1v1.6M218.4 473.1v1.6M220.0 473.1v1.6M221.5 473.1v1.6M222.8 473.1v1.6M231.2 473.1v1.6M236.2 473.1v1.6M239.7 473.1v1.6M242.4 473.1v1.6M244.6 473.1v1.6M246.5 473.1v1.6M248.1 473.1v1.6M249.6 473.1v1.6M250.9 473.1v1.6M259.3 473.1v1.6M264.3 473.1v1.6M267.8 473.1v1.6M270.5 473.1v1.6M272.8 473.1v1.6M274.6 473.1v1.6M276.3 473.1v1.6M277.7 473.1v1.6M279.0 473.1v1.6M166.5 468.1h-1.6M166.5 463.1h-1.6M166.5 458.0h-1.6M166.5 453.0h-1.6M166.5 448.0h-1.6" stroke="#444" stroke-width="0.6" fill="none"/>
<text x="43.4" y="483.8" font-size="6.1" fill="#555">10</text><text x="49.6" y="480.2" font-size="4.6" fill="#555">0</text>
<text x="71.7" y="483.8" font-size="6.1" fill="#555">10</text><text x="77.9" y="480.2" font-size="4.6" fill="#555">1</text>
<text x="100.0" y="483.8" font-size="6.1" fill="#555">10</text><text x="106.2" y="480.2" font-size="4.6" fill="#555">2</text>
<text x="128.3" y="483.8" font-size="6.1" fill="#555">10</text><text x="134.5" y="480.2" font-size="4.6" fill="#555">3</text>
<text x="156.0" y="483.8" font-size="6.1" fill="#555">10</text><text x="162.2" y="480.2" font-size="4.6" fill="#555">4</text>
<text x="166.1" y="483.8" font-size="6.1" fill="#555">10</text><text x="172.3" y="480.2" font-size="4.6" fill="#555">0</text>
<text x="189.9" y="483.8" font-size="6.1" fill="#555">10</text><text x="196.1" y="480.2" font-size="4.6" fill="#555">1</text>
<text x="218.7" y="483.8" font-size="6.1" fill="#555">10</text><text x="224.9" y="480.2" font-size="4.6" fill="#555">2</text>
<text x="246.9" y="483.8" font-size="6.1" fill="#555">10</text><text x="253.1" y="480.2" font-size="4.6" fill="#555">3</text>
<text x="275.6" y="483.8" font-size="6.1" fill="#555">10</text><text x="281.8" y="480.2" font-size="4.6" fill="#555">4</text>
<text x="295" y="19.7" font-size="13.5" font-weight="bold">B</text>
<path d="M334.6 54.8V25.6H514.1V54.2" fill="none" stroke="#333" stroke-width="1.3"/>
<path d="M334.6 57.6V180.3H514.1V58.0" fill="none" stroke="#333" stroke-width="1.3"/>
<path d="M331.5 56.3L337.2 54.2M331.5 58.8L337.2 56.7M510.9 56.3L516.7 53.2M510.9 59.4L516.7 56.3" stroke="#111" stroke-width="1"/>
<path d="M331.6 27.4H334.6" stroke="#111" stroke-width="1.1"/>
<text x="331" y="31.7" font-size="12" font-weight="bold" text-anchor="end">20</text>
<path d="M331.6 45.4H334.6" stroke="#111" stroke-width="1.1"/>
<text x="331" y="49.7" font-size="12" font-weight="bold" text-anchor="end">15</text>
<path d="M331.6 180.3H334.6" stroke="#111" stroke-width="1.1"/>
<text x="331" y="184.6" font-size="12" font-weight="bold" text-anchor="end">0</text>
<path d="M331.6 153.2H334.6" stroke="#111" stroke-width="1.1"/>
<text x="331" y="157.5" font-size="12" font-weight="bold" text-anchor="end">1</text>
<path d="M331.6 126.1H334.6" stroke="#111" stroke-width="1.1"/>
<text x="331" y="130.4" font-size="12" font-weight="bold" text-anchor="end">2</text>
<path d="M331.6 99.0H334.6" stroke="#111" stroke-width="1.1"/>
<text x="331" y="103.3" font-size="12" font-weight="bold" text-anchor="end">3</text>
<path d="M331.6 71.9H334.6" stroke="#111" stroke-width="1.1"/>
<text x="331" y="76.2" font-size="12" font-weight="bold" text-anchor="end">4</text>
<text transform="translate(306.2 104.5) rotate(-90)" font-size="9.9" text-anchor="middle" textLength="107" lengthAdjust="spacingAndGlyphs" stroke="#000" stroke-width="0.15">Relative mRNA expression</text>
<path d="M342.5 37.6V30.5" stroke="#555" stroke-width="0.9"/><path d="M340.0 30.5h5" stroke="#555" stroke-width="0.9"/>
<rect x="336.2" y="37.6" width="12.6" height="17.0" fill="#888" stroke="#5a5a5a" stroke-width="0.9"/>
<rect x="336.2" y="57.8" width="12.6" height="122.5" fill="#888" stroke="#5a5a5a" stroke-width="0.9"/>
<text transform="translate(346.5 188.1) rotate(-90)" font-size="10.5" text-anchor="end" textLength="33.5" lengthAdjust="spacingAndGlyphs" stroke="#000" stroke-width="0.2">GATA2</text>
<path d="M358.8 142.0V132.3" stroke="#555" stroke-width="0.9"/><path d="M356.2 132.3h5" stroke="#555" stroke-width="0.9"/>
<rect x="352.4" y="142.0" width="12.6" height="38.3" fill="#888" stroke="#5a5a5a" stroke-width="0.9"/>
<text transform="translate(362.8 188.1) rotate(-90)" font-size="10.5" text-anchor="end" textLength="33.5" lengthAdjust="spacingAndGlyphs" stroke="#000" stroke-width="0.2">GATA3</text>
<path d="M375.0 150.0V144.8" stroke="#555" stroke-width="0.9"/><path d="M372.5 144.8h5" stroke="#555" stroke-width="0.9"/>
<rect x="368.7" y="150.0" width="12.6" height="30.3" fill="#888" stroke="#5a5a5a" stroke-width="0.9"/>
<text transform="translate(379.0 188.1) rotate(-90)" font-size="10.5" text-anchor="end" textLength="17.8" lengthAdjust="spacingAndGlyphs" stroke="#000" stroke-width="0.2">ID2</text>
<path d="M391.2 95.9V83.1" stroke="#555" stroke-width="0.9"/><path d="M388.8 83.1h5" stroke="#555" stroke-width="0.9"/>
<rect x="384.9" y="95.9" width="12.6" height="84.4" fill="#888" stroke="#5a5a5a" stroke-width="0.9"/>
<text transform="translate(395.2 188.1) rotate(-90)" font-size="10.5" text-anchor="end" textLength="17.8" lengthAdjust="spacingAndGlyphs" stroke="#000" stroke-width="0.2">ID3</text>
<path d="M407.5 51.8V45.0" stroke="#555" stroke-width="0.9"/><path d="M405.0 45.0h5" stroke="#555" stroke-width="0.9"/>
<rect x="401.2" y="51.8" width="12.6" height="2.8" fill="#888" stroke="#5a5a5a" stroke-width="0.9"/>
<rect x="401.2" y="57.8" width="12.6" height="122.5" fill="#888" stroke="#5a5a5a" stroke-width="0.9"/>
<text transform="translate(411.5 188.1) rotate(-90)" font-size="10.5" text-anchor="end" textLength="27.8" lengthAdjust="spacingAndGlyphs" stroke="#000" stroke-width="0.2">NFIL3</text>
<path d="M423.8 153.4V148.2" stroke="#555" stroke-width="0.9"/><path d="M421.2 148.2h5" stroke="#555" stroke-width="0.9"/>
<rect x="417.4" y="153.4" width="12.6" height="26.9" fill="#888" stroke="#5a5a5a" stroke-width="0.9"/>
<text transform="translate(427.8 188.1) rotate(-90)" font-size="10.5" text-anchor="end" textLength="33.6" lengthAdjust="spacingAndGlyphs" stroke="#000" stroke-width="0.2">RUNX1</text>
<path d="M440.0 160.4V159.2" stroke="#555" stroke-width="0.9"/><path d="M437.5 159.2h5" stroke="#555" stroke-width="0.9"/>
<rect x="433.7" y="160.4" width="12.6" height="19.9" fill="#888" stroke="#5a5a5a" stroke-width="0.9"/>
<text transform="translate(444.0 188.1) rotate(-90)" font-size="10.5" text-anchor="end" textLength="24.3" lengthAdjust="spacingAndGlyphs" stroke="#000" stroke-width="0.2">HES1</text>
<path d="M456.2 141.2V132.2" stroke="#555" stroke-width="0.9"/><path d="M453.8 132.2h5" stroke="#555" stroke-width="0.9"/>
<rect x="449.9" y="141.2" width="12.6" height="39.1" fill="#888" stroke="#5a5a5a" stroke-width="0.9"/>
<text transform="translate(460.2 188.1) rotate(-90)" font-size="10.5" text-anchor="end" textLength="23.9" lengthAdjust="spacingAndGlyphs" stroke="#000" stroke-width="0.2">ETS1</text>
<path d="M472.5 101.9V80.3" stroke="#555" stroke-width="0.9"/><path d="M470.0 80.3h5" stroke="#555" stroke-width="0.9"/>
<rect x="466.2" y="101.9" width="12.6" height="78.4" fill="#888" stroke="#5a5a5a" stroke-width="0.9"/>
<text transform="translate(476.5 188.1) rotate(-90)" font-size="10.5" text-anchor="end" textLength="19.1" lengthAdjust="spacingAndGlyphs" stroke="#000" stroke-width="0.2">PU1</text>
<path d="M488.8 93.9V66.5" stroke="#555" stroke-width="0.9"/><path d="M486.2 66.5h5" stroke="#555" stroke-width="0.9"/>
<rect x="482.4" y="93.9" width="12.6" height="86.4" fill="#888" stroke="#5a5a5a" stroke-width="0.9"/>
<text transform="translate(492.8 188.1) rotate(-90)" font-size="10.5" text-anchor="end" textLength="22.0" lengthAdjust="spacingAndGlyphs" stroke="#000" stroke-width="0.2">SPIB</text>
<path d="M505.0 161.0V159.8" stroke="#555" stroke-width="0.9"/><path d="M502.5 159.8h5" stroke="#555" stroke-width="0.9"/>
<rect x="498.7" y="161.0" width="12.6" height="19.3" fill="#888" stroke="#5a5a5a" stroke-width="0.9"/>
<text transform="translate(509.0 188.1) rotate(-90)" font-size="10.5" text-anchor="end" textLength="37.8" lengthAdjust="spacingAndGlyphs" stroke="#000" stroke-width="0.2">BCL11B</text>
<path d="M334.6 152.9H514.2" stroke="#333" stroke-width="0.9"/>
<path d="M334.6 180.3H514.2" stroke="#222" stroke-width="1.3"/>
<text x="294.3" y="247" font-size="13.5" font-weight="bold">C</text>
<path d="M368.6 443.6V247.5H489.6V443.6H368.6" fill="none" stroke="#858585" stroke-width="1.3"/>
<path d="M366.2 443.6H368.6" stroke="#858585" stroke-width="1"/>
<text x="362.5" y="446.9" font-size="9.5" text-anchor="end" fill="#222" stroke="#222" stroke-width="0.2">0</text>
<path d="M366.2 415.5H368.6" stroke="#858585" stroke-width="1"/>
<text x="362.5" y="418.8" font-size="9.5" text-anchor="end" fill="#222" stroke="#222" stroke-width="0.2">10</text>
<path d="M366.2 387.5H368.6" stroke="#858585" stroke-width="1"/>
<text x="362.5" y="390.8" font-size="9.5" text-anchor="end" fill="#222" stroke="#222" stroke-width="0.2">20</text>
<path d="M366.2 359.4H368.6" stroke="#858585" stroke-width="1"/>
<text x="362.5" y="362.7" font-size="9.5" text-anchor="end" fill="#222" stroke="#222" stroke-width="0.2">30</text>
<path d="M366.2 331.4H368.6" stroke="#858585" stroke-width="1"/>
<text x="362.5" y="334.7" font-size="9.5" text-anchor="end" fill="#222" stroke="#222" stroke-width="0.2">40</text>
<path d="M366.2 303.3H368.6" stroke="#858585" stroke-width="1"/>
<text x="362.5" y="306.6" font-size="9.5" text-anchor="end" fill="#222" stroke="#222" stroke-width="0.2">50</text>
<path d="M366.2 275.2H368.6" stroke="#858585" stroke-width="1"/>
<text x="362.5" y="278.5" font-size="9.5" text-anchor="end" fill="#222" stroke="#222" stroke-width="0.2">60</text>
<path d="M366.2 247.2H368.6" stroke="#858585" stroke-width="1"/>
<text x="362.5" y="250.5" font-size="9.5" text-anchor="end" fill="#222" stroke="#222" stroke-width="0.2">70</text>
<text transform="translate(334.9 345.6) rotate(-90)" font-size="9.9" text-anchor="middle" textLength="148.5" lengthAdjust="spacingAndGlyphs" fill="#111" stroke="#111" stroke-width="0.2">Percentage of BMPRIA-positive cells</text>
<path d="M378.1 330.4H407.7M451.2 407.6H479.8" stroke="#111" stroke-width="1.3"/>
<path d="M393.1 257.2L397.4 263.7L388.8 263.7Z" fill="none" stroke="#111" stroke-width="1.25"/>
<rect x="389.5" y="294.6" width="7.2" height="7.2" fill="none" stroke="#111" stroke-width="1.25"/>
<path d="M393.1 330.1L397.6 334.6L393.1 339.1L388.6 334.6Z" fill="none" stroke="#111" stroke-width="1.25"/>
<path d="M391.1 332.8L395.1 332.8L393.1 336.6Z" fill="none" stroke="#111" stroke-width="1.25"/>
<path d="M393.1 358.0L397.4 351.5L388.8 351.5Z" fill="none" stroke="#111" stroke-width="1.25"/>
<circle cx="393.1" cy="363.0" r="3.9" fill="none" stroke="#111" stroke-width="1.25"/>
<path d="M389.7 364.0L396.5 370.8M389.7 370.8L396.5 364.0" fill="none" stroke="#111" stroke-width="1.25"/>
<path d="M465.5 363.8L469.7 368.0L465.5 372.2L461.3 368.0Z" fill="none" stroke="#111" stroke-width="1.25"/>
<path d="M465.5 370.0L469.3 375.7L461.7 375.7Z" fill="none" stroke="#111" stroke-width="1.25"/>
<circle cx="465.5" cy="391.5" r="3.9" fill="none" stroke="#111" stroke-width="1.25"/>
<path d="M465.5 428.0L469.4 422.2L461.6 422.2Z" fill="none" stroke="#111" stroke-width="1.25"/>
<path d="M462.1 425.1L468.9 431.9M462.1 431.9L468.9 425.1" fill="none" stroke="#111" stroke-width="1.25"/>
<rect x="462.0" y="430.5" width="7.0" height="7.0" fill="none" stroke="#111" stroke-width="1.25"/>
<path d="M444.6 404.9V409.9M442.4 406.1L446.8 408.7M442.4 408.7L446.8 406.1" stroke="#000" stroke-width="1.8"/>
<text x="368.0" y="457.1" font-size="10.2" textLength="22.4" lengthAdjust="spacingAndGlyphs" fill="#111" stroke="#111" stroke-width="0.30">CD44</text>
<text x="390.3" y="453.8" font-size="7.2" textLength="5.7" lengthAdjust="spacingAndGlyphs" fill="#111" stroke="#111" stroke-width="0.30">hi</text>
<text x="396.0" y="457.1" font-size="10.2" textLength="17.3" lengthAdjust="spacingAndGlyphs" fill="#111" stroke="#111" stroke-width="0.30">CD5</text>
<text x="413.2" y="453.8" font-size="7.2" textLength="10.8" lengthAdjust="spacingAndGlyphs" fill="#111" stroke="#111" stroke-width="0.30">lo/-</text>
<text x="440.2" y="457.1" font-size="10.2" textLength="23.3" lengthAdjust="spacingAndGlyphs" fill="#111" stroke="#111" stroke-width="0.30">CD44</text>
<text x="463.4" y="453.8" font-size="7.2" textLength="6.3" lengthAdjust="spacingAndGlyphs" fill="#111" stroke="#111" stroke-width="0.30">lo</text>
<text x="469.6" y="457.1" font-size="10.2" textLength="17.5" lengthAdjust="spacingAndGlyphs" fill="#111" stroke="#111" stroke-width="0.30">CD5</text>
<text x="487.5" y="453.8" font-size="7.2" textLength="3.7" lengthAdjust="spacingAndGlyphs" fill="#111" stroke="#111" stroke-width="0.30">+</text>
<path d="M367.5 461.6H490.6" stroke="#8a8a8a" stroke-width="1.4"/>
<text x="381.2" y="474.6" font-size="10.4" textLength="22.2" lengthAdjust="spacingAndGlyphs" fill="#111" stroke="#111" stroke-width="0.45">CD34</text>
<text x="403.3" y="471.2" font-size="7.4" textLength="5.1" lengthAdjust="spacingAndGlyphs" fill="#111" stroke="#111" stroke-width="0.40">lo</text>
<text x="409.8" y="474.6" font-size="10.4" textLength="68.0" lengthAdjust="spacingAndGlyphs" fill="#111" stroke="#111" stroke-width="0.45">Subpopulations</text>
</svg></body></html>
